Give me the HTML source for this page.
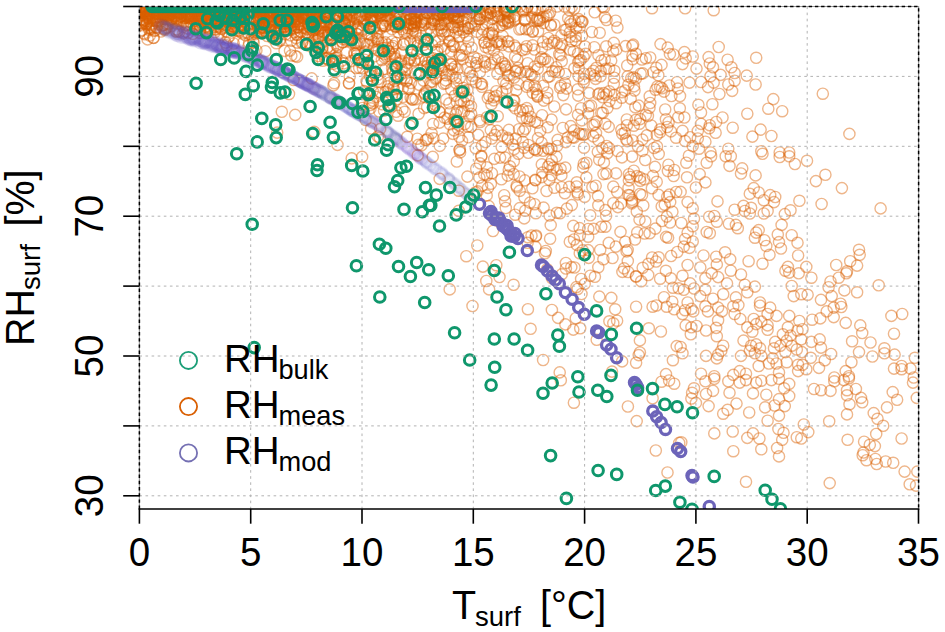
<!DOCTYPE html>
<html><head><meta charset="utf-8"><style>
html,body{margin:0;padding:0;background:#fff;}
svg{display:block;font-family:"Liberation Sans",sans-serif;}
</style></head><body>
<svg width="945" height="632" viewBox="0 0 945 632">
<rect width="945" height="632" fill="#fff"/>
<defs><clipPath id="pc"><rect x="139.4" y="6.5" width="779.2" height="502.5"/></clipPath></defs>
<g clip-path="url(#pc)">
<g fill="none" stroke="#d95f02" stroke-width="1.4" stroke-opacity="0.46">
<circle cx="713.0" cy="390.9" r="5.6"/>
<circle cx="584.0" cy="147.7" r="5.6"/>
<circle cx="507.3" cy="41.5" r="5.6"/>
<circle cx="370.9" cy="71.6" r="5.6"/>
<circle cx="270.2" cy="16.0" r="5.6"/>
<circle cx="438.2" cy="59.2" r="5.6"/>
<circle cx="439.7" cy="178.9" r="5.6"/>
<circle cx="231.9" cy="15.4" r="5.6"/>
<circle cx="358.1" cy="28.8" r="5.6"/>
<circle cx="648.4" cy="263.8" r="5.6"/>
<circle cx="421.4" cy="145.3" r="5.6"/>
<circle cx="287.6" cy="24.3" r="5.6"/>
<circle cx="302.5" cy="12.0" r="5.6"/>
<circle cx="427.1" cy="107.0" r="5.6"/>
<circle cx="426.6" cy="91.0" r="5.6"/>
<circle cx="311.9" cy="17.3" r="5.6"/>
<circle cx="542.3" cy="172.6" r="5.6"/>
<circle cx="561.4" cy="175.4" r="5.6"/>
<circle cx="277.5" cy="11.2" r="5.6"/>
<circle cx="344.8" cy="23.7" r="5.6"/>
<circle cx="165.4" cy="11.3" r="5.6"/>
<circle cx="508.4" cy="41.5" r="5.6"/>
<circle cx="385.5" cy="69.0" r="5.6"/>
<circle cx="201.0" cy="13.6" r="5.6"/>
<circle cx="147.6" cy="15.3" r="5.6"/>
<circle cx="916.0" cy="485.6" r="5.6"/>
<circle cx="628.4" cy="84.7" r="5.6"/>
<circle cx="276.1" cy="23.1" r="5.6"/>
<circle cx="799.4" cy="200.8" r="5.6"/>
<circle cx="219.7" cy="26.8" r="5.6"/>
<circle cx="289.1" cy="11.2" r="5.6"/>
<circle cx="242.2" cy="17.9" r="5.6"/>
<circle cx="183.4" cy="33.1" r="5.6"/>
<circle cx="142.0" cy="19.9" r="5.6"/>
<circle cx="470.2" cy="72.2" r="5.6"/>
<circle cx="323.5" cy="21.7" r="5.6"/>
<circle cx="258.9" cy="7.2" r="5.6"/>
<circle cx="543.2" cy="150.8" r="5.6"/>
<circle cx="259.0" cy="15.3" r="5.6"/>
<circle cx="297.1" cy="34.7" r="5.6"/>
<circle cx="214.2" cy="7.0" r="5.6"/>
<circle cx="561.8" cy="44.2" r="5.6"/>
<circle cx="144.9" cy="9.6" r="5.6"/>
<circle cx="146.6" cy="6.5" r="5.6"/>
<circle cx="447.5" cy="31.2" r="5.6"/>
<circle cx="373.3" cy="10.9" r="5.6"/>
<circle cx="363.7" cy="8.2" r="5.6"/>
<circle cx="694.0" cy="218.6" r="5.6"/>
<circle cx="606.3" cy="94.5" r="5.6"/>
<circle cx="270.4" cy="30.1" r="5.6"/>
<circle cx="260.5" cy="28.6" r="5.6"/>
<circle cx="358.0" cy="27.4" r="5.6"/>
<circle cx="575.8" cy="36.4" r="5.6"/>
<circle cx="365.7" cy="120.0" r="5.6"/>
<circle cx="377.2" cy="92.7" r="5.6"/>
<circle cx="465.0" cy="26.2" r="5.6"/>
<circle cx="375.7" cy="17.0" r="5.6"/>
<circle cx="571.1" cy="24.3" r="5.6"/>
<circle cx="238.2" cy="9.3" r="5.6"/>
<circle cx="527.6" cy="63.2" r="5.6"/>
<circle cx="139.9" cy="9.7" r="5.6"/>
<circle cx="687.6" cy="302.5" r="5.6"/>
<circle cx="735.9" cy="297.4" r="5.6"/>
<circle cx="382.7" cy="26.4" r="5.6"/>
<circle cx="457.9" cy="21.6" r="5.6"/>
<circle cx="453.3" cy="10.1" r="5.6"/>
<circle cx="559.2" cy="54.3" r="5.6"/>
<circle cx="775.2" cy="341.9" r="5.6"/>
<circle cx="431.9" cy="61.4" r="5.6"/>
<circle cx="635.9" cy="78.6" r="5.6"/>
<circle cx="601.3" cy="112.8" r="5.6"/>
<circle cx="489.3" cy="119.1" r="5.6"/>
<circle cx="613.8" cy="84.0" r="5.6"/>
<circle cx="337.8" cy="17.0" r="5.6"/>
<circle cx="737.8" cy="228.2" r="5.6"/>
<circle cx="458.2" cy="25.9" r="5.6"/>
<circle cx="325.2" cy="17.5" r="5.6"/>
<circle cx="785.4" cy="270.7" r="5.6"/>
<circle cx="749.8" cy="350.8" r="5.6"/>
<circle cx="609.2" cy="91.3" r="5.6"/>
<circle cx="373.8" cy="17.6" r="5.6"/>
<circle cx="709.2" cy="216.7" r="5.6"/>
<circle cx="302.4" cy="6.9" r="5.6"/>
<circle cx="241.3" cy="27.2" r="5.6"/>
<circle cx="300.5" cy="24.6" r="5.6"/>
<circle cx="364.5" cy="59.7" r="5.6"/>
<circle cx="171.5" cy="10.5" r="5.6"/>
<circle cx="541.3" cy="57.3" r="5.6"/>
<circle cx="578.7" cy="68.2" r="5.6"/>
<circle cx="547.9" cy="148.2" r="5.6"/>
<circle cx="602.8" cy="97.3" r="5.6"/>
<circle cx="444.3" cy="19.6" r="5.6"/>
<circle cx="749.2" cy="412.5" r="5.6"/>
<circle cx="509.9" cy="166.3" r="5.6"/>
<circle cx="336.9" cy="7.4" r="5.6"/>
<circle cx="687.6" cy="202.1" r="5.6"/>
<circle cx="268.7" cy="20.5" r="5.6"/>
<circle cx="482.9" cy="266.6" r="5.6"/>
<circle cx="293.0" cy="21.4" r="5.6"/>
<circle cx="192.0" cy="13.1" r="5.6"/>
<circle cx="380.8" cy="15.0" r="5.6"/>
<circle cx="263.8" cy="20.5" r="5.6"/>
<circle cx="244.3" cy="15.9" r="5.6"/>
<circle cx="418.3" cy="44.5" r="5.6"/>
<circle cx="699.7" cy="174.1" r="5.6"/>
<circle cx="284.6" cy="30.2" r="5.6"/>
<circle cx="651.2" cy="125.5" r="5.6"/>
<circle cx="341.2" cy="6.9" r="5.6"/>
<circle cx="549.6" cy="215.5" r="5.6"/>
<circle cx="751.1" cy="207.8" r="5.6"/>
<circle cx="417.6" cy="6.5" r="5.6"/>
<circle cx="406.5" cy="81.3" r="5.6"/>
<circle cx="537.2" cy="18.1" r="5.6"/>
<circle cx="403.6" cy="44.2" r="5.6"/>
<circle cx="275.5" cy="7.2" r="5.6"/>
<circle cx="789.2" cy="156.3" r="5.6"/>
<circle cx="667.9" cy="171.0" r="5.6"/>
<circle cx="268.6" cy="25.6" r="5.6"/>
<circle cx="190.0" cy="9.2" r="5.6"/>
<circle cx="476.2" cy="168.7" r="5.6"/>
<circle cx="336.9" cy="16.6" r="5.6"/>
<circle cx="422.1" cy="13.7" r="5.6"/>
<circle cx="622.4" cy="271.9" r="5.6"/>
<circle cx="460.8" cy="91.4" r="5.6"/>
<circle cx="268.2" cy="7.3" r="5.6"/>
<circle cx="746.0" cy="380.1" r="5.6"/>
<circle cx="605.4" cy="226.7" r="5.6"/>
<circle cx="471.1" cy="126.8" r="5.6"/>
<circle cx="244.9" cy="8.2" r="5.6"/>
<circle cx="231.6" cy="16.5" r="5.6"/>
<circle cx="700.3" cy="296.1" r="5.6"/>
<circle cx="778.4" cy="429.0" r="5.6"/>
<circle cx="674.2" cy="383.7" r="5.6"/>
<circle cx="447.5" cy="17.9" r="5.6"/>
<circle cx="450.5" cy="15.6" r="5.6"/>
<circle cx="221.9" cy="12.6" r="5.6"/>
<circle cx="519.7" cy="190.9" r="5.6"/>
<circle cx="335.0" cy="60.6" r="5.6"/>
<circle cx="282.7" cy="12.5" r="5.6"/>
<circle cx="370.5" cy="108.3" r="5.6"/>
<circle cx="149.9" cy="21.3" r="5.6"/>
<circle cx="344.1" cy="63.4" r="5.6"/>
<circle cx="308.3" cy="33.8" r="5.6"/>
<circle cx="427.6" cy="62.6" r="5.6"/>
<circle cx="635.3" cy="107.2" r="5.6"/>
<circle cx="847.6" cy="439.8" r="5.6"/>
<circle cx="472.5" cy="306.0" r="5.6"/>
<circle cx="574.3" cy="8.5" r="5.6"/>
<circle cx="424.7" cy="93.0" r="5.6"/>
<circle cx="378.2" cy="41.5" r="5.6"/>
<circle cx="914.9" cy="357.8" r="5.6"/>
<circle cx="151.3" cy="8.3" r="5.6"/>
<circle cx="168.0" cy="20.6" r="5.6"/>
<circle cx="168.9" cy="9.8" r="5.6"/>
<circle cx="609.5" cy="101.1" r="5.6"/>
<circle cx="280.4" cy="13.3" r="5.6"/>
<circle cx="357.3" cy="54.8" r="5.6"/>
<circle cx="176.5" cy="23.5" r="5.6"/>
<circle cx="682.5" cy="353.3" r="5.6"/>
<circle cx="656.4" cy="305.5" r="5.6"/>
<circle cx="530.5" cy="74.2" r="5.6"/>
<circle cx="497.4" cy="73.9" r="5.6"/>
<circle cx="349.0" cy="22.3" r="5.6"/>
<circle cx="432.2" cy="100.5" r="5.6"/>
<circle cx="463.0" cy="29.6" r="5.6"/>
<circle cx="143.8" cy="23.4" r="5.6"/>
<circle cx="249.1" cy="42.8" r="5.6"/>
<circle cx="797.5" cy="330.5" r="5.6"/>
<circle cx="162.6" cy="16.8" r="5.6"/>
<circle cx="371.2" cy="7.2" r="5.6"/>
<circle cx="377.7" cy="79.3" r="5.6"/>
<circle cx="627.9" cy="406.5" r="5.6"/>
<circle cx="426.7" cy="12.7" r="5.6"/>
<circle cx="282.4" cy="6.5" r="5.6"/>
<circle cx="414.5" cy="19.9" r="5.6"/>
<circle cx="537.2" cy="94.6" r="5.6"/>
<circle cx="351.0" cy="17.5" r="5.6"/>
<circle cx="396.1" cy="43.0" r="5.6"/>
<circle cx="355.7" cy="8.0" r="5.6"/>
<circle cx="307.9" cy="23.2" r="5.6"/>
<circle cx="577.4" cy="192.3" r="5.6"/>
<circle cx="502.0" cy="62.2" r="5.6"/>
<circle cx="445.0" cy="12.2" r="5.6"/>
<circle cx="317.3" cy="11.4" r="5.6"/>
<circle cx="819.7" cy="339.4" r="5.6"/>
<circle cx="764.4" cy="240.2" r="5.6"/>
<circle cx="717.5" cy="201.4" r="5.6"/>
<circle cx="189.3" cy="8.6" r="5.6"/>
<circle cx="767.6" cy="325.4" r="5.6"/>
<circle cx="661.5" cy="381.7" r="5.6"/>
<circle cx="473.0" cy="8.2" r="5.6"/>
<circle cx="156.9" cy="13.5" r="5.6"/>
<circle cx="264.1" cy="8.2" r="5.6"/>
<circle cx="141.7" cy="11.5" r="5.6"/>
<circle cx="569.2" cy="186.9" r="5.6"/>
<circle cx="276.4" cy="43.2" r="5.6"/>
<circle cx="377.7" cy="36.2" r="5.6"/>
<circle cx="504.8" cy="11.1" r="5.6"/>
<circle cx="194.9" cy="8.4" r="5.6"/>
<circle cx="167.4" cy="25.5" r="5.6"/>
<circle cx="282.9" cy="15.5" r="5.6"/>
<circle cx="747.3" cy="292.3" r="5.6"/>
<circle cx="579.1" cy="133.5" r="5.6"/>
<circle cx="163.0" cy="18.8" r="5.6"/>
<circle cx="257.0" cy="10.4" r="5.6"/>
<circle cx="173.0" cy="18.9" r="5.6"/>
<circle cx="596.6" cy="121.6" r="5.6"/>
<circle cx="359.2" cy="67.9" r="5.6"/>
<circle cx="645.2" cy="160.0" r="5.6"/>
<circle cx="174.7" cy="11.2" r="5.6"/>
<circle cx="545.0" cy="59.1" r="5.6"/>
<circle cx="557.7" cy="139.9" r="5.6"/>
<circle cx="146.5" cy="10.9" r="5.6"/>
<circle cx="709.2" cy="128.3" r="5.6"/>
<circle cx="385.5" cy="10.1" r="5.6"/>
<circle cx="404.6" cy="77.9" r="5.6"/>
<circle cx="156.8" cy="12.5" r="5.6"/>
<circle cx="716.2" cy="122.0" r="5.6"/>
<circle cx="452.9" cy="133.9" r="5.6"/>
<circle cx="467.6" cy="126.5" r="5.6"/>
<circle cx="349.7" cy="76.6" r="5.6"/>
<circle cx="432.5" cy="65.1" r="5.6"/>
<circle cx="348.9" cy="83.2" r="5.6"/>
<circle cx="594.9" cy="276.8" r="5.6"/>
<circle cx="476.3" cy="63.0" r="5.6"/>
<circle cx="603.5" cy="174.1" r="5.6"/>
<circle cx="248.4" cy="13.2" r="5.6"/>
<circle cx="509.7" cy="17.4" r="5.6"/>
<circle cx="437.4" cy="13.5" r="5.6"/>
<circle cx="150.5" cy="28.6" r="5.6"/>
<circle cx="441.4" cy="30.7" r="5.6"/>
<circle cx="456.8" cy="102.0" r="5.6"/>
<circle cx="499.3" cy="26.8" r="5.6"/>
<circle cx="396.1" cy="111.8" r="5.6"/>
<circle cx="445.1" cy="24.3" r="5.6"/>
<circle cx="571.8" cy="205.1" r="5.6"/>
<circle cx="598.0" cy="196.1" r="5.6"/>
<circle cx="874.9" cy="446.1" r="5.6"/>
<circle cx="338.0" cy="15.5" r="5.6"/>
<circle cx="369.0" cy="12.3" r="5.6"/>
<circle cx="390.1" cy="12.2" r="5.6"/>
<circle cx="162.7" cy="14.4" r="5.6"/>
<circle cx="433.1" cy="124.0" r="5.6"/>
<circle cx="565.3" cy="74.0" r="5.6"/>
<circle cx="550.7" cy="24.8" r="5.6"/>
<circle cx="300.1" cy="31.1" r="5.6"/>
<circle cx="444.4" cy="117.6" r="5.6"/>
<circle cx="202.8" cy="19.0" r="5.6"/>
<circle cx="543.3" cy="23.0" r="5.6"/>
<circle cx="652.1" cy="257.5" r="5.6"/>
<circle cx="733.3" cy="374.9" r="5.6"/>
<circle cx="214.7" cy="11.4" r="5.6"/>
<circle cx="617.1" cy="320.7" r="5.6"/>
<circle cx="246.0" cy="10.1" r="5.6"/>
<circle cx="417.5" cy="45.9" r="5.6"/>
<circle cx="279.9" cy="9.9" r="5.6"/>
<circle cx="341.2" cy="25.8" r="5.6"/>
<circle cx="439.3" cy="63.1" r="5.6"/>
<circle cx="471.2" cy="113.7" r="5.6"/>
<circle cx="242.8" cy="13.1" r="5.6"/>
<circle cx="615.2" cy="309.3" r="5.6"/>
<circle cx="450.0" cy="112.5" r="5.6"/>
<circle cx="189.8" cy="11.3" r="5.6"/>
<circle cx="270.3" cy="24.0" r="5.6"/>
<circle cx="603.4" cy="259.3" r="5.6"/>
<circle cx="578.6" cy="76.0" r="5.6"/>
<circle cx="506.2" cy="83.6" r="5.6"/>
<circle cx="566.2" cy="29.7" r="5.6"/>
<circle cx="214.8" cy="8.9" r="5.6"/>
<circle cx="440.9" cy="14.2" r="5.6"/>
<circle cx="180.8" cy="8.5" r="5.6"/>
<circle cx="494.9" cy="59.2" r="5.6"/>
<circle cx="487.4" cy="23.1" r="5.6"/>
<circle cx="458.2" cy="11.2" r="5.6"/>
<circle cx="246.5" cy="7.4" r="5.6"/>
<circle cx="139.5" cy="20.3" r="5.6"/>
<circle cx="636.9" cy="176.1" r="5.6"/>
<circle cx="163.7" cy="16.1" r="5.6"/>
<circle cx="656.1" cy="261.5" r="5.6"/>
<circle cx="627.7" cy="250.0" r="5.6"/>
<circle cx="184.9" cy="17.6" r="5.6"/>
<circle cx="396.7" cy="99.3" r="5.6"/>
<circle cx="293.9" cy="29.0" r="5.6"/>
<circle cx="161.0" cy="21.6" r="5.6"/>
<circle cx="205.3" cy="13.3" r="5.6"/>
<circle cx="676.7" cy="346.1" r="5.6"/>
<circle cx="631.3" cy="78.1" r="5.6"/>
<circle cx="661.5" cy="64.9" r="5.6"/>
<circle cx="561.7" cy="274.4" r="5.6"/>
<circle cx="489.8" cy="9.1" r="5.6"/>
<circle cx="368.1" cy="22.4" r="5.6"/>
<circle cx="721.9" cy="311.4" r="5.6"/>
<circle cx="507.8" cy="20.9" r="5.6"/>
<circle cx="231.0" cy="22.6" r="5.6"/>
<circle cx="168.9" cy="23.9" r="5.6"/>
<circle cx="556.4" cy="156.6" r="5.6"/>
<circle cx="269.5" cy="21.4" r="5.6"/>
<circle cx="149.2" cy="29.8" r="5.6"/>
<circle cx="487.3" cy="15.1" r="5.6"/>
<circle cx="723.2" cy="345.7" r="5.6"/>
<circle cx="439.5" cy="122.6" r="5.6"/>
<circle cx="366.9" cy="24.6" r="5.6"/>
<circle cx="457.7" cy="17.7" r="5.6"/>
<circle cx="253.4" cy="10.9" r="5.6"/>
<circle cx="181.1" cy="16.4" r="5.6"/>
<circle cx="797.5" cy="242.8" r="5.6"/>
<circle cx="378.6" cy="13.2" r="5.6"/>
<circle cx="255.7" cy="6.5" r="5.6"/>
<circle cx="633.8" cy="77.4" r="5.6"/>
<circle cx="250.9" cy="6.9" r="5.6"/>
<circle cx="332.7" cy="48.3" r="5.6"/>
<circle cx="350.6" cy="39.6" r="5.6"/>
<circle cx="695.9" cy="187.5" r="5.6"/>
<circle cx="234.4" cy="9.5" r="5.6"/>
<circle cx="660.5" cy="44.1" r="5.6"/>
<circle cx="520.0" cy="6.5" r="5.6"/>
<circle cx="403.3" cy="44.5" r="5.6"/>
<circle cx="830.5" cy="390.9" r="5.6"/>
<circle cx="625.6" cy="46.1" r="5.6"/>
<circle cx="487.8" cy="98.1" r="5.6"/>
<circle cx="236.6" cy="11.8" r="5.6"/>
<circle cx="356.9" cy="19.2" r="5.6"/>
<circle cx="192.9" cy="33.8" r="5.6"/>
<circle cx="770.2" cy="307.6" r="5.6"/>
<circle cx="535.3" cy="9.0" r="5.6"/>
<circle cx="564.9" cy="29.8" r="5.6"/>
<circle cx="439.6" cy="14.9" r="5.6"/>
<circle cx="705.4" cy="289.8" r="5.6"/>
<circle cx="467.6" cy="8.6" r="5.6"/>
<circle cx="650.2" cy="103.0" r="5.6"/>
<circle cx="292.8" cy="14.2" r="5.6"/>
<circle cx="744.8" cy="211.0" r="5.6"/>
<circle cx="524.8" cy="180.4" r="5.6"/>
<circle cx="424.4" cy="18.5" r="5.6"/>
<circle cx="497.7" cy="116.2" r="5.6"/>
<circle cx="685.1" cy="239.0" r="5.6"/>
<circle cx="560.0" cy="213.2" r="5.6"/>
<circle cx="289.9" cy="23.8" r="5.6"/>
<circle cx="489.1" cy="41.5" r="5.6"/>
<circle cx="443.6" cy="66.7" r="5.6"/>
<circle cx="570.1" cy="21.6" r="5.6"/>
<circle cx="277.5" cy="16.2" r="5.6"/>
<circle cx="393.9" cy="89.4" r="5.6"/>
<circle cx="201.2" cy="24.0" r="5.6"/>
<circle cx="277.7" cy="9.6" r="5.6"/>
<circle cx="414.2" cy="26.3" r="5.6"/>
<circle cx="268.1" cy="7.7" r="5.6"/>
<circle cx="453.4" cy="44.4" r="5.6"/>
<circle cx="465.8" cy="48.9" r="5.6"/>
<circle cx="176.5" cy="31.8" r="5.6"/>
<circle cx="232.4" cy="13.2" r="5.6"/>
<circle cx="382.1" cy="43.0" r="5.6"/>
<circle cx="549.4" cy="179.9" r="5.6"/>
<circle cx="514.4" cy="45.5" r="5.6"/>
<circle cx="180.8" cy="9.0" r="5.6"/>
<circle cx="140.7" cy="15.7" r="5.6"/>
<circle cx="178.4" cy="7.5" r="5.6"/>
<circle cx="153.5" cy="37.8" r="5.6"/>
<circle cx="467.1" cy="67.8" r="5.6"/>
<circle cx="565.3" cy="167.6" r="5.6"/>
<circle cx="356.6" cy="29.6" r="5.6"/>
<circle cx="336.3" cy="54.1" r="5.6"/>
<circle cx="314.7" cy="19.0" r="5.6"/>
<circle cx="169.8" cy="12.7" r="5.6"/>
<circle cx="243.3" cy="42.6" r="5.6"/>
<circle cx="485.6" cy="47.0" r="5.6"/>
<circle cx="171.7" cy="11.0" r="5.6"/>
<circle cx="793.7" cy="296.1" r="5.6"/>
<circle cx="139.7" cy="8.7" r="5.6"/>
<circle cx="193.3" cy="11.9" r="5.6"/>
<circle cx="204.4" cy="13.8" r="5.6"/>
<circle cx="302.4" cy="27.8" r="5.6"/>
<circle cx="516.9" cy="187.3" r="5.6"/>
<circle cx="692.7" cy="146.1" r="5.6"/>
<circle cx="283.3" cy="15.2" r="5.6"/>
<circle cx="595.6" cy="78.9" r="5.6"/>
<circle cx="614.4" cy="95.1" r="5.6"/>
<circle cx="551.5" cy="119.6" r="5.6"/>
<circle cx="728.3" cy="148.7" r="5.6"/>
<circle cx="701.0" cy="373.7" r="5.6"/>
<circle cx="701.0" cy="82.0" r="5.6"/>
<circle cx="227.2" cy="10.8" r="5.6"/>
<circle cx="512.9" cy="144.6" r="5.6"/>
<circle cx="285.7" cy="10.9" r="5.6"/>
<circle cx="502.5" cy="35.9" r="5.6"/>
<circle cx="691.4" cy="398.5" r="5.6"/>
<circle cx="188.0" cy="32.7" r="5.6"/>
<circle cx="576.4" cy="287.1" r="5.6"/>
<circle cx="410.0" cy="14.7" r="5.6"/>
<circle cx="654.1" cy="148.0" r="5.6"/>
<circle cx="394.3" cy="54.4" r="5.6"/>
<circle cx="380.9" cy="8.7" r="5.6"/>
<circle cx="670.9" cy="131.4" r="5.6"/>
<circle cx="322.6" cy="48.0" r="5.6"/>
<circle cx="744.8" cy="284.7" r="5.6"/>
<circle cx="208.5" cy="10.4" r="5.6"/>
<circle cx="462.8" cy="59.1" r="5.6"/>
<circle cx="485.1" cy="66.6" r="5.6"/>
<circle cx="370.2" cy="16.8" r="5.6"/>
<circle cx="183.1" cy="8.4" r="5.6"/>
<circle cx="425.6" cy="140.2" r="5.6"/>
<circle cx="779.0" cy="378.8" r="5.6"/>
<circle cx="493.7" cy="97.2" r="5.6"/>
<circle cx="366.5" cy="81.1" r="5.6"/>
<circle cx="289.0" cy="94.0" r="5.6"/>
<circle cx="477.6" cy="191.4" r="5.6"/>
<circle cx="505.1" cy="201.3" r="5.6"/>
<circle cx="146.3" cy="23.9" r="5.6"/>
<circle cx="365.6" cy="51.4" r="5.6"/>
<circle cx="442.2" cy="7.4" r="5.6"/>
<circle cx="264.1" cy="17.5" r="5.6"/>
<circle cx="180.2" cy="13.5" r="5.6"/>
<circle cx="607.2" cy="153.2" r="5.6"/>
<circle cx="740.3" cy="319.0" r="5.6"/>
<circle cx="779.0" cy="372.4" r="5.6"/>
<circle cx="716.8" cy="358.4" r="5.6"/>
<circle cx="242.5" cy="8.6" r="5.6"/>
<circle cx="281.1" cy="23.3" r="5.6"/>
<circle cx="230.0" cy="12.0" r="5.6"/>
<circle cx="539.9" cy="18.6" r="5.6"/>
<circle cx="672.9" cy="360.2" r="5.6"/>
<circle cx="441.7" cy="69.8" r="5.6"/>
<circle cx="410.9" cy="83.0" r="5.6"/>
<circle cx="629.7" cy="195.4" r="5.6"/>
<circle cx="190.5" cy="18.4" r="5.6"/>
<circle cx="304.2" cy="20.5" r="5.6"/>
<circle cx="407.4" cy="28.1" r="5.6"/>
<circle cx="186.9" cy="17.4" r="5.6"/>
<circle cx="801.3" cy="438.5" r="5.6"/>
<circle cx="741.0" cy="173.5" r="5.6"/>
<circle cx="811.4" cy="277.7" r="5.6"/>
<circle cx="758.7" cy="230.1" r="5.6"/>
<circle cx="782.2" cy="111.2" r="5.6"/>
<circle cx="540.2" cy="131.0" r="5.6"/>
<circle cx="443.8" cy="83.9" r="5.6"/>
<circle cx="515.3" cy="6.8" r="5.6"/>
<circle cx="175.6" cy="16.2" r="5.6"/>
<circle cx="207.3" cy="20.2" r="5.6"/>
<circle cx="481.0" cy="83.9" r="5.6"/>
<circle cx="161.7" cy="8.2" r="5.6"/>
<circle cx="420.5" cy="38.3" r="5.6"/>
<circle cx="632.7" cy="140.5" r="5.6"/>
<circle cx="404.3" cy="32.6" r="5.6"/>
<circle cx="346.0" cy="18.5" r="5.6"/>
<circle cx="537.1" cy="150.6" r="5.6"/>
<circle cx="613.3" cy="186.6" r="5.6"/>
<circle cx="305.0" cy="15.8" r="5.6"/>
<circle cx="680.0" cy="96.0" r="5.6"/>
<circle cx="162.8" cy="25.1" r="5.6"/>
<circle cx="573.9" cy="402.7" r="5.6"/>
<circle cx="312.7" cy="30.2" r="5.6"/>
<circle cx="462.0" cy="55.2" r="5.6"/>
<circle cx="399.8" cy="6.5" r="5.6"/>
<circle cx="252.7" cy="20.6" r="5.6"/>
<circle cx="408.8" cy="13.4" r="5.6"/>
<circle cx="214.6" cy="14.8" r="5.6"/>
<circle cx="320.7" cy="25.4" r="5.6"/>
<circle cx="259.7" cy="8.2" r="5.6"/>
<circle cx="359.9" cy="14.6" r="5.6"/>
<circle cx="439.9" cy="8.4" r="5.6"/>
<circle cx="644.6" cy="233.5" r="5.6"/>
<circle cx="489.1" cy="289.4" r="5.6"/>
<circle cx="219.8" cy="23.9" r="5.6"/>
<circle cx="608.7" cy="126.9" r="5.6"/>
<circle cx="318.8" cy="18.9" r="5.6"/>
<circle cx="409.3" cy="59.6" r="5.6"/>
<circle cx="506.5" cy="10.6" r="5.6"/>
<circle cx="756.2" cy="324.1" r="5.6"/>
<circle cx="525.3" cy="20.6" r="5.6"/>
<circle cx="185.0" cy="31.7" r="5.6"/>
<circle cx="598.5" cy="140.4" r="5.6"/>
<circle cx="626.6" cy="251.4" r="5.6"/>
<circle cx="668.6" cy="122.2" r="5.6"/>
<circle cx="516.6" cy="185.7" r="5.6"/>
<circle cx="338.9" cy="7.5" r="5.6"/>
<circle cx="684.4" cy="117.5" r="5.6"/>
<circle cx="276.9" cy="16.3" r="5.6"/>
<circle cx="243.9" cy="24.8" r="5.6"/>
<circle cx="875.4" cy="459.0" r="5.6"/>
<circle cx="683.8" cy="246.6" r="5.6"/>
<circle cx="425.6" cy="60.8" r="5.6"/>
<circle cx="184.6" cy="15.8" r="5.6"/>
<circle cx="234.7" cy="7.9" r="5.6"/>
<circle cx="588.3" cy="229.0" r="5.6"/>
<circle cx="433.1" cy="19.6" r="5.6"/>
<circle cx="180.2" cy="8.8" r="5.6"/>
<circle cx="308.9" cy="43.1" r="5.6"/>
<circle cx="681.3" cy="223.0" r="5.6"/>
<circle cx="526.6" cy="46.2" r="5.6"/>
<circle cx="260.2" cy="31.9" r="5.6"/>
<circle cx="437.6" cy="49.8" r="5.6"/>
<circle cx="395.3" cy="19.0" r="5.6"/>
<circle cx="391.8" cy="94.8" r="5.6"/>
<circle cx="831.1" cy="354.0" r="5.6"/>
<circle cx="349.2" cy="19.6" r="5.6"/>
<circle cx="175.6" cy="6.9" r="5.6"/>
<circle cx="609.4" cy="321.3" r="5.6"/>
<circle cx="231.6" cy="10.1" r="5.6"/>
<circle cx="195.7" cy="10.3" r="5.6"/>
<circle cx="149.1" cy="9.4" r="5.6"/>
<circle cx="593.3" cy="136.4" r="5.6"/>
<circle cx="170.5" cy="11.3" r="5.6"/>
<circle cx="303.5" cy="18.2" r="5.6"/>
<circle cx="258.6" cy="6.5" r="5.6"/>
<circle cx="636.1" cy="276.6" r="5.6"/>
<circle cx="386.3" cy="47.9" r="5.6"/>
<circle cx="749.8" cy="193.8" r="5.6"/>
<circle cx="156.6" cy="27.5" r="5.6"/>
<circle cx="302.1" cy="23.9" r="5.6"/>
<circle cx="356.7" cy="42.8" r="5.6"/>
<circle cx="515.5" cy="7.1" r="5.6"/>
<circle cx="142.0" cy="15.2" r="5.6"/>
<circle cx="520.1" cy="111.4" r="5.6"/>
<circle cx="401.0" cy="60.8" r="5.6"/>
<circle cx="730.8" cy="156.3" r="5.6"/>
<circle cx="826.7" cy="311.4" r="5.6"/>
<circle cx="535.1" cy="121.7" r="5.6"/>
<circle cx="671.1" cy="256.0" r="5.6"/>
<circle cx="798.1" cy="255.5" r="5.6"/>
<circle cx="434.4" cy="68.9" r="5.6"/>
<circle cx="157.4" cy="21.6" r="5.6"/>
<circle cx="526.8" cy="108.1" r="5.6"/>
<circle cx="760.6" cy="129.6" r="5.6"/>
<circle cx="901.6" cy="366.0" r="5.6"/>
<circle cx="480.1" cy="122.0" r="5.6"/>
<circle cx="640.7" cy="73.7" r="5.6"/>
<circle cx="400.1" cy="15.7" r="5.6"/>
<circle cx="552.3" cy="71.1" r="5.6"/>
<circle cx="295.6" cy="13.7" r="5.6"/>
<circle cx="376.5" cy="39.1" r="5.6"/>
<circle cx="486.7" cy="195.4" r="5.6"/>
<circle cx="382.7" cy="69.5" r="5.6"/>
<circle cx="502.0" cy="45.0" r="5.6"/>
<circle cx="381.3" cy="52.6" r="5.6"/>
<circle cx="382.6" cy="25.1" r="5.6"/>
<circle cx="637.2" cy="232.4" r="5.6"/>
<circle cx="371.7" cy="35.4" r="5.6"/>
<circle cx="194.6" cy="11.2" r="5.6"/>
<circle cx="887.0" cy="407.4" r="5.6"/>
<circle cx="440.1" cy="68.0" r="5.6"/>
<circle cx="630.7" cy="98.7" r="5.6"/>
<circle cx="351.2" cy="37.4" r="5.6"/>
<circle cx="260.1" cy="8.4" r="5.6"/>
<circle cx="369.2" cy="34.2" r="5.6"/>
<circle cx="545.8" cy="8.1" r="5.6"/>
<circle cx="566.8" cy="208.6" r="5.6"/>
<circle cx="210.0" cy="6.5" r="5.6"/>
<circle cx="159.2" cy="13.9" r="5.6"/>
<circle cx="227.8" cy="19.2" r="5.6"/>
<circle cx="447.5" cy="118.8" r="5.6"/>
<circle cx="417.7" cy="41.5" r="5.6"/>
<circle cx="193.8" cy="7.2" r="5.6"/>
<circle cx="361.5" cy="104.7" r="5.6"/>
<circle cx="530.6" cy="116.7" r="5.6"/>
<circle cx="262.9" cy="11.1" r="5.6"/>
<circle cx="700.3" cy="267.5" r="5.6"/>
<circle cx="385.5" cy="7.1" r="5.6"/>
<circle cx="183.9" cy="21.8" r="5.6"/>
<circle cx="564.9" cy="193.2" r="5.6"/>
<circle cx="251.6" cy="29.5" r="5.6"/>
<circle cx="584.7" cy="134.4" r="5.6"/>
<circle cx="482.9" cy="29.5" r="5.6"/>
<circle cx="250.2" cy="6.5" r="5.6"/>
<circle cx="343.0" cy="33.5" r="5.6"/>
<circle cx="200.8" cy="11.4" r="5.6"/>
<circle cx="643.3" cy="205.5" r="5.6"/>
<circle cx="258.9" cy="22.8" r="5.6"/>
<circle cx="454.0" cy="18.3" r="5.6"/>
<circle cx="333.8" cy="8.0" r="5.6"/>
<circle cx="360.3" cy="43.3" r="5.6"/>
<circle cx="527.9" cy="237.2" r="5.6"/>
<circle cx="226.0" cy="31.3" r="5.6"/>
<circle cx="445.8" cy="83.3" r="5.6"/>
<circle cx="227.8" cy="8.3" r="5.6"/>
<circle cx="406.7" cy="80.4" r="5.6"/>
<circle cx="789.2" cy="315.9" r="5.6"/>
<circle cx="169.1" cy="15.7" r="5.6"/>
<circle cx="505.3" cy="23.6" r="5.6"/>
<circle cx="467.8" cy="28.3" r="5.6"/>
<circle cx="765.1" cy="407.4" r="5.6"/>
<circle cx="772.7" cy="358.4" r="5.6"/>
<circle cx="278.1" cy="33.0" r="5.6"/>
<circle cx="616.0" cy="103.2" r="5.6"/>
<circle cx="163.7" cy="12.2" r="5.6"/>
<circle cx="565.4" cy="324.4" r="5.6"/>
<circle cx="237.2" cy="14.5" r="5.6"/>
<circle cx="628.9" cy="174.2" r="5.6"/>
<circle cx="206.4" cy="19.5" r="5.6"/>
<circle cx="537.5" cy="20.6" r="5.6"/>
<circle cx="880.6" cy="208.4" r="5.6"/>
<circle cx="509.2" cy="7.5" r="5.6"/>
<circle cx="234.2" cy="14.2" r="5.6"/>
<circle cx="290.9" cy="28.5" r="5.6"/>
<circle cx="810.8" cy="357.8" r="5.6"/>
<circle cx="518.4" cy="84.1" r="5.6"/>
<circle cx="407.2" cy="136.8" r="5.6"/>
<circle cx="144.0" cy="13.1" r="5.6"/>
<circle cx="213.3" cy="9.6" r="5.6"/>
<circle cx="212.4" cy="19.5" r="5.6"/>
<circle cx="622.1" cy="361.4" r="5.6"/>
<circle cx="431.5" cy="74.3" r="5.6"/>
<circle cx="775.2" cy="197.0" r="5.6"/>
<circle cx="791.7" cy="286.0" r="5.6"/>
<circle cx="328.9" cy="10.5" r="5.6"/>
<circle cx="263.5" cy="27.9" r="5.6"/>
<circle cx="489.9" cy="64.5" r="5.6"/>
<circle cx="767.6" cy="329.8" r="5.6"/>
<circle cx="727.6" cy="409.9" r="5.6"/>
<circle cx="316.9" cy="40.5" r="5.6"/>
<circle cx="154.2" cy="10.7" r="5.6"/>
<circle cx="228.7" cy="7.8" r="5.6"/>
<circle cx="449.9" cy="41.2" r="5.6"/>
<circle cx="843.8" cy="380.1" r="5.6"/>
<circle cx="329.3" cy="16.4" r="5.6"/>
<circle cx="508.2" cy="17.6" r="5.6"/>
<circle cx="688.9" cy="155.7" r="5.6"/>
<circle cx="199.9" cy="30.1" r="5.6"/>
<circle cx="388.6" cy="89.4" r="5.6"/>
<circle cx="706.7" cy="162.7" r="5.6"/>
<circle cx="288.9" cy="8.1" r="5.6"/>
<circle cx="298.2" cy="27.1" r="5.6"/>
<circle cx="141.8" cy="7.6" r="5.6"/>
<circle cx="758.7" cy="366.0" r="5.6"/>
<circle cx="350.5" cy="32.3" r="5.6"/>
<circle cx="424.9" cy="6.5" r="5.6"/>
<circle cx="154.9" cy="30.3" r="5.6"/>
<circle cx="441.4" cy="12.5" r="5.6"/>
<circle cx="464.8" cy="124.1" r="5.6"/>
<circle cx="269.2" cy="33.2" r="5.6"/>
<circle cx="373.0" cy="100.7" r="5.6"/>
<circle cx="634.5" cy="90.5" r="5.6"/>
<circle cx="679.2" cy="442.9" r="5.6"/>
<circle cx="369.6" cy="102.5" r="5.6"/>
<circle cx="290.5" cy="29.7" r="5.6"/>
<circle cx="715.6" cy="132.8" r="5.6"/>
<circle cx="173.3" cy="6.5" r="5.6"/>
<circle cx="231.5" cy="19.0" r="5.6"/>
<circle cx="402.3" cy="29.2" r="5.6"/>
<circle cx="706.0" cy="355.9" r="5.6"/>
<circle cx="760.0" cy="305.7" r="5.6"/>
<circle cx="354.9" cy="43.0" r="5.6"/>
<circle cx="477.4" cy="58.7" r="5.6"/>
<circle cx="459.0" cy="29.7" r="5.6"/>
<circle cx="571.8" cy="7.1" r="5.6"/>
<circle cx="786.7" cy="362.2" r="5.6"/>
<circle cx="524.4" cy="19.9" r="5.6"/>
<circle cx="551.5" cy="175.4" r="5.6"/>
<circle cx="652.9" cy="175.9" r="5.6"/>
<circle cx="153.0" cy="20.4" r="5.6"/>
<circle cx="460.3" cy="7.6" r="5.6"/>
<circle cx="333.7" cy="19.3" r="5.6"/>
<circle cx="885.6" cy="461.5" r="5.6"/>
<circle cx="195.2" cy="6.6" r="5.6"/>
<circle cx="338.0" cy="15.5" r="5.6"/>
<circle cx="419.2" cy="6.5" r="5.6"/>
<circle cx="697.8" cy="138.5" r="5.6"/>
<circle cx="384.5" cy="57.4" r="5.6"/>
<circle cx="148.3" cy="18.3" r="5.6"/>
<circle cx="263.5" cy="19.5" r="5.6"/>
<circle cx="844.4" cy="290.4" r="5.6"/>
<circle cx="424.8" cy="94.3" r="5.6"/>
<circle cx="388.8" cy="51.5" r="5.6"/>
<circle cx="292.9" cy="9.1" r="5.6"/>
<circle cx="173.6" cy="15.6" r="5.6"/>
<circle cx="468.1" cy="27.9" r="5.6"/>
<circle cx="197.7" cy="13.6" r="5.6"/>
<circle cx="141.8" cy="30.0" r="5.6"/>
<circle cx="339.3" cy="36.4" r="5.6"/>
<circle cx="169.4" cy="12.0" r="5.6"/>
<circle cx="462.0" cy="140.9" r="5.6"/>
<circle cx="226.6" cy="45.2" r="5.6"/>
<circle cx="266.2" cy="12.2" r="5.6"/>
<circle cx="444.8" cy="31.5" r="5.6"/>
<circle cx="455.3" cy="120.9" r="5.6"/>
<circle cx="485.3" cy="62.4" r="5.6"/>
<circle cx="655.6" cy="89.7" r="5.6"/>
<circle cx="819.0" cy="367.9" r="5.6"/>
<circle cx="705.4" cy="141.7" r="5.6"/>
<circle cx="402.7" cy="88.5" r="5.6"/>
<circle cx="414.8" cy="18.7" r="5.6"/>
<circle cx="652.6" cy="398.3" r="5.6"/>
<circle cx="747.3" cy="327.3" r="5.6"/>
<circle cx="547.7" cy="127.3" r="5.6"/>
<circle cx="507.9" cy="75.3" r="5.6"/>
<circle cx="779.7" cy="152.5" r="5.6"/>
<circle cx="631.9" cy="199.8" r="5.6"/>
<circle cx="551.9" cy="310.0" r="5.6"/>
<circle cx="146.4" cy="11.2" r="5.6"/>
<circle cx="641.2" cy="281.3" r="5.6"/>
<circle cx="140.6" cy="25.4" r="5.6"/>
<circle cx="271.5" cy="31.5" r="5.6"/>
<circle cx="655.0" cy="166.9" r="5.6"/>
<circle cx="199.8" cy="32.8" r="5.6"/>
<circle cx="714.3" cy="216.0" r="5.6"/>
<circle cx="332.5" cy="28.5" r="5.6"/>
<circle cx="716.8" cy="264.4" r="5.6"/>
<circle cx="269.2" cy="12.4" r="5.6"/>
<circle cx="456.5" cy="17.9" r="5.6"/>
<circle cx="666.6" cy="306.7" r="5.6"/>
<circle cx="556.8" cy="169.6" r="5.6"/>
<circle cx="254.4" cy="8.7" r="5.6"/>
<circle cx="414.2" cy="60.8" r="5.6"/>
<circle cx="450.1" cy="124.3" r="5.6"/>
<circle cx="288.6" cy="21.6" r="5.6"/>
<circle cx="534.4" cy="49.5" r="5.6"/>
<circle cx="451.1" cy="6.8" r="5.6"/>
<circle cx="140.3" cy="11.2" r="5.6"/>
<circle cx="225.1" cy="14.5" r="5.6"/>
<circle cx="336.3" cy="57.5" r="5.6"/>
<circle cx="490.4" cy="13.2" r="5.6"/>
<circle cx="359.3" cy="40.6" r="5.6"/>
<circle cx="578.0" cy="114.8" r="5.6"/>
<circle cx="677.0" cy="82.2" r="5.6"/>
<circle cx="453.8" cy="119.6" r="5.6"/>
<circle cx="278.3" cy="36.0" r="5.6"/>
<circle cx="277.6" cy="15.2" r="5.6"/>
<circle cx="149.4" cy="17.9" r="5.6"/>
<circle cx="415.3" cy="22.8" r="5.6"/>
<circle cx="735.9" cy="224.9" r="5.6"/>
<circle cx="489.4" cy="95.9" r="5.6"/>
<circle cx="281.8" cy="13.3" r="5.6"/>
<circle cx="155.5" cy="18.1" r="5.6"/>
<circle cx="154.5" cy="30.8" r="5.6"/>
<circle cx="273.7" cy="37.0" r="5.6"/>
<circle cx="496.4" cy="91.2" r="5.6"/>
<circle cx="452.6" cy="75.9" r="5.6"/>
<circle cx="720.6" cy="74.9" r="5.6"/>
<circle cx="139.7" cy="12.4" r="5.6"/>
<circle cx="523.1" cy="9.8" r="5.6"/>
<circle cx="485.4" cy="142.1" r="5.6"/>
<circle cx="706.0" cy="394.0" r="5.6"/>
<circle cx="472.2" cy="12.4" r="5.6"/>
<circle cx="251.4" cy="9.4" r="5.6"/>
<circle cx="482.0" cy="84.1" r="5.6"/>
<circle cx="144.8" cy="34.3" r="5.6"/>
<circle cx="250.4" cy="11.1" r="5.6"/>
<circle cx="391.6" cy="20.1" r="5.6"/>
<circle cx="617.4" cy="27.5" r="5.6"/>
<circle cx="299.9" cy="9.6" r="5.6"/>
<circle cx="210.5" cy="30.1" r="5.6"/>
<circle cx="386.5" cy="11.3" r="5.6"/>
<circle cx="256.1" cy="23.0" r="5.6"/>
<circle cx="333.4" cy="85.4" r="5.6"/>
<circle cx="351.5" cy="41.8" r="5.6"/>
<circle cx="262.4" cy="27.4" r="5.6"/>
<circle cx="658.6" cy="194.9" r="5.6"/>
<circle cx="716.2" cy="256.7" r="5.6"/>
<circle cx="366.9" cy="44.5" r="5.6"/>
<circle cx="279.4" cy="20.2" r="5.6"/>
<circle cx="883.2" cy="425.8" r="5.6"/>
<circle cx="626.1" cy="139.2" r="5.6"/>
<circle cx="535.2" cy="179.9" r="5.6"/>
<circle cx="561.7" cy="61.3" r="5.6"/>
<circle cx="814.0" cy="389.0" r="5.6"/>
<circle cx="613.3" cy="203.2" r="5.6"/>
<circle cx="694.0" cy="288.5" r="5.6"/>
<circle cx="156.8" cy="10.5" r="5.6"/>
<circle cx="311.9" cy="17.6" r="5.6"/>
<circle cx="594.3" cy="47.2" r="5.6"/>
<circle cx="557.1" cy="6.5" r="5.6"/>
<circle cx="371.9" cy="6.9" r="5.6"/>
<circle cx="357.8" cy="18.3" r="5.6"/>
<circle cx="756.2" cy="344.4" r="5.6"/>
<circle cx="418.6" cy="113.8" r="5.6"/>
<circle cx="265.9" cy="6.5" r="5.6"/>
<circle cx="400.4" cy="74.7" r="5.6"/>
<circle cx="237.9" cy="8.3" r="5.6"/>
<circle cx="534.5" cy="76.7" r="5.6"/>
<circle cx="581.8" cy="120.4" r="5.6"/>
<circle cx="190.8" cy="11.4" r="5.6"/>
<circle cx="306.5" cy="25.8" r="5.6"/>
<circle cx="190.7" cy="13.8" r="5.6"/>
<circle cx="193.3" cy="7.1" r="5.6"/>
<circle cx="266.6" cy="7.7" r="5.6"/>
<circle cx="762.5" cy="153.8" r="5.6"/>
<circle cx="486.3" cy="281.0" r="5.6"/>
<circle cx="272.4" cy="10.7" r="5.6"/>
<circle cx="703.5" cy="255.5" r="5.6"/>
<circle cx="142.9" cy="20.5" r="5.6"/>
<circle cx="670.2" cy="202.1" r="5.6"/>
<circle cx="335.6" cy="60.5" r="5.6"/>
<circle cx="384.7" cy="10.4" r="5.6"/>
<circle cx="244.3" cy="14.2" r="5.6"/>
<circle cx="596.4" cy="67.8" r="5.6"/>
<circle cx="723.2" cy="294.2" r="5.6"/>
<circle cx="581.0" cy="21.3" r="5.6"/>
<circle cx="502.2" cy="25.0" r="5.6"/>
<circle cx="182.7" cy="6.5" r="5.6"/>
<circle cx="518.3" cy="153.8" r="5.6"/>
<circle cx="910.5" cy="368.6" r="5.6"/>
<circle cx="753.7" cy="319.0" r="5.6"/>
<circle cx="299.2" cy="7.8" r="5.6"/>
<circle cx="433.0" cy="13.3" r="5.6"/>
<circle cx="493.7" cy="18.1" r="5.6"/>
<circle cx="143.6" cy="12.8" r="5.6"/>
<circle cx="676.2" cy="192.0" r="5.6"/>
<circle cx="612.5" cy="258.0" r="5.6"/>
<circle cx="390.7" cy="7.4" r="5.6"/>
<circle cx="404.7" cy="111.8" r="5.6"/>
<circle cx="577.8" cy="89.3" r="5.6"/>
<circle cx="257.9" cy="8.7" r="5.6"/>
<circle cx="297.8" cy="18.8" r="5.6"/>
<circle cx="308.1" cy="12.9" r="5.6"/>
<circle cx="368.4" cy="44.5" r="5.6"/>
<circle cx="143.1" cy="21.4" r="5.6"/>
<circle cx="340.1" cy="16.4" r="5.6"/>
<circle cx="687.6" cy="232.6" r="5.6"/>
<circle cx="787.9" cy="327.3" r="5.6"/>
<circle cx="433.5" cy="138.4" r="5.6"/>
<circle cx="766.3" cy="246.0" r="5.6"/>
<circle cx="522.8" cy="110.0" r="5.6"/>
<circle cx="335.4" cy="71.9" r="5.6"/>
<circle cx="573.3" cy="225.9" r="5.6"/>
<circle cx="430.9" cy="66.9" r="5.6"/>
<circle cx="296.5" cy="7.1" r="5.6"/>
<circle cx="705.4" cy="182.4" r="5.6"/>
<circle cx="651.9" cy="188.3" r="5.6"/>
<circle cx="170.5" cy="7.9" r="5.6"/>
<circle cx="190.2" cy="21.9" r="5.6"/>
<circle cx="333.9" cy="31.8" r="5.6"/>
<circle cx="391.9" cy="29.0" r="5.6"/>
<circle cx="479.4" cy="18.9" r="5.6"/>
<circle cx="504.5" cy="8.9" r="5.6"/>
<circle cx="182.7" cy="12.0" r="5.6"/>
<circle cx="790.5" cy="335.6" r="5.6"/>
<circle cx="149.2" cy="7.9" r="5.6"/>
<circle cx="344.1" cy="15.1" r="5.6"/>
<circle cx="761.3" cy="380.7" r="5.6"/>
<circle cx="172.2" cy="8.7" r="5.6"/>
<circle cx="275.5" cy="8.3" r="5.6"/>
<circle cx="576.8" cy="244.9" r="5.6"/>
<circle cx="380.6" cy="9.7" r="5.6"/>
<circle cx="626.9" cy="125.2" r="5.6"/>
<circle cx="468.8" cy="28.7" r="5.6"/>
<circle cx="682.5" cy="64.1" r="5.6"/>
<circle cx="306.9" cy="10.1" r="5.6"/>
<circle cx="421.3" cy="22.2" r="5.6"/>
<circle cx="410.3" cy="41.4" r="5.6"/>
<circle cx="443.4" cy="9.8" r="5.6"/>
<circle cx="239.9" cy="7.5" r="5.6"/>
<circle cx="333.3" cy="26.3" r="5.6"/>
<circle cx="373.8" cy="47.8" r="5.6"/>
<circle cx="443.2" cy="138.6" r="5.6"/>
<circle cx="358.3" cy="27.9" r="5.6"/>
<circle cx="515.1" cy="56.5" r="5.6"/>
<circle cx="514.3" cy="100.6" r="5.6"/>
<circle cx="277.8" cy="16.7" r="5.6"/>
<circle cx="199.3" cy="18.6" r="5.6"/>
<circle cx="427.8" cy="138.5" r="5.6"/>
<circle cx="231.0" cy="18.9" r="5.6"/>
<circle cx="728.3" cy="381.3" r="5.6"/>
<circle cx="582.0" cy="35.7" r="5.6"/>
<circle cx="690.2" cy="137.2" r="5.6"/>
<circle cx="771.4" cy="380.1" r="5.6"/>
<circle cx="146.8" cy="16.4" r="5.6"/>
<circle cx="426.5" cy="139.9" r="5.6"/>
<circle cx="604.7" cy="59.7" r="5.6"/>
<circle cx="264.0" cy="11.7" r="5.6"/>
<circle cx="238.5" cy="15.4" r="5.6"/>
<circle cx="445.6" cy="6.5" r="5.6"/>
<circle cx="554.1" cy="40.8" r="5.6"/>
<circle cx="714.3" cy="378.8" r="5.6"/>
<circle cx="460.7" cy="47.1" r="5.6"/>
<circle cx="522.8" cy="141.9" r="5.6"/>
<circle cx="417.3" cy="138.7" r="5.6"/>
<circle cx="481.3" cy="156.6" r="5.6"/>
<circle cx="199.9" cy="16.4" r="5.6"/>
<circle cx="480.1" cy="19.2" r="5.6"/>
<circle cx="294.4" cy="21.9" r="5.6"/>
<circle cx="140.6" cy="6.5" r="5.6"/>
<circle cx="658.3" cy="75.3" r="5.6"/>
<circle cx="468.9" cy="8.7" r="5.6"/>
<circle cx="149.7" cy="13.7" r="5.6"/>
<circle cx="612.0" cy="371.6" r="5.6"/>
<circle cx="869.8" cy="444.8" r="5.6"/>
<circle cx="302.4" cy="42.1" r="5.6"/>
<circle cx="480.2" cy="15.5" r="5.6"/>
<circle cx="325.8" cy="6.5" r="5.6"/>
<circle cx="657.4" cy="86.5" r="5.6"/>
<circle cx="319.0" cy="36.0" r="5.6"/>
<circle cx="457.3" cy="12.1" r="5.6"/>
<circle cx="628.4" cy="195.0" r="5.6"/>
<circle cx="392.1" cy="68.3" r="5.6"/>
<circle cx="689.5" cy="247.9" r="5.6"/>
<circle cx="320.5" cy="28.5" r="5.6"/>
<circle cx="679.8" cy="108.3" r="5.6"/>
<circle cx="215.1" cy="18.4" r="5.6"/>
<circle cx="598.3" cy="94.3" r="5.6"/>
<circle cx="220.4" cy="16.6" r="5.6"/>
<circle cx="295.4" cy="18.5" r="5.6"/>
<circle cx="696.5" cy="68.6" r="5.6"/>
<circle cx="459.0" cy="91.1" r="5.6"/>
<circle cx="848.9" cy="378.2" r="5.6"/>
<circle cx="447.7" cy="6.5" r="5.6"/>
<circle cx="860.3" cy="325.4" r="5.6"/>
<circle cx="347.1" cy="7.1" r="5.6"/>
<circle cx="668.4" cy="164.7" r="5.6"/>
<circle cx="494.3" cy="158.9" r="5.6"/>
<circle cx="418.5" cy="75.3" r="5.6"/>
<circle cx="419.4" cy="84.9" r="5.6"/>
<circle cx="378.0" cy="39.2" r="5.6"/>
<circle cx="411.7" cy="54.7" r="5.6"/>
<circle cx="535.4" cy="246.9" r="5.6"/>
<circle cx="475.6" cy="192.3" r="5.6"/>
<circle cx="466.3" cy="256.2" r="5.6"/>
<circle cx="474.1" cy="57.1" r="5.6"/>
<circle cx="146.6" cy="10.4" r="5.6"/>
<circle cx="146.5" cy="23.6" r="5.6"/>
<circle cx="633.8" cy="125.7" r="5.6"/>
<circle cx="270.4" cy="6.5" r="5.6"/>
<circle cx="414.7" cy="12.8" r="5.6"/>
<circle cx="641.8" cy="59.5" r="5.6"/>
<circle cx="673.5" cy="54.5" r="5.6"/>
<circle cx="498.4" cy="17.3" r="5.6"/>
<circle cx="852.1" cy="341.3" r="5.6"/>
<circle cx="796.8" cy="349.5" r="5.6"/>
<circle cx="730.2" cy="259.3" r="5.6"/>
<circle cx="433.1" cy="58.2" r="5.6"/>
<circle cx="496.3" cy="265.2" r="5.6"/>
<circle cx="670.8" cy="278.3" r="5.6"/>
<circle cx="743.5" cy="340.6" r="5.6"/>
<circle cx="645.7" cy="114.9" r="5.6"/>
<circle cx="632.2" cy="201.9" r="5.6"/>
<circle cx="231.4" cy="16.8" r="5.6"/>
<circle cx="685.1" cy="310.2" r="5.6"/>
<circle cx="647.9" cy="116.0" r="5.6"/>
<circle cx="847.0" cy="414.4" r="5.6"/>
<circle cx="306.8" cy="15.8" r="5.6"/>
<circle cx="859.7" cy="254.8" r="5.6"/>
<circle cx="372.7" cy="8.5" r="5.6"/>
<circle cx="468.4" cy="106.0" r="5.6"/>
<circle cx="217.5" cy="26.6" r="5.6"/>
<circle cx="594.7" cy="12.3" r="5.6"/>
<circle cx="524.2" cy="218.4" r="5.6"/>
<circle cx="346.6" cy="10.4" r="5.6"/>
<circle cx="364.0" cy="21.1" r="5.6"/>
<circle cx="388.2" cy="15.5" r="5.6"/>
<circle cx="293.8" cy="27.8" r="5.6"/>
<circle cx="616.4" cy="49.5" r="5.6"/>
<circle cx="605.3" cy="123.8" r="5.6"/>
<circle cx="164.0" cy="12.3" r="5.6"/>
<circle cx="308.9" cy="17.5" r="5.6"/>
<circle cx="233.9" cy="20.5" r="5.6"/>
<circle cx="287.9" cy="10.7" r="5.6"/>
<circle cx="224.0" cy="15.8" r="5.6"/>
<circle cx="293.5" cy="6.5" r="5.6"/>
<circle cx="154.3" cy="13.5" r="5.6"/>
<circle cx="781.6" cy="224.9" r="5.6"/>
<circle cx="280.3" cy="21.4" r="5.6"/>
<circle cx="297.7" cy="7.2" r="5.6"/>
<circle cx="451.2" cy="89.2" r="5.6"/>
<circle cx="364.4" cy="22.0" r="5.6"/>
<circle cx="295.6" cy="12.0" r="5.6"/>
<circle cx="172.4" cy="13.8" r="5.6"/>
<circle cx="519.4" cy="29.5" r="5.6"/>
<circle cx="431.0" cy="7.8" r="5.6"/>
<circle cx="167.3" cy="10.9" r="5.6"/>
<circle cx="357.5" cy="31.3" r="5.6"/>
<circle cx="187.0" cy="25.2" r="5.6"/>
<circle cx="553.4" cy="167.7" r="5.6"/>
<circle cx="801.3" cy="294.2" r="5.6"/>
<circle cx="414.5" cy="16.8" r="5.6"/>
<circle cx="427.5" cy="65.9" r="5.6"/>
<circle cx="660.1" cy="278.7" r="5.6"/>
<circle cx="534.6" cy="149.5" r="5.6"/>
<circle cx="538.0" cy="138.1" r="5.6"/>
<circle cx="378.7" cy="50.8" r="5.6"/>
<circle cx="291.2" cy="40.8" r="5.6"/>
<circle cx="432.1" cy="44.9" r="5.6"/>
<circle cx="486.9" cy="175.4" r="5.6"/>
<circle cx="554.4" cy="187.8" r="5.6"/>
<circle cx="579.6" cy="228.1" r="5.6"/>
<circle cx="609.1" cy="148.1" r="5.6"/>
<circle cx="279.2" cy="27.6" r="5.6"/>
<circle cx="454.7" cy="95.8" r="5.6"/>
<circle cx="351.1" cy="61.1" r="5.6"/>
<circle cx="523.0" cy="11.4" r="5.6"/>
<circle cx="644.1" cy="179.3" r="5.6"/>
<circle cx="429.5" cy="72.1" r="5.6"/>
<circle cx="227.6" cy="32.3" r="5.6"/>
<circle cx="359.1" cy="6.5" r="5.6"/>
<circle cx="335.6" cy="21.1" r="5.6"/>
<circle cx="411.3" cy="19.2" r="5.6"/>
<circle cx="528.7" cy="29.4" r="5.6"/>
<circle cx="506.1" cy="69.5" r="5.6"/>
<circle cx="667.2" cy="196.7" r="5.6"/>
<circle cx="243.0" cy="6.8" r="5.6"/>
<circle cx="311.7" cy="78.4" r="5.6"/>
<circle cx="302.0" cy="8.3" r="5.6"/>
<circle cx="380.1" cy="129.1" r="5.6"/>
<circle cx="403.6" cy="7.9" r="5.6"/>
<circle cx="372.0" cy="8.3" r="5.6"/>
<circle cx="658.7" cy="154.0" r="5.6"/>
<circle cx="324.4" cy="16.1" r="5.6"/>
<circle cx="315.3" cy="20.8" r="5.6"/>
<circle cx="464.0" cy="111.6" r="5.6"/>
<circle cx="522.4" cy="50.1" r="5.6"/>
<circle cx="389.9" cy="56.3" r="5.6"/>
<circle cx="574.5" cy="267.5" r="5.6"/>
<circle cx="564.9" cy="83.3" r="5.6"/>
<circle cx="197.1" cy="15.6" r="5.6"/>
<circle cx="754.9" cy="286.6" r="5.6"/>
<circle cx="917.3" cy="471.6" r="5.6"/>
<circle cx="301.5" cy="17.9" r="5.6"/>
<circle cx="250.2" cy="27.1" r="5.6"/>
<circle cx="371.4" cy="39.8" r="5.6"/>
<circle cx="381.3" cy="11.0" r="5.6"/>
<circle cx="371.4" cy="16.2" r="5.6"/>
<circle cx="386.3" cy="56.2" r="5.6"/>
<circle cx="438.7" cy="14.9" r="5.6"/>
<circle cx="327.9" cy="18.9" r="5.6"/>
<circle cx="555.0" cy="71.6" r="5.6"/>
<circle cx="457.1" cy="22.2" r="5.6"/>
<circle cx="578.2" cy="95.6" r="5.6"/>
<circle cx="290.7" cy="23.4" r="5.6"/>
<circle cx="160.8" cy="8.4" r="5.6"/>
<circle cx="163.1" cy="13.7" r="5.6"/>
<circle cx="460.1" cy="152.4" r="5.6"/>
<circle cx="699.0" cy="148.7" r="5.6"/>
<circle cx="847.0" cy="395.3" r="5.6"/>
<circle cx="582.8" cy="250.4" r="5.6"/>
<circle cx="398.3" cy="32.0" r="5.6"/>
<circle cx="669.1" cy="380.5" r="5.6"/>
<circle cx="390.7" cy="105.8" r="5.6"/>
<circle cx="507.8" cy="22.1" r="5.6"/>
<circle cx="455.6" cy="77.6" r="5.6"/>
<circle cx="199.9" cy="8.1" r="5.6"/>
<circle cx="807.0" cy="160.8" r="5.6"/>
<circle cx="358.4" cy="6.8" r="5.6"/>
<circle cx="190.1" cy="6.5" r="5.6"/>
<circle cx="188.4" cy="23.9" r="5.6"/>
<circle cx="655.8" cy="450.5" r="5.6"/>
<circle cx="355.9" cy="58.9" r="5.6"/>
<circle cx="364.0" cy="91.0" r="5.6"/>
<circle cx="602.8" cy="112.8" r="5.6"/>
<circle cx="215.9" cy="29.5" r="5.6"/>
<circle cx="550.1" cy="12.4" r="5.6"/>
<circle cx="226.1" cy="25.5" r="5.6"/>
<circle cx="167.4" cy="27.3" r="5.6"/>
<circle cx="329.0" cy="60.2" r="5.6"/>
<circle cx="256.6" cy="32.3" r="5.6"/>
<circle cx="169.4" cy="8.5" r="5.6"/>
<circle cx="476.9" cy="15.7" r="5.6"/>
<circle cx="140.9" cy="9.6" r="5.6"/>
<circle cx="254.6" cy="32.7" r="5.6"/>
<circle cx="245.0" cy="21.6" r="5.6"/>
<circle cx="146.4" cy="9.9" r="5.6"/>
<circle cx="445.8" cy="80.4" r="5.6"/>
<circle cx="230.0" cy="19.1" r="5.6"/>
<circle cx="633.2" cy="44.6" r="5.6"/>
<circle cx="237.6" cy="10.6" r="5.6"/>
<circle cx="635.0" cy="239.5" r="5.6"/>
<circle cx="617.2" cy="192.0" r="5.6"/>
<circle cx="208.8" cy="7.1" r="5.6"/>
<circle cx="480.0" cy="12.4" r="5.6"/>
<circle cx="315.3" cy="39.1" r="5.6"/>
<circle cx="434.3" cy="24.2" r="5.6"/>
<circle cx="557.1" cy="146.0" r="5.6"/>
<circle cx="395.2" cy="26.6" r="5.6"/>
<circle cx="267.3" cy="36.0" r="5.6"/>
<circle cx="395.5" cy="59.0" r="5.6"/>
<circle cx="458.2" cy="124.9" r="5.6"/>
<circle cx="784.8" cy="406.1" r="5.6"/>
<circle cx="269.9" cy="17.8" r="5.6"/>
<circle cx="682.5" cy="130.9" r="5.6"/>
<circle cx="349.1" cy="83.2" r="5.6"/>
<circle cx="734.6" cy="73.0" r="5.6"/>
<circle cx="337.7" cy="46.8" r="5.6"/>
<circle cx="787.9" cy="266.9" r="5.6"/>
<circle cx="186.4" cy="11.9" r="5.6"/>
<circle cx="232.9" cy="9.9" r="5.6"/>
<circle cx="179.4" cy="10.1" r="5.6"/>
<circle cx="308.3" cy="24.0" r="5.6"/>
<circle cx="521.2" cy="28.7" r="5.6"/>
<circle cx="337.5" cy="144.9" r="5.6"/>
<circle cx="496.6" cy="11.4" r="5.6"/>
<circle cx="152.9" cy="11.4" r="5.6"/>
<circle cx="279.0" cy="10.4" r="5.6"/>
<circle cx="364.8" cy="52.3" r="5.6"/>
<circle cx="488.2" cy="7.3" r="5.6"/>
<circle cx="259.5" cy="15.3" r="5.6"/>
<circle cx="189.9" cy="17.3" r="5.6"/>
<circle cx="515.3" cy="108.3" r="5.6"/>
<circle cx="390.1" cy="53.9" r="5.6"/>
<circle cx="484.3" cy="174.4" r="5.6"/>
<circle cx="471.0" cy="26.3" r="5.6"/>
<circle cx="857.1" cy="292.3" r="5.6"/>
<circle cx="219.9" cy="13.5" r="5.6"/>
<circle cx="606.1" cy="215.7" r="5.6"/>
<circle cx="532.6" cy="45.3" r="5.6"/>
<circle cx="151.8" cy="28.7" r="5.6"/>
<circle cx="310.1" cy="11.5" r="5.6"/>
<circle cx="143.9" cy="33.2" r="5.6"/>
<circle cx="324.0" cy="8.8" r="5.6"/>
<circle cx="554.4" cy="24.7" r="5.6"/>
<circle cx="208.3" cy="14.4" r="5.6"/>
<circle cx="840.6" cy="303.7" r="5.6"/>
<circle cx="354.9" cy="53.9" r="5.6"/>
<circle cx="584.7" cy="283.9" r="5.6"/>
<circle cx="576.8" cy="182.3" r="5.6"/>
<circle cx="361.7" cy="31.1" r="5.6"/>
<circle cx="226.2" cy="16.5" r="5.6"/>
<circle cx="746.7" cy="75.6" r="5.6"/>
<circle cx="747.3" cy="437.9" r="5.6"/>
<circle cx="252.5" cy="47.5" r="5.6"/>
<circle cx="238.1" cy="27.4" r="5.6"/>
<circle cx="721.3" cy="350.8" r="5.6"/>
<circle cx="597.8" cy="151.7" r="5.6"/>
<circle cx="601.3" cy="226.8" r="5.6"/>
<circle cx="532.8" cy="31.1" r="5.6"/>
<circle cx="716.8" cy="336.2" r="5.6"/>
<circle cx="216.3" cy="15.4" r="5.6"/>
<circle cx="426.1" cy="6.5" r="5.6"/>
<circle cx="275.0" cy="9.6" r="5.6"/>
<circle cx="782.9" cy="334.3" r="5.6"/>
<circle cx="248.5" cy="12.1" r="5.6"/>
<circle cx="356.6" cy="33.7" r="5.6"/>
<circle cx="169.2" cy="19.3" r="5.6"/>
<circle cx="199.6" cy="30.0" r="5.6"/>
<circle cx="201.7" cy="14.8" r="5.6"/>
<circle cx="672.4" cy="211.7" r="5.6"/>
<circle cx="176.9" cy="18.6" r="5.6"/>
<circle cx="582.9" cy="134.8" r="5.6"/>
<circle cx="346.4" cy="12.1" r="5.6"/>
<circle cx="195.4" cy="6.9" r="5.6"/>
<circle cx="278.2" cy="21.0" r="5.6"/>
<circle cx="352.8" cy="10.1" r="5.6"/>
<circle cx="406.7" cy="32.9" r="5.6"/>
<circle cx="229.8" cy="24.3" r="5.6"/>
<circle cx="209.7" cy="11.7" r="5.6"/>
<circle cx="845.7" cy="322.9" r="5.6"/>
<circle cx="324.7" cy="32.6" r="5.6"/>
<circle cx="798.1" cy="364.8" r="5.6"/>
<circle cx="282.9" cy="20.8" r="5.6"/>
<circle cx="166.2" cy="27.9" r="5.6"/>
<circle cx="398.1" cy="63.1" r="5.6"/>
<circle cx="348.1" cy="12.7" r="5.6"/>
<circle cx="273.3" cy="36.3" r="5.6"/>
<circle cx="499.5" cy="277.0" r="5.6"/>
<circle cx="226.9" cy="6.5" r="5.6"/>
<circle cx="222.6" cy="17.1" r="5.6"/>
<circle cx="180.2" cy="16.6" r="5.6"/>
<circle cx="404.6" cy="66.2" r="5.6"/>
<circle cx="847.0" cy="271.3" r="5.6"/>
<circle cx="574.1" cy="137.6" r="5.6"/>
<circle cx="383.1" cy="12.3" r="5.6"/>
<circle cx="739.7" cy="382.6" r="5.6"/>
<circle cx="519.0" cy="129.2" r="5.6"/>
<circle cx="386.3" cy="10.1" r="5.6"/>
<circle cx="305.9" cy="15.6" r="5.6"/>
<circle cx="465.1" cy="7.7" r="5.6"/>
<circle cx="364.3" cy="43.9" r="5.6"/>
<circle cx="346.2" cy="29.8" r="5.6"/>
<circle cx="578.1" cy="53.5" r="5.6"/>
<circle cx="730.8" cy="270.7" r="5.6"/>
<circle cx="395.4" cy="74.3" r="5.6"/>
<circle cx="284.6" cy="50.9" r="5.6"/>
<circle cx="257.2" cy="21.0" r="5.6"/>
<circle cx="196.7" cy="11.2" r="5.6"/>
<circle cx="156.4" cy="16.7" r="5.6"/>
<circle cx="692.7" cy="241.5" r="5.6"/>
<circle cx="606.6" cy="146.0" r="5.6"/>
<circle cx="613.3" cy="323.3" r="5.6"/>
<circle cx="438.9" cy="66.0" r="5.6"/>
<circle cx="204.6" cy="7.0" r="5.6"/>
<circle cx="598.3" cy="205.3" r="5.6"/>
<circle cx="301.7" cy="12.4" r="5.6"/>
<circle cx="276.0" cy="21.4" r="5.6"/>
<circle cx="221.7" cy="28.8" r="5.6"/>
<circle cx="318.8" cy="37.4" r="5.6"/>
<circle cx="297.3" cy="42.6" r="5.6"/>
<circle cx="455.8" cy="114.3" r="5.6"/>
<circle cx="247.3" cy="6.5" r="5.6"/>
<circle cx="326.8" cy="58.3" r="5.6"/>
<circle cx="377.9" cy="74.7" r="5.6"/>
<circle cx="718.1" cy="277.1" r="5.6"/>
<circle cx="310.1" cy="27.6" r="5.6"/>
<circle cx="191.6" cy="17.6" r="5.6"/>
<circle cx="482.0" cy="86.8" r="5.6"/>
<circle cx="415.6" cy="99.2" r="5.6"/>
<circle cx="497.1" cy="130.9" r="5.6"/>
<circle cx="220.4" cy="7.4" r="5.6"/>
<circle cx="435.6" cy="105.1" r="5.6"/>
<circle cx="427.3" cy="13.0" r="5.6"/>
<circle cx="385.6" cy="26.3" r="5.6"/>
<circle cx="282.4" cy="14.7" r="5.6"/>
<circle cx="201.4" cy="17.6" r="5.6"/>
<circle cx="452.8" cy="26.9" r="5.6"/>
<circle cx="431.6" cy="133.1" r="5.6"/>
<circle cx="569.9" cy="49.7" r="5.6"/>
<circle cx="151.9" cy="6.8" r="5.6"/>
<circle cx="380.6" cy="82.0" r="5.6"/>
<circle cx="239.1" cy="30.4" r="5.6"/>
<circle cx="233.2" cy="26.3" r="5.6"/>
<circle cx="220.7" cy="15.8" r="5.6"/>
<circle cx="456.2" cy="17.4" r="5.6"/>
<circle cx="241.1" cy="19.3" r="5.6"/>
<circle cx="281.8" cy="111.8" r="5.6"/>
<circle cx="204.4" cy="7.5" r="5.6"/>
<circle cx="304.5" cy="6.9" r="5.6"/>
<circle cx="274.6" cy="19.7" r="5.6"/>
<circle cx="418.4" cy="144.9" r="5.6"/>
<circle cx="624.8" cy="132.7" r="5.6"/>
<circle cx="632.3" cy="45.9" r="5.6"/>
<circle cx="812.1" cy="319.7" r="5.6"/>
<circle cx="713.7" cy="82.6" r="5.6"/>
<circle cx="380.8" cy="92.2" r="5.6"/>
<circle cx="238.2" cy="20.6" r="5.6"/>
<circle cx="385.6" cy="91.8" r="5.6"/>
<circle cx="372.6" cy="16.7" r="5.6"/>
<circle cx="377.1" cy="49.8" r="5.6"/>
<circle cx="566.6" cy="88.6" r="5.6"/>
<circle cx="331.9" cy="33.9" r="5.6"/>
<circle cx="471.4" cy="23.4" r="5.6"/>
<circle cx="683.8" cy="289.8" r="5.6"/>
<circle cx="170.4" cy="8.7" r="5.6"/>
<circle cx="588.2" cy="236.7" r="5.6"/>
<circle cx="225.5" cy="17.9" r="5.6"/>
<circle cx="504.7" cy="100.8" r="5.6"/>
<circle cx="288.1" cy="16.6" r="5.6"/>
<circle cx="531.5" cy="235.5" r="5.6"/>
<circle cx="260.3" cy="11.2" r="5.6"/>
<circle cx="480.0" cy="163.4" r="5.6"/>
<circle cx="293.6" cy="7.6" r="5.6"/>
<circle cx="410.8" cy="28.5" r="5.6"/>
<circle cx="790.5" cy="210.3" r="5.6"/>
<circle cx="722.5" cy="117.5" r="5.6"/>
<circle cx="143.0" cy="6.5" r="5.6"/>
<circle cx="376.1" cy="97.0" r="5.6"/>
<circle cx="620.5" cy="231.9" r="5.6"/>
<circle cx="216.0" cy="10.5" r="5.6"/>
<circle cx="265.3" cy="51.2" r="5.6"/>
<circle cx="710.5" cy="152.5" r="5.6"/>
<circle cx="459.8" cy="78.0" r="5.6"/>
<circle cx="243.9" cy="13.8" r="5.6"/>
<circle cx="181.4" cy="12.1" r="5.6"/>
<circle cx="169.3" cy="6.7" r="5.6"/>
<circle cx="186.6" cy="16.4" r="5.6"/>
<circle cx="194.8" cy="21.0" r="5.6"/>
<circle cx="475.4" cy="24.3" r="5.6"/>
<circle cx="387.8" cy="86.3" r="5.6"/>
<circle cx="547.9" cy="77.1" r="5.6"/>
<circle cx="280.1" cy="11.9" r="5.6"/>
<circle cx="170.4" cy="14.6" r="5.6"/>
<circle cx="221.5" cy="15.6" r="5.6"/>
<circle cx="642.4" cy="150.9" r="5.6"/>
<circle cx="727.6" cy="59.7" r="5.6"/>
<circle cx="672.9" cy="287.7" r="5.6"/>
<circle cx="767.6" cy="314.0" r="5.6"/>
<circle cx="482.6" cy="11.8" r="5.6"/>
<circle cx="711.1" cy="156.3" r="5.6"/>
<circle cx="472.3" cy="10.5" r="5.6"/>
<circle cx="233.6" cy="26.8" r="5.6"/>
<circle cx="324.8" cy="6.5" r="5.6"/>
<circle cx="186.8" cy="24.9" r="5.6"/>
<circle cx="163.7" cy="28.8" r="5.6"/>
<circle cx="180.4" cy="13.4" r="5.6"/>
<circle cx="155.8" cy="21.1" r="5.6"/>
<circle cx="238.1" cy="12.2" r="5.6"/>
<circle cx="306.5" cy="15.0" r="5.6"/>
<circle cx="543.6" cy="207.6" r="5.6"/>
<circle cx="493.7" cy="100.4" r="5.6"/>
<circle cx="217.1" cy="9.6" r="5.6"/>
<circle cx="329.6" cy="8.4" r="5.6"/>
<circle cx="677.3" cy="252.0" r="5.6"/>
<circle cx="238.3" cy="16.6" r="5.6"/>
<circle cx="460.7" cy="7.3" r="5.6"/>
<circle cx="318.2" cy="29.1" r="5.6"/>
<circle cx="372.3" cy="6.5" r="5.6"/>
<circle cx="640.0" cy="177.4" r="5.6"/>
<circle cx="272.7" cy="38.3" r="5.6"/>
<circle cx="443.8" cy="13.5" r="5.6"/>
<circle cx="153.6" cy="37.9" r="5.6"/>
<circle cx="368.7" cy="8.9" r="5.6"/>
<circle cx="901.6" cy="438.5" r="5.6"/>
<circle cx="458.9" cy="17.0" r="5.6"/>
<circle cx="267.6" cy="17.1" r="5.6"/>
<circle cx="314.7" cy="29.7" r="5.6"/>
<circle cx="197.3" cy="24.2" r="5.6"/>
<circle cx="208.1" cy="28.3" r="5.6"/>
<circle cx="180.0" cy="7.1" r="5.6"/>
<circle cx="607.4" cy="108.0" r="5.6"/>
<circle cx="189.9" cy="15.9" r="5.6"/>
<circle cx="504.8" cy="13.4" r="5.6"/>
<circle cx="771.4" cy="136.0" r="5.6"/>
<circle cx="155.8" cy="20.5" r="5.6"/>
<circle cx="146.6" cy="25.0" r="5.6"/>
<circle cx="413.1" cy="29.9" r="5.6"/>
<circle cx="284.5" cy="26.4" r="5.6"/>
<circle cx="766.3" cy="394.7" r="5.6"/>
<circle cx="421.4" cy="25.2" r="5.6"/>
<circle cx="317.1" cy="11.1" r="5.6"/>
<circle cx="408.1" cy="88.8" r="5.6"/>
<circle cx="791.7" cy="345.7" r="5.6"/>
<circle cx="752.4" cy="136.6" r="5.6"/>
<circle cx="514.5" cy="20.4" r="5.6"/>
<circle cx="575.7" cy="40.5" r="5.6"/>
<circle cx="525.3" cy="10.2" r="5.6"/>
<circle cx="312.8" cy="10.6" r="5.6"/>
<circle cx="806.3" cy="369.2" r="5.6"/>
<circle cx="649.7" cy="96.3" r="5.6"/>
<circle cx="317.2" cy="18.8" r="5.6"/>
<circle cx="551.4" cy="149.0" r="5.6"/>
<circle cx="165.2" cy="28.8" r="5.6"/>
<circle cx="709.8" cy="63.5" r="5.6"/>
<circle cx="486.1" cy="13.8" r="5.6"/>
<circle cx="728.9" cy="223.7" r="5.6"/>
<circle cx="334.1" cy="83.2" r="5.6"/>
<circle cx="312.0" cy="21.5" r="5.6"/>
<circle cx="525.1" cy="128.8" r="5.6"/>
<circle cx="454.7" cy="10.8" r="5.6"/>
<circle cx="296.9" cy="34.7" r="5.6"/>
<circle cx="558.1" cy="317.9" r="5.6"/>
<circle cx="642.7" cy="267.8" r="5.6"/>
<circle cx="379.8" cy="137.7" r="5.6"/>
<circle cx="452.2" cy="69.0" r="5.6"/>
<circle cx="579.4" cy="60.6" r="5.6"/>
<circle cx="534.6" cy="66.6" r="5.6"/>
<circle cx="240.5" cy="19.1" r="5.6"/>
<circle cx="457.5" cy="69.3" r="5.6"/>
<circle cx="235.7" cy="11.6" r="5.6"/>
<circle cx="252.3" cy="20.2" r="5.6"/>
<circle cx="753.0" cy="433.4" r="5.6"/>
<circle cx="749.8" cy="213.5" r="5.6"/>
<circle cx="666.8" cy="216.6" r="5.6"/>
<circle cx="873.7" cy="413.1" r="5.6"/>
<circle cx="665.9" cy="119.2" r="5.6"/>
<circle cx="365.8" cy="15.0" r="5.6"/>
<circle cx="414.4" cy="41.5" r="5.6"/>
<circle cx="384.0" cy="110.6" r="5.6"/>
<circle cx="515.2" cy="214.7" r="5.6"/>
<circle cx="779.0" cy="399.1" r="5.6"/>
<circle cx="596.7" cy="339.8" r="5.6"/>
<circle cx="605.4" cy="210.1" r="5.6"/>
<circle cx="506.6" cy="88.5" r="5.6"/>
<circle cx="269.0" cy="22.1" r="5.6"/>
<circle cx="240.2" cy="17.3" r="5.6"/>
<circle cx="384.7" cy="54.2" r="5.6"/>
<circle cx="362.6" cy="63.1" r="5.6"/>
<circle cx="151.1" cy="24.1" r="5.6"/>
<circle cx="281.2" cy="27.0" r="5.6"/>
<circle cx="481.4" cy="7.2" r="5.6"/>
<circle cx="320.1" cy="31.0" r="5.6"/>
<circle cx="231.5" cy="10.5" r="5.6"/>
<circle cx="617.9" cy="207.1" r="5.6"/>
<circle cx="803.8" cy="424.5" r="5.6"/>
<circle cx="583.2" cy="167.4" r="5.6"/>
<circle cx="372.9" cy="103.4" r="5.6"/>
<circle cx="560.1" cy="87.7" r="5.6"/>
<circle cx="189.0" cy="15.1" r="5.6"/>
<circle cx="312.6" cy="36.8" r="5.6"/>
<circle cx="289.6" cy="10.6" r="5.6"/>
<circle cx="492.9" cy="35.3" r="5.6"/>
<circle cx="585.7" cy="53.8" r="5.6"/>
<circle cx="334.5" cy="31.6" r="5.6"/>
<circle cx="146.8" cy="7.2" r="5.6"/>
<circle cx="175.2" cy="22.3" r="5.6"/>
<circle cx="287.1" cy="9.6" r="5.6"/>
<circle cx="407.0" cy="9.6" r="5.6"/>
<circle cx="374.3" cy="27.8" r="5.6"/>
<circle cx="410.2" cy="25.9" r="5.6"/>
<circle cx="240.3" cy="11.7" r="5.6"/>
<circle cx="443.3" cy="15.2" r="5.6"/>
<circle cx="476.8" cy="31.8" r="5.6"/>
<circle cx="394.4" cy="65.8" r="5.6"/>
<circle cx="314.4" cy="39.1" r="5.6"/>
<circle cx="373.8" cy="27.4" r="5.6"/>
<circle cx="635.9" cy="276.3" r="5.6"/>
<circle cx="218.7" cy="15.9" r="5.6"/>
<circle cx="748.6" cy="261.2" r="5.6"/>
<circle cx="209.9" cy="27.0" r="5.6"/>
<circle cx="488.7" cy="206.1" r="5.6"/>
<circle cx="168.5" cy="17.5" r="5.6"/>
<circle cx="289.4" cy="22.7" r="5.6"/>
<circle cx="640.2" cy="180.8" r="5.6"/>
<circle cx="294.9" cy="6.9" r="5.6"/>
<circle cx="434.0" cy="20.4" r="5.6"/>
<circle cx="284.5" cy="27.1" r="5.6"/>
<circle cx="333.3" cy="24.4" r="5.6"/>
<circle cx="399.6" cy="24.5" r="5.6"/>
<circle cx="438.3" cy="18.5" r="5.6"/>
<circle cx="208.0" cy="18.9" r="5.6"/>
<circle cx="415.8" cy="22.0" r="5.6"/>
<circle cx="611.3" cy="297.9" r="5.6"/>
<circle cx="417.3" cy="10.1" r="5.6"/>
<circle cx="244.1" cy="8.5" r="5.6"/>
<circle cx="541.9" cy="48.2" r="5.6"/>
<circle cx="785.4" cy="352.1" r="5.6"/>
<circle cx="549.6" cy="164.2" r="5.6"/>
<circle cx="327.7" cy="35.5" r="5.6"/>
<circle cx="565.8" cy="142.1" r="5.6"/>
<circle cx="660.1" cy="129.4" r="5.6"/>
<circle cx="491.4" cy="104.2" r="5.6"/>
<circle cx="307.3" cy="19.2" r="5.6"/>
<circle cx="427.0" cy="13.3" r="5.6"/>
<circle cx="640.2" cy="119.1" r="5.6"/>
<circle cx="617.6" cy="151.0" r="5.6"/>
<circle cx="220.6" cy="28.5" r="5.6"/>
<circle cx="517.9" cy="67.9" r="5.6"/>
<circle cx="574.4" cy="68.3" r="5.6"/>
<circle cx="410.7" cy="97.9" r="5.6"/>
<circle cx="379.6" cy="13.0" r="5.6"/>
<circle cx="184.5" cy="18.1" r="5.6"/>
<circle cx="656.7" cy="181.8" r="5.6"/>
<circle cx="467.4" cy="176.6" r="5.6"/>
<circle cx="488.0" cy="187.9" r="5.6"/>
<circle cx="877.5" cy="418.8" r="5.6"/>
<circle cx="514.1" cy="16.6" r="5.6"/>
<circle cx="224.3" cy="6.9" r="5.6"/>
<circle cx="593.6" cy="228.8" r="5.6"/>
<circle cx="290.0" cy="10.1" r="5.6"/>
<circle cx="551.8" cy="160.4" r="5.6"/>
<circle cx="442.5" cy="9.7" r="5.6"/>
<circle cx="581.0" cy="108.2" r="5.6"/>
<circle cx="169.7" cy="14.6" r="5.6"/>
<circle cx="739.7" cy="371.1" r="5.6"/>
<circle cx="560.8" cy="380.3" r="5.6"/>
<circle cx="298.9" cy="9.2" r="5.6"/>
<circle cx="168.3" cy="14.9" r="5.6"/>
<circle cx="193.7" cy="6.5" r="5.6"/>
<circle cx="913.7" cy="377.5" r="5.6"/>
<circle cx="236.2" cy="6.5" r="5.6"/>
<circle cx="397.0" cy="13.5" r="5.6"/>
<circle cx="694.0" cy="388.3" r="5.6"/>
<circle cx="205.3" cy="27.2" r="5.6"/>
<circle cx="606.3" cy="46.3" r="5.6"/>
<circle cx="687.0" cy="177.3" r="5.6"/>
<circle cx="280.4" cy="12.0" r="5.6"/>
<circle cx="545.0" cy="253.3" r="5.6"/>
<circle cx="197.1" cy="7.4" r="5.6"/>
<circle cx="382.8" cy="48.1" r="5.6"/>
<circle cx="884.4" cy="353.3" r="5.6"/>
<circle cx="801.3" cy="339.4" r="5.6"/>
<circle cx="575.8" cy="318.2" r="5.6"/>
<circle cx="582.4" cy="21.5" r="5.6"/>
<circle cx="891.4" cy="315.9" r="5.6"/>
<circle cx="492.5" cy="25.5" r="5.6"/>
<circle cx="347.5" cy="40.7" r="5.6"/>
<circle cx="636.0" cy="53.8" r="5.6"/>
<circle cx="191.3" cy="8.9" r="5.6"/>
<circle cx="878.7" cy="285.3" r="5.6"/>
<circle cx="829.7" cy="483.1" r="5.6"/>
<circle cx="613.8" cy="42.9" r="5.6"/>
<circle cx="294.5" cy="14.7" r="5.6"/>
<circle cx="723.2" cy="413.7" r="5.6"/>
<circle cx="507.6" cy="14.2" r="5.6"/>
<circle cx="187.5" cy="9.7" r="5.6"/>
<circle cx="201.1" cy="16.2" r="5.6"/>
<circle cx="333.6" cy="13.3" r="5.6"/>
<circle cx="543.1" cy="41.9" r="5.6"/>
<circle cx="380.2" cy="15.8" r="5.6"/>
<circle cx="325.4" cy="31.9" r="5.6"/>
<circle cx="664.0" cy="297.2" r="5.6"/>
<circle cx="244.3" cy="20.6" r="5.6"/>
<circle cx="253.7" cy="42.6" r="5.6"/>
<circle cx="301.9" cy="43.0" r="5.6"/>
<circle cx="503.7" cy="20.9" r="5.6"/>
<circle cx="212.4" cy="6.5" r="5.6"/>
<circle cx="753.7" cy="188.1" r="5.6"/>
<circle cx="410.2" cy="19.0" r="5.6"/>
<circle cx="342.7" cy="42.4" r="5.6"/>
<circle cx="662.0" cy="221.0" r="5.6"/>
<circle cx="313.0" cy="15.0" r="5.6"/>
<circle cx="448.0" cy="13.7" r="5.6"/>
<circle cx="625.1" cy="90.5" r="5.6"/>
<circle cx="409.9" cy="125.8" r="5.6"/>
<circle cx="388.8" cy="8.1" r="5.6"/>
<circle cx="205.0" cy="15.6" r="5.6"/>
<circle cx="508.9" cy="129.9" r="5.6"/>
<circle cx="216.3" cy="9.5" r="5.6"/>
<circle cx="353.2" cy="23.6" r="5.6"/>
<circle cx="300.9" cy="31.9" r="5.6"/>
<circle cx="246.8" cy="7.9" r="5.6"/>
<circle cx="652.6" cy="306.7" r="5.6"/>
<circle cx="342.5" cy="42.0" r="5.6"/>
<circle cx="298.2" cy="12.2" r="5.6"/>
<circle cx="627.3" cy="141.1" r="5.6"/>
<circle cx="532.0" cy="17.4" r="5.6"/>
<circle cx="468.4" cy="41.5" r="5.6"/>
<circle cx="443.1" cy="34.6" r="5.6"/>
<circle cx="782.2" cy="439.8" r="5.6"/>
<circle cx="691.4" cy="308.9" r="5.6"/>
<circle cx="236.6" cy="6.7" r="5.6"/>
<circle cx="298.1" cy="11.5" r="5.6"/>
<circle cx="434.8" cy="41.5" r="5.6"/>
<circle cx="215.0" cy="32.1" r="5.6"/>
<circle cx="182.2" cy="9.1" r="5.6"/>
<circle cx="152.8" cy="8.2" r="5.6"/>
<circle cx="773.3" cy="99.1" r="5.6"/>
<circle cx="430.5" cy="82.3" r="5.6"/>
<circle cx="367.0" cy="82.5" r="5.6"/>
<circle cx="777.8" cy="234.5" r="5.6"/>
<circle cx="381.8" cy="7.5" r="5.6"/>
<circle cx="632.4" cy="55.8" r="5.6"/>
<circle cx="229.0" cy="19.8" r="5.6"/>
<circle cx="296.6" cy="10.8" r="5.6"/>
<circle cx="224.8" cy="15.0" r="5.6"/>
<circle cx="733.3" cy="451.2" r="5.6"/>
<circle cx="180.2" cy="8.3" r="5.6"/>
<circle cx="416.4" cy="23.3" r="5.6"/>
<circle cx="221.2" cy="6.5" r="5.6"/>
<circle cx="789.2" cy="272.6" r="5.6"/>
<circle cx="179.5" cy="31.7" r="5.6"/>
<circle cx="292.0" cy="19.3" r="5.6"/>
<circle cx="904.6" cy="471.6" r="5.6"/>
<circle cx="538.1" cy="31.3" r="5.6"/>
<circle cx="535.0" cy="149.2" r="5.6"/>
<circle cx="325.7" cy="7.8" r="5.6"/>
<circle cx="565.9" cy="268.5" r="5.6"/>
<circle cx="476.6" cy="18.7" r="5.6"/>
<circle cx="369.8" cy="75.7" r="5.6"/>
<circle cx="415.6" cy="73.1" r="5.6"/>
<circle cx="171.3" cy="18.8" r="5.6"/>
<circle cx="516.2" cy="71.3" r="5.6"/>
<circle cx="309.2" cy="14.4" r="5.6"/>
<circle cx="568.2" cy="18.3" r="5.6"/>
<circle cx="232.0" cy="20.4" r="5.6"/>
<circle cx="525.7" cy="49.1" r="5.6"/>
<circle cx="157.2" cy="14.1" r="5.6"/>
<circle cx="202.9" cy="19.1" r="5.6"/>
<circle cx="760.0" cy="348.3" r="5.6"/>
<circle cx="382.8" cy="23.1" r="5.6"/>
<circle cx="273.7" cy="21.9" r="5.6"/>
<circle cx="626.8" cy="119.5" r="5.6"/>
<circle cx="569.8" cy="32.4" r="5.6"/>
<circle cx="184.6" cy="8.9" r="5.6"/>
<circle cx="216.0" cy="9.2" r="5.6"/>
<circle cx="523.2" cy="131.4" r="5.6"/>
<circle cx="640.0" cy="194.0" r="5.6"/>
<circle cx="284.7" cy="17.2" r="5.6"/>
<circle cx="509.4" cy="75.5" r="5.6"/>
<circle cx="245.9" cy="8.2" r="5.6"/>
<circle cx="155.0" cy="13.5" r="5.6"/>
<circle cx="861.0" cy="397.9" r="5.6"/>
<circle cx="387.9" cy="9.0" r="5.6"/>
<circle cx="731.4" cy="67.3" r="5.6"/>
<circle cx="536.1" cy="235.5" r="5.6"/>
<circle cx="426.0" cy="41.4" r="5.6"/>
<circle cx="751.1" cy="345.7" r="5.6"/>
<circle cx="636.1" cy="362.7" r="5.6"/>
<circle cx="550.1" cy="238.8" r="5.6"/>
<circle cx="824.8" cy="360.3" r="5.6"/>
<circle cx="148.6" cy="27.7" r="5.6"/>
<circle cx="599.3" cy="93.4" r="5.6"/>
<circle cx="423.5" cy="80.6" r="5.6"/>
<circle cx="464.0" cy="90.9" r="5.6"/>
<circle cx="801.9" cy="352.1" r="5.6"/>
<circle cx="762.5" cy="263.7" r="5.6"/>
<circle cx="166.8" cy="7.7" r="5.6"/>
<circle cx="598.4" cy="55.3" r="5.6"/>
<circle cx="311.5" cy="10.1" r="5.6"/>
<circle cx="235.2" cy="30.3" r="5.6"/>
<circle cx="209.4" cy="12.2" r="5.6"/>
<circle cx="257.1" cy="15.8" r="5.6"/>
<circle cx="413.9" cy="22.0" r="5.6"/>
<circle cx="916.8" cy="397.9" r="5.6"/>
<circle cx="198.4" cy="7.8" r="5.6"/>
<circle cx="537.3" cy="96.0" r="5.6"/>
<circle cx="614.2" cy="77.7" r="5.6"/>
<circle cx="361.7" cy="15.3" r="5.6"/>
<circle cx="415.9" cy="20.1" r="5.6"/>
<circle cx="834.3" cy="377.5" r="5.6"/>
<circle cx="820.3" cy="318.4" r="5.6"/>
<circle cx="802.5" cy="364.8" r="5.6"/>
<circle cx="176.3" cy="9.2" r="5.6"/>
<circle cx="468.6" cy="99.8" r="5.6"/>
<circle cx="411.2" cy="23.9" r="5.6"/>
<circle cx="734.6" cy="314.0" r="5.6"/>
<circle cx="227.4" cy="21.8" r="5.6"/>
<circle cx="288.1" cy="18.7" r="5.6"/>
<circle cx="313.9" cy="13.7" r="5.6"/>
<circle cx="774.0" cy="348.3" r="5.6"/>
<circle cx="441.7" cy="6.8" r="5.6"/>
<circle cx="413.9" cy="24.5" r="5.6"/>
<circle cx="755.6" cy="84.5" r="5.6"/>
<circle cx="232.2" cy="26.5" r="5.6"/>
<circle cx="822.8" cy="93.7" r="5.6"/>
<circle cx="256.4" cy="50.4" r="5.6"/>
<circle cx="558.8" cy="72.1" r="5.6"/>
<circle cx="337.2" cy="26.2" r="5.6"/>
<circle cx="306.2" cy="13.4" r="5.6"/>
<circle cx="486.9" cy="167.3" r="5.6"/>
<circle cx="376.5" cy="32.9" r="5.6"/>
<circle cx="229.3" cy="36.4" r="5.6"/>
<circle cx="302.3" cy="10.3" r="5.6"/>
<circle cx="346.2" cy="52.7" r="5.6"/>
<circle cx="526.7" cy="86.8" r="5.6"/>
<circle cx="565.9" cy="263.0" r="5.6"/>
<circle cx="255.8" cy="16.7" r="5.6"/>
<circle cx="222.4" cy="7.3" r="5.6"/>
<circle cx="454.0" cy="130.4" r="5.6"/>
<circle cx="488.2" cy="34.2" r="5.6"/>
<circle cx="556.8" cy="212.8" r="5.6"/>
<circle cx="528.0" cy="111.3" r="5.6"/>
<circle cx="560.6" cy="168.8" r="5.6"/>
<circle cx="311.2" cy="7.8" r="5.6"/>
<circle cx="863.5" cy="452.5" r="5.6"/>
<circle cx="165.1" cy="14.0" r="5.6"/>
<circle cx="159.8" cy="12.9" r="5.6"/>
<circle cx="210.6" cy="24.7" r="5.6"/>
<circle cx="528.6" cy="85.0" r="5.6"/>
<circle cx="320.6" cy="21.4" r="5.6"/>
<circle cx="348.4" cy="39.6" r="5.6"/>
<circle cx="259.0" cy="32.1" r="5.6"/>
<circle cx="402.5" cy="109.2" r="5.6"/>
<circle cx="576.2" cy="28.1" r="5.6"/>
<circle cx="342.0" cy="60.6" r="5.6"/>
<circle cx="171.7" cy="19.6" r="5.6"/>
<circle cx="692.7" cy="226.2" r="5.6"/>
<circle cx="657.0" cy="146.5" r="5.6"/>
<circle cx="789.2" cy="383.9" r="5.6"/>
<circle cx="239.0" cy="21.6" r="5.6"/>
<circle cx="627.8" cy="76.2" r="5.6"/>
<circle cx="139.6" cy="6.5" r="5.6"/>
<circle cx="849.5" cy="404.2" r="5.6"/>
<circle cx="431.0" cy="85.4" r="5.6"/>
<circle cx="894.6" cy="354.6" r="5.6"/>
<circle cx="507.8" cy="139.4" r="5.6"/>
<circle cx="534.6" cy="204.2" r="5.6"/>
<circle cx="519.7" cy="208.1" r="5.6"/>
<circle cx="252.7" cy="17.8" r="5.6"/>
<circle cx="708.6" cy="57.1" r="5.6"/>
<circle cx="543.3" cy="59.3" r="5.6"/>
<circle cx="296.7" cy="16.0" r="5.6"/>
<circle cx="481.4" cy="155.8" r="5.6"/>
<circle cx="218.7" cy="15.2" r="5.6"/>
<circle cx="756.2" cy="57.8" r="5.6"/>
<circle cx="280.7" cy="23.4" r="5.6"/>
<circle cx="433.9" cy="20.7" r="5.6"/>
<circle cx="360.3" cy="62.2" r="5.6"/>
<circle cx="547.3" cy="92.5" r="5.6"/>
<circle cx="197.2" cy="7.6" r="5.6"/>
<circle cx="148.2" cy="15.6" r="5.6"/>
<circle cx="438.1" cy="29.8" r="5.6"/>
<circle cx="407.7" cy="63.1" r="5.6"/>
<circle cx="543.4" cy="16.9" r="5.6"/>
<circle cx="770.2" cy="195.1" r="5.6"/>
<circle cx="237.3" cy="22.8" r="5.6"/>
<circle cx="382.4" cy="8.5" r="5.6"/>
<circle cx="602.4" cy="148.1" r="5.6"/>
<circle cx="600.5" cy="76.3" r="5.6"/>
<circle cx="501.2" cy="41.5" r="5.6"/>
<circle cx="175.2" cy="8.7" r="5.6"/>
<circle cx="692.7" cy="208.4" r="5.6"/>
<circle cx="327.6" cy="11.8" r="5.6"/>
<circle cx="525.7" cy="29.2" r="5.6"/>
<circle cx="893.2" cy="462.8" r="5.6"/>
<circle cx="223.8" cy="19.9" r="5.6"/>
<circle cx="581.5" cy="294.0" r="5.6"/>
<circle cx="383.0" cy="25.1" r="5.6"/>
<circle cx="493.2" cy="29.7" r="5.6"/>
<circle cx="290.7" cy="20.0" r="5.6"/>
<circle cx="862.2" cy="402.3" r="5.6"/>
<circle cx="864.1" cy="441.7" r="5.6"/>
<circle cx="269.3" cy="26.7" r="5.6"/>
<circle cx="149.8" cy="35.5" r="5.6"/>
<circle cx="345.2" cy="11.9" r="5.6"/>
<circle cx="706.0" cy="330.5" r="5.6"/>
<circle cx="329.9" cy="13.6" r="5.6"/>
<circle cx="156.5" cy="27.4" r="5.6"/>
<circle cx="167.4" cy="11.5" r="5.6"/>
<circle cx="220.1" cy="17.2" r="5.6"/>
<circle cx="149.9" cy="16.1" r="5.6"/>
<circle cx="169.5" cy="6.5" r="5.6"/>
<circle cx="456.8" cy="161.5" r="5.6"/>
<circle cx="725.7" cy="156.3" r="5.6"/>
<circle cx="275.0" cy="9.9" r="5.6"/>
<circle cx="543.5" cy="6.8" r="5.6"/>
<circle cx="526.8" cy="118.3" r="5.6"/>
<circle cx="458.0" cy="128.9" r="5.6"/>
<circle cx="414.5" cy="26.3" r="5.6"/>
<circle cx="341.4" cy="31.6" r="5.6"/>
<circle cx="807.6" cy="294.8" r="5.6"/>
<circle cx="310.7" cy="46.3" r="5.6"/>
<circle cx="431.7" cy="24.3" r="5.6"/>
<circle cx="298.6" cy="21.6" r="5.6"/>
<circle cx="188.4" cy="13.7" r="5.6"/>
<circle cx="525.0" cy="19.3" r="5.6"/>
<circle cx="265.2" cy="25.8" r="5.6"/>
<circle cx="639.4" cy="123.8" r="5.6"/>
<circle cx="401.2" cy="21.7" r="5.6"/>
<circle cx="512.8" cy="105.5" r="5.6"/>
<circle cx="855.9" cy="389.0" r="5.6"/>
<circle cx="359.8" cy="16.5" r="5.6"/>
<circle cx="297.7" cy="27.1" r="5.6"/>
<circle cx="465.6" cy="6.8" r="5.6"/>
<circle cx="894.0" cy="333.7" r="5.6"/>
<circle cx="294.1" cy="32.0" r="5.6"/>
<circle cx="192.9" cy="11.0" r="5.6"/>
<circle cx="246.0" cy="16.1" r="5.6"/>
<circle cx="258.1" cy="25.1" r="5.6"/>
<circle cx="245.3" cy="26.0" r="5.6"/>
<circle cx="381.9" cy="60.0" r="5.6"/>
<circle cx="307.3" cy="29.6" r="5.6"/>
<circle cx="495.0" cy="134.9" r="5.6"/>
<circle cx="410.7" cy="23.6" r="5.6"/>
<circle cx="516.1" cy="47.8" r="5.6"/>
<circle cx="471.0" cy="106.2" r="5.6"/>
<circle cx="439.1" cy="7.6" r="5.6"/>
<circle cx="451.0" cy="64.7" r="5.6"/>
<circle cx="713.7" cy="10.2" r="5.6"/>
<circle cx="401.0" cy="62.4" r="5.6"/>
<circle cx="806.3" cy="266.9" r="5.6"/>
<circle cx="263.8" cy="10.4" r="5.6"/>
<circle cx="593.4" cy="70.9" r="5.6"/>
<circle cx="238.8" cy="7.4" r="5.6"/>
<circle cx="152.4" cy="17.7" r="5.6"/>
<circle cx="690.8" cy="334.3" r="5.6"/>
<circle cx="147.0" cy="12.2" r="5.6"/>
<circle cx="866.5" cy="460.2" r="5.6"/>
<circle cx="330.3" cy="22.9" r="5.6"/>
<circle cx="472.3" cy="75.8" r="5.6"/>
<circle cx="142.0" cy="7.3" r="5.6"/>
<circle cx="487.9" cy="7.1" r="5.6"/>
<circle cx="152.0" cy="10.4" r="5.6"/>
<circle cx="156.9" cy="14.0" r="5.6"/>
<circle cx="579.9" cy="235.4" r="5.6"/>
<circle cx="160.8" cy="31.5" r="5.6"/>
<circle cx="183.1" cy="26.8" r="5.6"/>
<circle cx="569.1" cy="10.0" r="5.6"/>
<circle cx="390.0" cy="7.8" r="5.6"/>
<circle cx="226.3" cy="7.9" r="5.6"/>
<circle cx="474.8" cy="25.8" r="5.6"/>
<circle cx="611.2" cy="60.6" r="5.6"/>
<circle cx="841.3" cy="307.0" r="5.6"/>
<circle cx="436.2" cy="77.9" r="5.6"/>
<circle cx="547.1" cy="269.3" r="5.6"/>
<circle cx="705.4" cy="381.3" r="5.6"/>
<circle cx="207.3" cy="10.6" r="5.6"/>
<circle cx="349.3" cy="36.5" r="5.6"/>
<circle cx="226.5" cy="23.7" r="5.6"/>
<circle cx="578.7" cy="19.1" r="5.6"/>
<circle cx="614.4" cy="70.8" r="5.6"/>
<circle cx="170.8" cy="19.3" r="5.6"/>
<circle cx="235.7" cy="21.8" r="5.6"/>
<circle cx="193.6" cy="16.3" r="5.6"/>
<circle cx="411.9" cy="99.4" r="5.6"/>
<circle cx="662.0" cy="88.2" r="5.6"/>
<circle cx="571.5" cy="41.4" r="5.6"/>
<circle cx="475.7" cy="148.2" r="5.6"/>
<circle cx="200.5" cy="10.3" r="5.6"/>
<circle cx="821.0" cy="390.2" r="5.6"/>
<circle cx="577.7" cy="289.0" r="5.6"/>
<circle cx="705.4" cy="306.3" r="5.6"/>
<circle cx="423.9" cy="66.5" r="5.6"/>
<circle cx="316.3" cy="14.2" r="5.6"/>
<circle cx="454.4" cy="18.5" r="5.6"/>
<circle cx="678.7" cy="288.3" r="5.6"/>
<circle cx="423.3" cy="25.3" r="5.6"/>
<circle cx="487.0" cy="117.2" r="5.6"/>
<circle cx="639.9" cy="340.4" r="5.6"/>
<circle cx="318.2" cy="25.6" r="5.6"/>
<circle cx="478.8" cy="19.3" r="5.6"/>
<circle cx="423.8" cy="96.4" r="5.6"/>
<circle cx="322.6" cy="13.1" r="5.6"/>
<circle cx="416.1" cy="11.5" r="5.6"/>
<circle cx="841.9" cy="188.1" r="5.6"/>
<circle cx="833.7" cy="307.6" r="5.6"/>
<circle cx="547.3" cy="98.0" r="5.6"/>
<circle cx="506.5" cy="6.5" r="5.6"/>
<circle cx="429.4" cy="12.8" r="5.6"/>
<circle cx="859.0" cy="249.8" r="5.6"/>
<circle cx="714.3" cy="433.4" r="5.6"/>
<circle cx="167.2" cy="13.8" r="5.6"/>
<circle cx="527.1" cy="7.4" r="5.6"/>
<circle cx="356.2" cy="68.0" r="5.6"/>
<circle cx="334.4" cy="26.2" r="5.6"/>
<circle cx="287.6" cy="19.8" r="5.6"/>
<circle cx="713.0" cy="298.7" r="5.6"/>
<circle cx="269.5" cy="12.5" r="5.6"/>
<circle cx="314.3" cy="131.9" r="5.6"/>
<circle cx="667.3" cy="127.0" r="5.6"/>
<circle cx="325.6" cy="22.5" r="5.6"/>
<circle cx="194.5" cy="8.0" r="5.6"/>
<circle cx="382.8" cy="6.5" r="5.6"/>
<circle cx="417.2" cy="53.2" r="5.6"/>
<circle cx="545.8" cy="251.0" r="5.6"/>
<circle cx="493.9" cy="50.4" r="5.6"/>
<circle cx="547.7" cy="44.3" r="5.6"/>
<circle cx="277.2" cy="132.6" r="5.6"/>
<circle cx="592.4" cy="187.2" r="5.6"/>
<circle cx="627.8" cy="261.0" r="5.6"/>
<circle cx="870.5" cy="342.5" r="5.6"/>
<circle cx="713.0" cy="67.3" r="5.6"/>
<circle cx="162.0" cy="25.8" r="5.6"/>
<circle cx="298.6" cy="24.3" r="5.6"/>
<circle cx="310.8" cy="12.6" r="5.6"/>
<circle cx="343.9" cy="29.4" r="5.6"/>
<circle cx="406.6" cy="69.5" r="5.6"/>
<circle cx="385.1" cy="42.3" r="5.6"/>
<circle cx="799.4" cy="321.0" r="5.6"/>
<circle cx="551.8" cy="278.0" r="5.6"/>
<circle cx="479.8" cy="120.3" r="5.6"/>
<circle cx="872.4" cy="356.5" r="5.6"/>
<circle cx="362.3" cy="108.0" r="5.6"/>
<circle cx="479.4" cy="177.6" r="5.6"/>
<circle cx="207.2" cy="11.7" r="5.6"/>
<circle cx="392.0" cy="47.9" r="5.6"/>
<circle cx="318.6" cy="37.5" r="5.6"/>
<circle cx="424.1" cy="108.1" r="5.6"/>
<circle cx="258.0" cy="9.1" r="5.6"/>
<circle cx="290.6" cy="35.4" r="5.6"/>
<circle cx="437.1" cy="52.1" r="5.6"/>
<circle cx="364.5" cy="18.3" r="5.6"/>
<circle cx="214.6" cy="10.8" r="5.6"/>
<circle cx="696.5" cy="326.0" r="5.6"/>
<circle cx="423.8" cy="6.5" r="5.6"/>
<circle cx="195.8" cy="13.7" r="5.6"/>
<circle cx="220.1" cy="8.8" r="5.6"/>
<circle cx="233.1" cy="10.6" r="5.6"/>
<circle cx="491.7" cy="18.9" r="5.6"/>
<circle cx="425.3" cy="23.4" r="5.6"/>
<circle cx="838.7" cy="277.7" r="5.6"/>
<circle cx="214.4" cy="27.0" r="5.6"/>
<circle cx="582.2" cy="22.1" r="5.6"/>
<circle cx="256.1" cy="17.4" r="5.6"/>
<circle cx="188.4" cy="18.2" r="5.6"/>
<circle cx="257.9" cy="26.3" r="5.6"/>
<circle cx="226.1" cy="24.9" r="5.6"/>
<circle cx="290.0" cy="50.6" r="5.6"/>
<circle cx="271.9" cy="14.4" r="5.6"/>
<circle cx="532.7" cy="92.7" r="5.6"/>
<circle cx="830.5" cy="281.5" r="5.6"/>
<circle cx="388.8" cy="13.3" r="5.6"/>
<circle cx="505.2" cy="157.6" r="5.6"/>
<circle cx="481.8" cy="34.8" r="5.6"/>
<circle cx="505.3" cy="6.8" r="5.6"/>
<circle cx="463.9" cy="102.4" r="5.6"/>
<circle cx="170.8" cy="12.0" r="5.6"/>
<circle cx="761.3" cy="321.6" r="5.6"/>
<circle cx="183.8" cy="6.5" r="5.6"/>
<circle cx="381.0" cy="12.6" r="5.6"/>
<circle cx="789.2" cy="396.0" r="5.6"/>
<circle cx="490.9" cy="183.8" r="5.6"/>
<circle cx="579.6" cy="27.5" r="5.6"/>
<circle cx="535.5" cy="180.3" r="5.6"/>
<circle cx="653.4" cy="72.2" r="5.6"/>
<circle cx="366.9" cy="56.6" r="5.6"/>
<circle cx="371.9" cy="6.6" r="5.6"/>
<circle cx="439.8" cy="15.8" r="5.6"/>
<circle cx="685.1" cy="141.0" r="5.6"/>
<circle cx="471.7" cy="47.6" r="5.6"/>
<circle cx="847.0" cy="390.2" r="5.6"/>
<circle cx="259.0" cy="6.6" r="5.6"/>
<circle cx="399.0" cy="26.9" r="5.6"/>
<circle cx="442.1" cy="9.3" r="5.6"/>
<circle cx="377.9" cy="136.5" r="5.6"/>
<circle cx="321.8" cy="49.0" r="5.6"/>
<circle cx="371.8" cy="16.4" r="5.6"/>
<circle cx="263.2" cy="10.0" r="5.6"/>
<circle cx="210.5" cy="28.5" r="5.6"/>
<circle cx="146.9" cy="21.2" r="5.6"/>
<circle cx="648.2" cy="275.0" r="5.6"/>
<circle cx="362.9" cy="68.3" r="5.6"/>
<circle cx="714.3" cy="376.2" r="5.6"/>
<circle cx="505.5" cy="65.9" r="5.6"/>
<circle cx="155.3" cy="11.8" r="5.6"/>
<circle cx="836.2" cy="265.0" r="5.6"/>
<circle cx="483.7" cy="60.8" r="5.6"/>
<circle cx="504.2" cy="195.2" r="5.6"/>
<circle cx="224.7" cy="26.9" r="5.6"/>
<circle cx="615.8" cy="246.6" r="5.6"/>
<circle cx="670.0" cy="222.5" r="5.6"/>
<circle cx="416.5" cy="17.2" r="5.6"/>
<circle cx="259.7" cy="13.8" r="5.6"/>
<circle cx="372.4" cy="12.3" r="5.6"/>
<circle cx="532.6" cy="31.9" r="5.6"/>
<circle cx="789.2" cy="152.5" r="5.6"/>
<circle cx="710.5" cy="76.2" r="5.6"/>
<circle cx="621.1" cy="203.5" r="5.6"/>
<circle cx="729.5" cy="392.8" r="5.6"/>
<circle cx="458.1" cy="19.8" r="5.6"/>
<circle cx="306.6" cy="32.4" r="5.6"/>
<circle cx="317.2" cy="14.8" r="5.6"/>
<circle cx="763.8" cy="213.5" r="5.6"/>
<circle cx="362.1" cy="29.3" r="5.6"/>
<circle cx="530.0" cy="202.6" r="5.6"/>
<circle cx="437.4" cy="59.4" r="5.6"/>
<circle cx="436.2" cy="72.6" r="5.6"/>
<circle cx="366.8" cy="19.6" r="5.6"/>
<circle cx="660.0" cy="132.3" r="5.6"/>
<circle cx="308.9" cy="14.2" r="5.6"/>
<circle cx="705.4" cy="278.3" r="5.6"/>
<circle cx="541.6" cy="142.8" r="5.6"/>
<circle cx="546.5" cy="191.0" r="5.6"/>
<circle cx="232.0" cy="16.0" r="5.6"/>
<circle cx="370.4" cy="21.0" r="5.6"/>
<circle cx="232.9" cy="7.5" r="5.6"/>
<circle cx="511.6" cy="6.5" r="5.6"/>
<circle cx="669.9" cy="54.1" r="5.6"/>
<circle cx="606.5" cy="173.6" r="5.6"/>
<circle cx="247.4" cy="9.3" r="5.6"/>
<circle cx="393.0" cy="46.0" r="5.6"/>
<circle cx="784.1" cy="388.3" r="5.6"/>
<circle cx="315.5" cy="13.0" r="5.6"/>
<circle cx="449.7" cy="289.4" r="5.6"/>
<circle cx="546.5" cy="16.3" r="5.6"/>
<circle cx="397.7" cy="13.1" r="5.6"/>
<circle cx="743.5" cy="205.9" r="5.6"/>
<circle cx="324.2" cy="11.6" r="5.6"/>
<circle cx="685.7" cy="58.4" r="5.6"/>
<circle cx="203.0" cy="16.7" r="5.6"/>
<circle cx="157.1" cy="11.1" r="5.6"/>
<circle cx="488.6" cy="48.5" r="5.6"/>
<circle cx="547.9" cy="166.8" r="5.6"/>
<circle cx="398.0" cy="77.7" r="5.6"/>
<circle cx="212.8" cy="8.5" r="5.6"/>
<circle cx="283.1" cy="6.5" r="5.6"/>
<circle cx="269.6" cy="29.6" r="5.6"/>
<circle cx="463.9" cy="10.8" r="5.6"/>
<circle cx="631.8" cy="203.4" r="5.6"/>
<circle cx="324.2" cy="24.8" r="5.6"/>
<circle cx="207.0" cy="9.0" r="5.6"/>
<circle cx="333.0" cy="6.5" r="5.6"/>
<circle cx="570.0" cy="36.8" r="5.6"/>
<circle cx="356.1" cy="45.2" r="5.6"/>
<circle cx="598.3" cy="267.2" r="5.6"/>
<circle cx="525.6" cy="71.8" r="5.6"/>
<circle cx="466.6" cy="35.7" r="5.6"/>
<circle cx="200.3" cy="7.8" r="5.6"/>
<circle cx="753.0" cy="393.4" r="5.6"/>
<circle cx="828.6" cy="287.2" r="5.6"/>
<circle cx="181.7" cy="13.2" r="5.6"/>
<circle cx="779.7" cy="157.0" r="5.6"/>
<circle cx="438.2" cy="41.5" r="5.6"/>
<circle cx="200.1" cy="25.7" r="5.6"/>
<circle cx="228.3" cy="14.1" r="5.6"/>
<circle cx="283.4" cy="7.8" r="5.6"/>
<circle cx="165.0" cy="11.4" r="5.6"/>
<circle cx="513.6" cy="284.8" r="5.6"/>
<circle cx="650.2" cy="57.5" r="5.6"/>
<circle cx="712.4" cy="104.2" r="5.6"/>
<circle cx="176.7" cy="15.3" r="5.6"/>
<circle cx="302.9" cy="15.2" r="5.6"/>
<circle cx="388.4" cy="51.0" r="5.6"/>
<circle cx="667.7" cy="47.6" r="5.6"/>
<circle cx="255.7" cy="18.8" r="5.6"/>
<circle cx="387.9" cy="44.7" r="5.6"/>
<circle cx="599.7" cy="32.8" r="5.6"/>
<circle cx="390.4" cy="24.5" r="5.6"/>
<circle cx="669.4" cy="194.6" r="5.6"/>
<circle cx="560.9" cy="85.8" r="5.6"/>
<circle cx="634.0" cy="86.4" r="5.6"/>
<circle cx="515.5" cy="18.7" r="5.6"/>
<circle cx="451.1" cy="51.4" r="5.6"/>
<circle cx="325.3" cy="17.3" r="5.6"/>
<circle cx="506.6" cy="11.7" r="5.6"/>
<circle cx="584.1" cy="73.7" r="5.6"/>
<circle cx="311.6" cy="24.1" r="5.6"/>
<circle cx="503.5" cy="81.0" r="5.6"/>
<circle cx="352.5" cy="16.3" r="5.6"/>
<circle cx="373.7" cy="20.8" r="5.6"/>
<circle cx="236.6" cy="18.5" r="5.6"/>
<circle cx="562.8" cy="128.0" r="5.6"/>
<circle cx="862.2" cy="333.0" r="5.6"/>
<circle cx="288.1" cy="29.9" r="5.6"/>
<circle cx="344.8" cy="23.3" r="5.6"/>
<circle cx="514.1" cy="77.6" r="5.6"/>
<circle cx="398.1" cy="115.7" r="5.6"/>
<circle cx="156.3" cy="20.6" r="5.6"/>
<circle cx="561.4" cy="35.5" r="5.6"/>
<circle cx="176.5" cy="13.3" r="5.6"/>
<circle cx="701.0" cy="123.9" r="5.6"/>
<circle cx="187.3" cy="28.4" r="5.6"/>
<circle cx="477.3" cy="245.5" r="5.6"/>
<circle cx="217.9" cy="7.5" r="5.6"/>
<circle cx="638.7" cy="355.1" r="5.6"/>
<circle cx="410.0" cy="19.3" r="5.6"/>
<circle cx="293.1" cy="8.4" r="5.6"/>
<circle cx="588.7" cy="257.9" r="5.6"/>
<circle cx="501.7" cy="147.1" r="5.6"/>
<circle cx="303.2" cy="17.3" r="5.6"/>
<circle cx="377.2" cy="10.6" r="5.6"/>
<circle cx="439.2" cy="111.6" r="5.6"/>
<circle cx="628.2" cy="272.0" r="5.6"/>
<circle cx="708.0" cy="87.1" r="5.6"/>
<circle cx="515.7" cy="138.6" r="5.6"/>
<circle cx="225.3" cy="9.3" r="5.6"/>
<circle cx="541.7" cy="177.1" r="5.6"/>
<circle cx="371.3" cy="19.6" r="5.6"/>
<circle cx="163.0" cy="14.5" r="5.6"/>
<circle cx="294.6" cy="25.1" r="5.6"/>
<circle cx="534.6" cy="86.0" r="5.6"/>
<circle cx="531.9" cy="7.8" r="5.6"/>
<circle cx="622.0" cy="92.2" r="5.6"/>
<circle cx="649.5" cy="107.8" r="5.6"/>
<circle cx="560.5" cy="55.3" r="5.6"/>
<circle cx="454.7" cy="66.9" r="5.6"/>
<circle cx="444.9" cy="12.6" r="5.6"/>
<circle cx="279.5" cy="20.1" r="5.6"/>
<circle cx="348.5" cy="20.6" r="5.6"/>
<circle cx="264.5" cy="10.0" r="5.6"/>
<circle cx="642.0" cy="195.1" r="5.6"/>
<circle cx="200.6" cy="21.4" r="5.6"/>
<circle cx="228.6" cy="10.8" r="5.6"/>
<circle cx="254.1" cy="8.1" r="5.6"/>
<circle cx="440.0" cy="112.1" r="5.6"/>
<circle cx="825.4" cy="174.8" r="5.6"/>
<circle cx="776.5" cy="363.5" r="5.6"/>
<circle cx="407.8" cy="24.5" r="5.6"/>
<circle cx="215.7" cy="23.1" r="5.6"/>
<circle cx="845.7" cy="371.1" r="5.6"/>
<circle cx="909.7" cy="484.3" r="5.6"/>
<circle cx="583.8" cy="163.6" r="5.6"/>
<circle cx="286.7" cy="7.8" r="5.6"/>
<circle cx="572.5" cy="137.2" r="5.6"/>
<circle cx="459.4" cy="54.8" r="5.6"/>
<circle cx="148.9" cy="12.7" r="5.6"/>
<circle cx="146.5" cy="21.1" r="5.6"/>
<circle cx="403.0" cy="97.0" r="5.6"/>
<circle cx="636.8" cy="211.5" r="5.6"/>
<circle cx="496.3" cy="95.8" r="5.6"/>
<circle cx="279.6" cy="39.9" r="5.6"/>
<circle cx="455.6" cy="32.6" r="5.6"/>
<circle cx="214.4" cy="21.9" r="5.6"/>
<circle cx="701.0" cy="112.5" r="5.6"/>
<circle cx="357.3" cy="52.5" r="5.6"/>
<circle cx="532.4" cy="188.3" r="5.6"/>
<circle cx="421.3" cy="60.0" r="5.6"/>
<circle cx="468.5" cy="137.3" r="5.6"/>
<circle cx="187.2" cy="14.6" r="5.6"/>
<circle cx="158.1" cy="6.7" r="5.6"/>
<circle cx="271.6" cy="10.9" r="5.6"/>
<circle cx="697.8" cy="130.9" r="5.6"/>
<circle cx="390.8" cy="107.4" r="5.6"/>
<circle cx="144.8" cy="8.8" r="5.6"/>
<circle cx="146.5" cy="8.1" r="5.6"/>
<circle cx="188.2" cy="16.4" r="5.6"/>
<circle cx="761.3" cy="355.9" r="5.6"/>
<circle cx="309.1" cy="26.9" r="5.6"/>
<circle cx="729.5" cy="165.9" r="5.6"/>
<circle cx="335.2" cy="58.2" r="5.6"/>
<circle cx="676.0" cy="137.7" r="5.6"/>
<circle cx="219.3" cy="6.7" r="5.6"/>
<circle cx="207.0" cy="14.5" r="5.6"/>
<circle cx="646.8" cy="135.4" r="5.6"/>
<circle cx="342.5" cy="20.7" r="5.6"/>
<circle cx="354.3" cy="53.3" r="5.6"/>
<circle cx="278.0" cy="14.2" r="5.6"/>
<circle cx="432.7" cy="18.2" r="5.6"/>
<circle cx="218.2" cy="18.1" r="5.6"/>
<circle cx="318.0" cy="32.7" r="5.6"/>
<circle cx="391.9" cy="10.1" r="5.6"/>
<circle cx="370.0" cy="105.0" r="5.6"/>
<circle cx="484.8" cy="16.5" r="5.6"/>
<circle cx="253.5" cy="29.9" r="5.6"/>
<circle cx="330.6" cy="25.3" r="5.6"/>
<circle cx="158.1" cy="17.4" r="5.6"/>
<circle cx="206.9" cy="9.0" r="5.6"/>
<circle cx="177.9" cy="11.6" r="5.6"/>
<circle cx="780.3" cy="345.7" r="5.6"/>
<circle cx="549.7" cy="76.3" r="5.6"/>
<circle cx="221.1" cy="7.5" r="5.6"/>
<circle cx="339.8" cy="10.8" r="5.6"/>
<circle cx="577.9" cy="194.4" r="5.6"/>
<circle cx="371.1" cy="128.5" r="5.6"/>
<circle cx="307.4" cy="28.8" r="5.6"/>
<circle cx="507.7" cy="137.9" r="5.6"/>
<circle cx="664.8" cy="204.7" r="5.6"/>
<circle cx="215.1" cy="29.3" r="5.6"/>
<circle cx="357.3" cy="34.4" r="5.6"/>
<circle cx="465.7" cy="96.5" r="5.6"/>
<circle cx="254.1" cy="8.9" r="5.6"/>
<circle cx="578.3" cy="62.0" r="5.6"/>
<circle cx="459.4" cy="150.1" r="5.6"/>
<circle cx="421.7" cy="21.5" r="5.6"/>
<circle cx="412.8" cy="99.6" r="5.6"/>
<circle cx="256.0" cy="22.4" r="5.6"/>
<circle cx="218.4" cy="11.5" r="5.6"/>
<circle cx="199.9" cy="18.3" r="5.6"/>
<circle cx="343.0" cy="7.8" r="5.6"/>
<circle cx="195.8" cy="12.1" r="5.6"/>
<circle cx="370.9" cy="21.0" r="5.6"/>
<circle cx="371.7" cy="75.6" r="5.6"/>
<circle cx="411.4" cy="11.2" r="5.6"/>
<circle cx="231.3" cy="19.3" r="5.6"/>
<circle cx="457.2" cy="7.7" r="5.6"/>
<circle cx="351.7" cy="158.4" r="5.6"/>
<circle cx="233.7" cy="9.8" r="5.6"/>
<circle cx="217.7" cy="15.1" r="5.6"/>
<circle cx="385.8" cy="15.6" r="5.6"/>
<circle cx="233.7" cy="43.5" r="5.6"/>
<circle cx="463.6" cy="32.2" r="5.6"/>
<circle cx="283.7" cy="12.2" r="5.6"/>
<circle cx="254.5" cy="34.2" r="5.6"/>
<circle cx="403.7" cy="6.5" r="5.6"/>
<circle cx="382.2" cy="104.3" r="5.6"/>
<circle cx="346.4" cy="17.1" r="5.6"/>
<circle cx="794.9" cy="164.0" r="5.6"/>
<circle cx="239.2" cy="25.4" r="5.6"/>
<circle cx="350.0" cy="27.6" r="5.6"/>
<circle cx="732.7" cy="127.7" r="5.6"/>
<circle cx="147.6" cy="39.4" r="5.6"/>
<circle cx="342.6" cy="35.2" r="5.6"/>
<circle cx="409.2" cy="88.9" r="5.6"/>
<circle cx="548.1" cy="61.7" r="5.6"/>
<circle cx="259.3" cy="20.1" r="5.6"/>
<circle cx="294.2" cy="11.3" r="5.6"/>
<circle cx="204.1" cy="10.1" r="5.6"/>
<circle cx="550.9" cy="25.8" r="5.6"/>
<circle cx="774.6" cy="405.5" r="5.6"/>
<circle cx="258.0" cy="27.8" r="5.6"/>
<circle cx="218.8" cy="11.2" r="5.6"/>
<circle cx="491.6" cy="45.3" r="5.6"/>
<circle cx="583.8" cy="79.1" r="5.6"/>
<circle cx="293.6" cy="80.0" r="5.6"/>
<circle cx="171.4" cy="26.3" r="5.6"/>
<circle cx="262.0" cy="10.2" r="5.6"/>
<circle cx="516.2" cy="90.3" r="5.6"/>
<circle cx="834.3" cy="381.3" r="5.6"/>
<circle cx="435.6" cy="78.9" r="5.6"/>
<circle cx="632.7" cy="59.2" r="5.6"/>
<circle cx="190.0" cy="15.1" r="5.6"/>
<circle cx="808.3" cy="432.1" r="5.6"/>
<circle cx="682.5" cy="314.0" r="5.6"/>
<circle cx="689.5" cy="82.6" r="5.6"/>
<circle cx="542.1" cy="115.2" r="5.6"/>
<circle cx="446.2" cy="99.5" r="5.6"/>
<circle cx="524.4" cy="197.3" r="5.6"/>
<circle cx="237.7" cy="30.8" r="5.6"/>
<circle cx="594.5" cy="124.5" r="5.6"/>
<circle cx="239.5" cy="31.5" r="5.6"/>
<circle cx="265.1" cy="11.0" r="5.6"/>
<circle cx="698.4" cy="104.8" r="5.6"/>
<circle cx="181.4" cy="20.9" r="5.6"/>
<circle cx="142.4" cy="22.1" r="5.6"/>
<circle cx="505.0" cy="66.8" r="5.6"/>
<circle cx="373.3" cy="41.5" r="5.6"/>
<circle cx="151.6" cy="25.5" r="5.6"/>
<circle cx="330.5" cy="48.7" r="5.6"/>
<circle cx="417.7" cy="155.4" r="5.6"/>
<circle cx="206.8" cy="6.7" r="5.6"/>
<circle cx="317.9" cy="18.1" r="5.6"/>
<circle cx="779.0" cy="456.4" r="5.6"/>
<circle cx="672.3" cy="301.7" r="5.6"/>
<circle cx="147.7" cy="13.4" r="5.6"/>
<circle cx="576.6" cy="186.5" r="5.6"/>
<circle cx="286.4" cy="10.4" r="5.6"/>
<circle cx="754.9" cy="353.3" r="5.6"/>
<circle cx="674.2" cy="309.3" r="5.6"/>
<circle cx="210.9" cy="15.0" r="5.6"/>
<circle cx="143.2" cy="9.8" r="5.6"/>
<circle cx="579.8" cy="253.2" r="5.6"/>
<circle cx="498.2" cy="57.2" r="5.6"/>
<circle cx="552.4" cy="42.9" r="5.6"/>
<circle cx="295.9" cy="38.1" r="5.6"/>
<circle cx="604.9" cy="17.3" r="5.6"/>
<circle cx="591.9" cy="32.0" r="5.6"/>
<circle cx="719.4" cy="94.0" r="5.6"/>
<circle cx="590.2" cy="215.3" r="5.6"/>
<circle cx="140.2" cy="8.5" r="5.6"/>
<circle cx="608.8" cy="242.9" r="5.6"/>
<circle cx="601.4" cy="60.6" r="5.6"/>
<circle cx="302.6" cy="15.5" r="5.6"/>
<circle cx="245.5" cy="12.3" r="5.6"/>
<circle cx="336.1" cy="26.0" r="5.6"/>
<circle cx="504.2" cy="63.6" r="5.6"/>
<circle cx="429.4" cy="28.1" r="5.6"/>
<circle cx="152.0" cy="6.5" r="5.6"/>
<circle cx="393.2" cy="87.1" r="5.6"/>
<circle cx="415.7" cy="32.5" r="5.6"/>
<circle cx="344.5" cy="22.7" r="5.6"/>
<circle cx="322.5" cy="7.7" r="5.6"/>
<circle cx="441.5" cy="46.9" r="5.6"/>
<circle cx="628.9" cy="180.4" r="5.6"/>
<circle cx="252.0" cy="12.4" r="5.6"/>
<circle cx="397.4" cy="87.9" r="5.6"/>
<circle cx="176.8" cy="12.2" r="5.6"/>
<circle cx="514.2" cy="149.1" r="5.6"/>
<circle cx="884.4" cy="348.3" r="5.6"/>
<circle cx="564.7" cy="6.5" r="5.6"/>
<circle cx="334.2" cy="26.0" r="5.6"/>
<circle cx="500.1" cy="157.6" r="5.6"/>
<circle cx="145.3" cy="13.4" r="5.6"/>
<circle cx="301.5" cy="16.0" r="5.6"/>
<circle cx="421.0" cy="9.2" r="5.6"/>
<circle cx="424.4" cy="41.5" r="5.6"/>
<circle cx="606.5" cy="20.0" r="5.6"/>
<circle cx="176.8" cy="19.4" r="5.6"/>
<circle cx="394.8" cy="80.9" r="5.6"/>
<circle cx="174.4" cy="11.9" r="5.6"/>
<circle cx="718.1" cy="307.6" r="5.6"/>
<circle cx="455.9" cy="10.0" r="5.6"/>
<circle cx="313.7" cy="15.5" r="5.6"/>
<circle cx="243.8" cy="7.3" r="5.6"/>
<circle cx="539.1" cy="20.7" r="5.6"/>
<circle cx="600.7" cy="71.1" r="5.6"/>
<circle cx="263.3" cy="23.2" r="5.6"/>
<circle cx="235.5" cy="24.8" r="5.6"/>
<circle cx="652.0" cy="8.2" r="5.6"/>
<circle cx="667.5" cy="472.5" r="5.6"/>
<circle cx="791.7" cy="235.2" r="5.6"/>
<circle cx="613.1" cy="51.3" r="5.6"/>
<circle cx="449.4" cy="103.3" r="5.6"/>
<circle cx="733.3" cy="306.3" r="5.6"/>
<circle cx="624.1" cy="268.4" r="5.6"/>
<circle cx="476.2" cy="65.9" r="5.6"/>
<circle cx="159.4" cy="10.9" r="5.6"/>
<circle cx="341.0" cy="11.5" r="5.6"/>
<circle cx="289.2" cy="11.6" r="5.6"/>
<circle cx="496.7" cy="42.2" r="5.6"/>
<circle cx="902.2" cy="314.0" r="5.6"/>
<circle cx="425.0" cy="6.5" r="5.6"/>
<circle cx="502.3" cy="20.1" r="5.6"/>
<circle cx="233.7" cy="17.3" r="5.6"/>
<circle cx="656.3" cy="67.8" r="5.6"/>
<circle cx="642.8" cy="73.4" r="5.6"/>
<circle cx="284.3" cy="13.9" r="5.6"/>
<circle cx="583.8" cy="82.2" r="5.6"/>
<circle cx="531.7" cy="75.0" r="5.6"/>
<circle cx="441.3" cy="23.9" r="5.6"/>
<circle cx="400.2" cy="19.8" r="5.6"/>
<circle cx="398.3" cy="25.4" r="5.6"/>
<circle cx="423.8" cy="44.8" r="5.6"/>
<circle cx="594.3" cy="75.5" r="5.6"/>
<circle cx="146.1" cy="17.7" r="5.6"/>
<circle cx="281.4" cy="15.7" r="5.6"/>
<circle cx="537.3" cy="122.7" r="5.6"/>
<circle cx="580.9" cy="134.1" r="5.6"/>
<circle cx="527.6" cy="242.8" r="5.6"/>
<circle cx="454.1" cy="27.5" r="5.6"/>
<circle cx="580.2" cy="328.3" r="5.6"/>
<circle cx="680.6" cy="191.9" r="5.6"/>
<circle cx="333.0" cy="35.0" r="5.6"/>
<circle cx="603.9" cy="162.4" r="5.6"/>
<circle cx="784.8" cy="214.1" r="5.6"/>
<circle cx="221.1" cy="10.2" r="5.6"/>
<circle cx="690.2" cy="283.4" r="5.6"/>
<circle cx="846.3" cy="273.3" r="5.6"/>
<circle cx="768.3" cy="108.7" r="5.6"/>
<circle cx="324.3" cy="8.4" r="5.6"/>
<circle cx="783.5" cy="432.8" r="5.6"/>
<circle cx="439.8" cy="145.9" r="5.6"/>
<circle cx="471.0" cy="61.8" r="5.6"/>
<circle cx="621.7" cy="97.7" r="5.6"/>
<circle cx="588.2" cy="113.4" r="5.6"/>
<circle cx="200.9" cy="17.1" r="5.6"/>
<circle cx="639.5" cy="219.6" r="5.6"/>
<circle cx="536.0" cy="89.3" r="5.6"/>
<circle cx="467.4" cy="90.1" r="5.6"/>
<circle cx="642.4" cy="139.6" r="5.6"/>
<circle cx="355.7" cy="7.8" r="5.6"/>
<circle cx="798.1" cy="371.1" r="5.6"/>
<circle cx="493.6" cy="11.1" r="5.6"/>
<circle cx="331.5" cy="38.9" r="5.6"/>
<circle cx="741.0" cy="355.9" r="5.6"/>
<circle cx="548.6" cy="15.1" r="5.6"/>
<circle cx="322.5" cy="35.7" r="5.6"/>
<circle cx="400.9" cy="78.7" r="5.6"/>
<circle cx="645.8" cy="58.2" r="5.6"/>
<circle cx="221.1" cy="34.8" r="5.6"/>
<circle cx="242.3" cy="13.1" r="5.6"/>
<circle cx="396.4" cy="18.5" r="5.6"/>
<circle cx="736.5" cy="403.6" r="5.6"/>
<circle cx="769.5" cy="254.8" r="5.6"/>
<circle cx="306.7" cy="9.6" r="5.6"/>
<circle cx="592.8" cy="125.2" r="5.6"/>
<circle cx="234.0" cy="12.8" r="5.6"/>
<circle cx="351.8" cy="15.8" r="5.6"/>
<circle cx="329.8" cy="27.6" r="5.6"/>
<circle cx="588.1" cy="250.1" r="5.6"/>
<circle cx="287.2" cy="20.1" r="5.6"/>
<circle cx="497.4" cy="15.8" r="5.6"/>
<circle cx="332.0" cy="24.1" r="5.6"/>
<circle cx="361.6" cy="11.2" r="5.6"/>
<circle cx="522.3" cy="117.7" r="5.6"/>
<circle cx="365.1" cy="9.3" r="5.6"/>
<circle cx="682.5" cy="275.8" r="5.6"/>
<circle cx="465.7" cy="6.8" r="5.6"/>
<circle cx="279.8" cy="40.9" r="5.6"/>
<circle cx="756.2" cy="232.6" r="5.6"/>
<circle cx="172.0" cy="8.3" r="5.6"/>
<circle cx="706.7" cy="232.0" r="5.6"/>
<circle cx="350.0" cy="14.7" r="5.6"/>
<circle cx="859.0" cy="352.1" r="5.6"/>
<circle cx="337.6" cy="66.1" r="5.6"/>
<circle cx="754.9" cy="237.7" r="5.6"/>
<circle cx="342.9" cy="39.1" r="5.6"/>
<circle cx="316.3" cy="22.8" r="5.6"/>
<circle cx="170.5" cy="13.9" r="5.6"/>
<circle cx="637.9" cy="146.3" r="5.6"/>
<circle cx="184.7" cy="8.0" r="5.6"/>
<circle cx="779.0" cy="242.1" r="5.6"/>
<circle cx="271.1" cy="20.0" r="5.6"/>
<circle cx="436.9" cy="15.2" r="5.6"/>
<circle cx="523.9" cy="147.7" r="5.6"/>
<circle cx="707.9" cy="311.4" r="5.6"/>
<circle cx="313.0" cy="22.4" r="5.6"/>
<circle cx="786.7" cy="340.6" r="5.6"/>
<circle cx="248.4" cy="33.8" r="5.6"/>
<circle cx="449.2" cy="41.5" r="5.6"/>
<circle cx="529.6" cy="120.7" r="5.6"/>
<circle cx="454.7" cy="14.3" r="5.6"/>
<circle cx="300.5" cy="7.3" r="5.6"/>
<circle cx="556.8" cy="43.1" r="5.6"/>
<circle cx="600.2" cy="250.0" r="5.6"/>
<circle cx="548.4" cy="38.0" r="5.6"/>
<circle cx="639.9" cy="352.5" r="5.6"/>
<circle cx="554.2" cy="106.5" r="5.6"/>
<circle cx="368.4" cy="63.1" r="5.6"/>
<circle cx="539.8" cy="20.3" r="5.6"/>
<circle cx="242.8" cy="16.5" r="5.6"/>
<circle cx="202.9" cy="25.0" r="5.6"/>
<circle cx="266.1" cy="31.7" r="5.6"/>
<circle cx="459.2" cy="36.6" r="5.6"/>
<circle cx="566.1" cy="109.4" r="5.6"/>
<circle cx="482.1" cy="185.7" r="5.6"/>
<circle cx="540.2" cy="61.7" r="5.6"/>
<circle cx="567.6" cy="137.6" r="5.6"/>
<circle cx="508.9" cy="46.4" r="5.6"/>
<circle cx="686.3" cy="162.7" r="5.6"/>
<circle cx="426.7" cy="10.2" r="5.6"/>
<circle cx="314.3" cy="24.3" r="5.6"/>
<circle cx="504.8" cy="11.1" r="5.6"/>
<circle cx="318.9" cy="7.9" r="5.6"/>
<circle cx="163.7" cy="24.9" r="5.6"/>
<circle cx="166.4" cy="23.2" r="5.6"/>
<circle cx="411.0" cy="17.5" r="5.6"/>
<circle cx="252.2" cy="31.5" r="5.6"/>
<circle cx="570.7" cy="126.1" r="5.6"/>
<circle cx="649.6" cy="233.2" r="5.6"/>
<circle cx="388.5" cy="7.6" r="5.6"/>
<circle cx="636.7" cy="421.1" r="5.6"/>
<circle cx="630.2" cy="177.0" r="5.6"/>
<circle cx="862.7" cy="455.2" r="5.6"/>
<circle cx="535.7" cy="236.3" r="5.6"/>
<circle cx="458.8" cy="190.7" r="5.6"/>
<circle cx="711.7" cy="273.3" r="5.6"/>
<circle cx="535.8" cy="213.2" r="5.6"/>
<circle cx="758.7" cy="192.5" r="5.6"/>
<circle cx="429.1" cy="6.5" r="5.6"/>
<circle cx="497.6" cy="41.5" r="5.6"/>
<circle cx="380.5" cy="28.5" r="5.6"/>
<circle cx="260.7" cy="17.6" r="5.6"/>
<circle cx="333.3" cy="63.9" r="5.6"/>
<circle cx="403.9" cy="12.2" r="5.6"/>
<circle cx="195.4" cy="8.7" r="5.6"/>
<circle cx="377.2" cy="11.5" r="5.6"/>
<circle cx="455.3" cy="121.4" r="5.6"/>
<circle cx="201.0" cy="16.1" r="5.6"/>
<circle cx="185.2" cy="9.7" r="5.6"/>
<circle cx="292.7" cy="13.2" r="5.6"/>
<circle cx="280.6" cy="13.9" r="5.6"/>
<circle cx="328.2" cy="34.6" r="5.6"/>
<circle cx="441.5" cy="28.2" r="5.6"/>
<circle cx="501.4" cy="179.3" r="5.6"/>
<circle cx="143.3" cy="8.6" r="5.6"/>
<circle cx="211.4" cy="20.7" r="5.6"/>
<circle cx="661.7" cy="206.4" r="5.6"/>
<circle cx="537.7" cy="68.9" r="5.6"/>
<circle cx="561.6" cy="187.2" r="5.6"/>
<circle cx="372.0" cy="21.1" r="5.6"/>
<circle cx="668.1" cy="237.8" r="5.6"/>
<circle cx="171.3" cy="19.9" r="5.6"/>
<circle cx="295.2" cy="114.9" r="5.6"/>
<circle cx="217.2" cy="21.8" r="5.6"/>
<circle cx="595.7" cy="185.7" r="5.6"/>
<circle cx="174.4" cy="8.2" r="5.6"/>
<circle cx="495.1" cy="6.5" r="5.6"/>
<circle cx="444.7" cy="48.8" r="5.6"/>
<circle cx="527.7" cy="71.5" r="5.6"/>
<circle cx="227.8" cy="19.3" r="5.6"/>
<circle cx="602.6" cy="6.5" r="5.6"/>
<circle cx="716.2" cy="327.9" r="5.6"/>
<circle cx="412.4" cy="33.4" r="5.6"/>
<circle cx="449.2" cy="12.7" r="5.6"/>
<circle cx="295.2" cy="56.0" r="5.6"/>
<circle cx="520.3" cy="72.6" r="5.6"/>
<circle cx="396.3" cy="26.4" r="5.6"/>
<circle cx="321.5" cy="53.6" r="5.6"/>
<circle cx="708.6" cy="406.1" r="5.6"/>
<circle cx="456.4" cy="83.4" r="5.6"/>
<circle cx="829.2" cy="421.3" r="5.6"/>
<circle cx="271.8" cy="24.7" r="5.6"/>
<circle cx="774.0" cy="202.1" r="5.6"/>
<circle cx="197.6" cy="26.8" r="5.6"/>
<circle cx="449.5" cy="35.1" r="5.6"/>
<circle cx="457.2" cy="110.6" r="5.6"/>
<circle cx="295.0" cy="20.9" r="5.6"/>
<circle cx="452.7" cy="46.0" r="5.6"/>
<circle cx="563.3" cy="95.1" r="5.6"/>
<circle cx="469.3" cy="13.9" r="5.6"/>
<circle cx="289.1" cy="16.0" r="5.6"/>
<circle cx="664.0" cy="91.6" r="5.6"/>
<circle cx="573.7" cy="51.2" r="5.6"/>
<circle cx="627.2" cy="65.5" r="5.6"/>
<circle cx="543.8" cy="100.6" r="5.6"/>
<circle cx="310.2" cy="42.7" r="5.6"/>
<circle cx="279.0" cy="15.2" r="5.6"/>
<circle cx="491.9" cy="173.2" r="5.6"/>
<circle cx="431.2" cy="32.7" r="5.6"/>
<circle cx="716.8" cy="221.7" r="5.6"/>
<circle cx="633.8" cy="170.7" r="5.6"/>
<circle cx="502.2" cy="135.5" r="5.6"/>
<circle cx="329.1" cy="50.9" r="5.6"/>
<circle cx="527.3" cy="7.0" r="5.6"/>
<circle cx="191.6" cy="13.3" r="5.6"/>
<circle cx="272.0" cy="10.9" r="5.6"/>
<circle cx="674.3" cy="170.0" r="5.6"/>
<circle cx="876.7" cy="464.0" r="5.6"/>
<circle cx="671.4" cy="96.0" r="5.6"/>
<circle cx="798.7" cy="273.3" r="5.6"/>
<circle cx="152.5" cy="8.4" r="5.6"/>
<circle cx="796.8" cy="437.2" r="5.6"/>
<circle cx="344.2" cy="21.6" r="5.6"/>
<circle cx="202.9" cy="8.9" r="5.6"/>
<circle cx="718.1" cy="320.3" r="5.6"/>
<circle cx="238.9" cy="16.6" r="5.6"/>
<circle cx="472.6" cy="6.5" r="5.6"/>
<circle cx="527.9" cy="309.2" r="5.6"/>
<circle cx="849.4" cy="133.9" r="5.6"/>
<circle cx="741.0" cy="274.5" r="5.6"/>
<circle cx="274.5" cy="26.7" r="5.6"/>
<circle cx="645.3" cy="221.5" r="5.6"/>
<circle cx="432.4" cy="81.6" r="5.6"/>
<circle cx="442.9" cy="13.1" r="5.6"/>
<circle cx="189.9" cy="6.5" r="5.6"/>
<circle cx="256.6" cy="21.0" r="5.6"/>
<circle cx="528.3" cy="152.8" r="5.6"/>
<circle cx="237.9" cy="12.1" r="5.6"/>
<circle cx="508.8" cy="169.7" r="5.6"/>
<circle cx="171.3" cy="13.8" r="5.6"/>
<circle cx="372.7" cy="91.0" r="5.6"/>
<circle cx="752.4" cy="331.7" r="5.6"/>
<circle cx="214.2" cy="17.1" r="5.6"/>
<circle cx="164.7" cy="30.0" r="5.6"/>
<circle cx="660.9" cy="331.5" r="5.6"/>
<circle cx="315.4" cy="44.9" r="5.6"/>
<circle cx="669.3" cy="85.5" r="5.6"/>
<circle cx="472.1" cy="79.3" r="5.6"/>
<circle cx="323.0" cy="34.7" r="5.6"/>
<circle cx="453.0" cy="15.3" r="5.6"/>
<circle cx="205.9" cy="26.5" r="5.6"/>
<circle cx="848.9" cy="376.2" r="5.6"/>
<circle cx="767.6" cy="211.0" r="5.6"/>
<circle cx="478.2" cy="134.9" r="5.6"/>
<circle cx="574.6" cy="20.9" r="5.6"/>
<circle cx="188.9" cy="12.7" r="5.6"/>
<circle cx="294.8" cy="6.6" r="5.6"/>
<circle cx="439.5" cy="24.7" r="5.6"/>
<circle cx="693.3" cy="311.4" r="5.6"/>
<circle cx="756.2" cy="382.6" r="5.6"/>
<circle cx="692.7" cy="56.5" r="5.6"/>
<circle cx="498.2" cy="13.5" r="5.6"/>
<circle cx="550.7" cy="225.1" r="5.6"/>
<circle cx="285.7" cy="34.4" r="5.6"/>
<circle cx="154.9" cy="7.9" r="5.6"/>
<circle cx="379.4" cy="111.5" r="5.6"/>
<circle cx="227.4" cy="21.4" r="5.6"/>
<circle cx="190.5" cy="8.4" r="5.6"/>
<circle cx="665.9" cy="270.8" r="5.6"/>
<circle cx="195.7" cy="14.7" r="5.6"/>
<circle cx="531.9" cy="9.9" r="5.6"/>
<circle cx="408.0" cy="20.3" r="5.6"/>
<circle cx="493.0" cy="231.0" r="5.6"/>
<circle cx="160.9" cy="17.2" r="5.6"/>
<circle cx="176.3" cy="29.3" r="5.6"/>
<circle cx="438.3" cy="21.1" r="5.6"/>
<circle cx="732.1" cy="90.9" r="5.6"/>
<circle cx="445.1" cy="6.5" r="5.6"/>
<circle cx="691.4" cy="327.3" r="5.6"/>
<circle cx="267.0" cy="23.5" r="5.6"/>
<circle cx="263.4" cy="14.2" r="5.6"/>
<circle cx="615.7" cy="20.7" r="5.6"/>
<circle cx="638.7" cy="105.6" r="5.6"/>
<circle cx="260.9" cy="20.2" r="5.6"/>
<circle cx="585.0" cy="46.5" r="5.6"/>
<circle cx="392.1" cy="41.5" r="5.6"/>
<circle cx="318.4" cy="56.0" r="5.6"/>
<circle cx="294.6" cy="10.6" r="5.6"/>
<circle cx="389.3" cy="82.9" r="5.6"/>
<circle cx="369.9" cy="70.6" r="5.6"/>
<circle cx="253.3" cy="6.8" r="5.6"/>
<circle cx="143.4" cy="6.7" r="5.6"/>
<circle cx="176.5" cy="17.6" r="5.6"/>
<circle cx="513.7" cy="174.1" r="5.6"/>
<circle cx="321.3" cy="28.0" r="5.6"/>
<circle cx="815.9" cy="181.1" r="5.6"/>
<circle cx="684.4" cy="52.1" r="5.6"/>
<circle cx="590.3" cy="275.7" r="5.6"/>
<circle cx="759.4" cy="438.5" r="5.6"/>
<circle cx="685.1" cy="8.3" r="5.6"/>
<circle cx="426.1" cy="32.4" r="5.6"/>
<circle cx="245.5" cy="35.2" r="5.6"/>
<circle cx="515.4" cy="71.4" r="5.6"/>
<circle cx="591.1" cy="105.6" r="5.6"/>
<circle cx="258.9" cy="18.3" r="5.6"/>
<circle cx="543.3" cy="85.7" r="5.6"/>
<circle cx="360.0" cy="16.0" r="5.6"/>
<circle cx="157.6" cy="11.9" r="5.6"/>
<circle cx="158.6" cy="24.1" r="5.6"/>
<circle cx="143.2" cy="23.5" r="5.6"/>
<circle cx="746.0" cy="481.8" r="5.6"/>
<circle cx="584.6" cy="196.9" r="5.6"/>
<circle cx="656.8" cy="135.0" r="5.6"/>
<circle cx="143.9" cy="13.1" r="5.6"/>
<circle cx="490.8" cy="13.1" r="5.6"/>
<circle cx="857.1" cy="265.6" r="5.6"/>
<circle cx="289.3" cy="14.1" r="5.6"/>
<circle cx="404.6" cy="72.5" r="5.6"/>
<circle cx="513.4" cy="100.0" r="5.6"/>
<circle cx="230.7" cy="17.0" r="5.6"/>
<circle cx="233.9" cy="8.8" r="5.6"/>
<circle cx="569.8" cy="241.8" r="5.6"/>
<circle cx="742.2" cy="168.4" r="5.6"/>
<circle cx="251.5" cy="6.6" r="5.6"/>
<circle cx="232.2" cy="6.5" r="5.6"/>
<circle cx="292.1" cy="6.9" r="5.6"/>
<circle cx="625.3" cy="241.7" r="5.6"/>
<circle cx="336.5" cy="45.1" r="5.6"/>
<circle cx="586.4" cy="162.7" r="5.6"/>
<circle cx="709.8" cy="233.3" r="5.6"/>
<circle cx="768.9" cy="363.5" r="5.6"/>
<circle cx="728.3" cy="84.5" r="5.6"/>
<circle cx="599.2" cy="159.8" r="5.6"/>
<circle cx="199.9" cy="25.7" r="5.6"/>
<circle cx="139.6" cy="10.7" r="5.6"/>
<circle cx="462.0" cy="111.3" r="5.6"/>
<circle cx="297.0" cy="19.1" r="5.6"/>
<circle cx="402.8" cy="7.6" r="5.6"/>
<circle cx="851.4" cy="362.2" r="5.6"/>
<circle cx="253.0" cy="40.8" r="5.6"/>
<circle cx="460.9" cy="10.3" r="5.6"/>
<circle cx="484.5" cy="42.7" r="5.6"/>
<circle cx="507.7" cy="175.6" r="5.6"/>
<circle cx="321.1" cy="17.6" r="5.6"/>
<circle cx="251.7" cy="34.5" r="5.6"/>
<circle cx="692.1" cy="392.8" r="5.6"/>
<circle cx="264.9" cy="16.6" r="5.6"/>
<circle cx="332.6" cy="39.2" r="5.6"/>
<circle cx="913.0" cy="382.6" r="5.6"/>
<circle cx="548.6" cy="149.3" r="5.6"/>
<circle cx="270.5" cy="11.7" r="5.6"/>
<circle cx="250.9" cy="13.8" r="5.6"/>
<circle cx="718.7" cy="47.0" r="5.6"/>
<circle cx="616.0" cy="173.4" r="5.6"/>
<circle cx="305.7" cy="13.7" r="5.6"/>
<circle cx="357.0" cy="16.7" r="5.6"/>
<circle cx="432.7" cy="156.9" r="5.6"/>
<circle cx="632.1" cy="156.6" r="5.6"/>
<circle cx="779.0" cy="415.6" r="5.6"/>
<circle cx="821.6" cy="204.0" r="5.6"/>
<circle cx="508.3" cy="23.3" r="5.6"/>
<circle cx="269.0" cy="10.9" r="5.6"/>
<circle cx="681.3" cy="442.3" r="5.6"/>
<circle cx="188.0" cy="15.2" r="5.6"/>
<circle cx="525.2" cy="210.7" r="5.6"/>
<circle cx="559.7" cy="372.4" r="5.6"/>
<circle cx="490.8" cy="130.1" r="5.6"/>
<circle cx="322.7" cy="60.7" r="5.6"/>
<circle cx="660.1" cy="87.0" r="5.6"/>
<circle cx="374.1" cy="10.8" r="5.6"/>
<circle cx="248.6" cy="45.6" r="5.6"/>
<circle cx="274.5" cy="6.5" r="5.6"/>
<circle cx="760.0" cy="302.5" r="5.6"/>
<circle cx="469.3" cy="116.2" r="5.6"/>
<circle cx="425.0" cy="19.7" r="5.6"/>
<circle cx="319.8" cy="15.6" r="5.6"/>
<circle cx="747.3" cy="113.7" r="5.6"/>
<circle cx="450.4" cy="63.6" r="5.6"/>
<circle cx="290.2" cy="17.2" r="5.6"/>
<circle cx="202.7" cy="11.6" r="5.6"/>
<circle cx="490.0" cy="6.5" r="5.6"/>
<circle cx="666.1" cy="236.9" r="5.6"/>
<circle cx="658.6" cy="257.3" r="5.6"/>
<circle cx="267.9" cy="17.2" r="5.6"/>
<circle cx="761.3" cy="449.3" r="5.6"/>
<circle cx="225.5" cy="42.5" r="5.6"/>
<circle cx="763.8" cy="200.2" r="5.6"/>
<circle cx="227.4" cy="19.9" r="5.6"/>
<circle cx="777.1" cy="448.0" r="5.6"/>
<circle cx="767.6" cy="420.7" r="5.6"/>
<circle cx="175.7" cy="30.9" r="5.6"/>
<circle cx="335.6" cy="14.4" r="5.6"/>
<circle cx="603.9" cy="93.1" r="5.6"/>
<circle cx="289.8" cy="26.9" r="5.6"/>
<circle cx="458.7" cy="11.2" r="5.6"/>
<circle cx="831.7" cy="296.1" r="5.6"/>
<circle cx="761.3" cy="151.2" r="5.6"/>
<circle cx="709.8" cy="125.2" r="5.6"/>
<circle cx="396.0" cy="23.6" r="5.6"/>
<circle cx="195.4" cy="10.2" r="5.6"/>
<circle cx="573.3" cy="329.6" r="5.6"/>
<circle cx="665.2" cy="109.5" r="5.6"/>
<circle cx="189.9" cy="16.0" r="5.6"/>
<circle cx="317.4" cy="9.4" r="5.6"/>
<circle cx="718.1" cy="354.6" r="5.6"/>
<circle cx="347.1" cy="24.3" r="5.6"/>
<circle cx="418.6" cy="59.4" r="5.6"/>
<circle cx="204.9" cy="8.3" r="5.6"/>
<circle cx="589.1" cy="93.1" r="5.6"/>
<circle cx="345.9" cy="15.2" r="5.6"/>
<circle cx="621.4" cy="129.9" r="5.6"/>
<circle cx="152.8" cy="23.5" r="5.6"/>
<circle cx="281.7" cy="20.7" r="5.6"/>
<circle cx="590.5" cy="73.9" r="5.6"/>
<circle cx="283.2" cy="6.5" r="5.6"/>
<circle cx="272.7" cy="12.6" r="5.6"/>
<circle cx="586.3" cy="177.4" r="5.6"/>
<circle cx="901.6" cy="369.2" r="5.6"/>
<circle cx="588.8" cy="106.2" r="5.6"/>
<circle cx="755.6" cy="175.4" r="5.6"/>
<circle cx="409.9" cy="58.2" r="5.6"/>
<circle cx="313.7" cy="24.8" r="5.6"/>
<circle cx="280.9" cy="27.9" r="5.6"/>
<circle cx="304.3" cy="6.9" r="5.6"/>
<circle cx="200.0" cy="26.2" r="5.6"/>
<circle cx="604.1" cy="7.5" r="5.6"/>
<circle cx="463.4" cy="88.0" r="5.6"/>
<circle cx="491.8" cy="138.5" r="5.6"/>
<circle cx="734.6" cy="209.7" r="5.6"/>
<circle cx="180.9" cy="6.9" r="5.6"/>
<circle cx="850.2" cy="261.2" r="5.6"/>
<circle cx="695.9" cy="402.9" r="5.6"/>
<circle cx="746.0" cy="373.7" r="5.6"/>
<circle cx="491.7" cy="62.8" r="5.6"/>
<circle cx="372.7" cy="80.3" r="5.6"/>
<circle cx="313.1" cy="31.1" r="5.6"/>
<circle cx="395.0" cy="57.5" r="5.6"/>
<circle cx="166.5" cy="24.0" r="5.6"/>
<circle cx="678.2" cy="117.3" r="5.6"/>
<circle cx="401.6" cy="69.2" r="5.6"/>
<circle cx="605.8" cy="68.7" r="5.6"/>
<circle cx="583.7" cy="56.9" r="5.6"/>
<circle cx="680.6" cy="347.0" r="5.6"/>
<circle cx="580.7" cy="60.0" r="5.6"/>
<circle cx="517.4" cy="59.7" r="5.6"/>
<circle cx="537.5" cy="96.7" r="5.6"/>
<circle cx="776.5" cy="315.9" r="5.6"/>
<circle cx="210.6" cy="23.2" r="5.6"/>
<circle cx="387.6" cy="9.5" r="5.6"/>
<circle cx="395.4" cy="26.5" r="5.6"/>
<circle cx="203.6" cy="14.6" r="5.6"/>
<circle cx="732.7" cy="431.5" r="5.6"/>
<circle cx="505.8" cy="208.0" r="5.6"/>
<circle cx="502.1" cy="92.0" r="5.6"/>
<circle cx="462.9" cy="21.2" r="5.6"/>
<circle cx="725.1" cy="252.3" r="5.6"/>
<circle cx="519.5" cy="176.5" r="5.6"/>
<circle cx="261.6" cy="27.4" r="5.6"/>
<circle cx="192.7" cy="16.4" r="5.6"/>
<circle cx="781.0" cy="248.5" r="5.6"/>
<circle cx="405.0" cy="41.5" r="5.6"/>
<circle cx="451.9" cy="11.7" r="5.6"/>
<circle cx="343.3" cy="13.2" r="5.6"/>
<circle cx="178.2" cy="30.8" r="5.6"/>
<circle cx="145.2" cy="12.3" r="5.6"/>
<circle cx="479.8" cy="72.3" r="5.6"/>
<circle cx="356.0" cy="12.0" r="5.6"/>
<circle cx="242.3" cy="33.4" r="5.6"/>
<circle cx="256.0" cy="23.5" r="5.6"/>
<circle cx="314.6" cy="18.7" r="5.6"/>
<circle cx="200.6" cy="21.8" r="5.6"/>
<circle cx="297.1" cy="56.9" r="5.6"/>
<circle cx="195.5" cy="26.5" r="5.6"/>
<circle cx="385.0" cy="26.0" r="5.6"/>
<circle cx="396.8" cy="11.8" r="5.6"/>
<circle cx="395.5" cy="21.9" r="5.6"/>
<circle cx="596.0" cy="132.9" r="5.6"/>
<circle cx="677.9" cy="88.6" r="5.6"/>
<circle cx="821.0" cy="347.6" r="5.6"/>
<circle cx="241.3" cy="25.1" r="5.6"/>
<circle cx="454.1" cy="46.7" r="5.6"/>
<circle cx="622.3" cy="133.9" r="5.6"/>
<circle cx="165.2" cy="11.6" r="5.6"/>
<circle cx="383.2" cy="8.6" r="5.6"/>
<circle cx="821.0" cy="299.9" r="5.6"/>
<circle cx="316.6" cy="10.7" r="5.6"/>
<circle cx="574.0" cy="130.4" r="5.6"/>
<circle cx="255.0" cy="10.8" r="5.6"/>
<circle cx="876.2" cy="434.0" r="5.6"/>
<circle cx="492.0" cy="33.3" r="5.6"/>
<circle cx="401.8" cy="53.4" r="5.6"/>
<circle cx="802.5" cy="329.2" r="5.6"/>
<circle cx="155.2" cy="17.9" r="5.6"/>
<circle cx="513.8" cy="161.2" r="5.6"/>
<circle cx="673.6" cy="176.0" r="5.6"/>
<circle cx="811.4" cy="341.9" r="5.6"/>
<circle cx="227.8" cy="38.1" r="5.6"/>
<circle cx="537.2" cy="19.5" r="5.6"/>
<circle cx="325.1" cy="58.4" r="5.6"/>
<circle cx="685.7" cy="325.4" r="5.6"/>
<circle cx="266.9" cy="32.3" r="5.6"/>
<circle cx="385.7" cy="20.5" r="5.6"/>
<circle cx="655.4" cy="228.6" r="5.6"/>
<circle cx="231.0" cy="19.3" r="5.6"/>
<circle cx="141.1" cy="31.0" r="5.6"/>
<circle cx="367.3" cy="14.0" r="5.6"/>
<circle cx="304.5" cy="27.9" r="5.6"/>
<circle cx="318.9" cy="48.0" r="5.6"/>
<circle cx="897.1" cy="399.8" r="5.6"/>
<circle cx="414.9" cy="60.2" r="5.6"/>
<circle cx="460.2" cy="56.0" r="5.6"/>
<circle cx="217.2" cy="14.1" r="5.6"/>
<circle cx="451.4" cy="64.2" r="5.6"/>
<circle cx="448.6" cy="71.1" r="5.6"/>
<circle cx="453.3" cy="15.7" r="5.6"/>
<circle cx="636.1" cy="306.7" r="5.6"/>
<circle cx="530.6" cy="328.8" r="5.6"/>
<circle cx="528.4" cy="145.0" r="5.6"/>
<circle cx="734.6" cy="80.7" r="5.6"/>
<circle cx="481.9" cy="145.7" r="5.6"/>
<circle cx="275.7" cy="29.7" r="5.6"/>
<circle cx="374.5" cy="56.3" r="5.6"/>
<circle cx="458.7" cy="210.9" r="5.6"/>
<circle cx="206.1" cy="22.2" r="5.6"/>
<circle cx="413.7" cy="18.6" r="5.6"/>
<circle cx="437.1" cy="61.1" r="5.6"/>
<circle cx="335.5" cy="7.6" r="5.6"/>
<circle cx="305.4" cy="8.5" r="5.6"/>
<circle cx="581.1" cy="279.0" r="5.6"/>
<circle cx="326.3" cy="24.5" r="5.6"/>
<circle cx="648.8" cy="328.3" r="5.6"/>
<circle cx="727.0" cy="283.4" r="5.6"/>
<circle cx="294.2" cy="16.6" r="5.6"/>
<circle cx="509.7" cy="21.8" r="5.6"/>
<circle cx="543.1" cy="360.0" r="5.6"/>
<circle cx="537.5" cy="10.3" r="5.6"/>
<circle cx="294.3" cy="14.4" r="5.6"/>
<circle cx="266.5" cy="24.7" r="5.6"/>
<circle cx="427.5" cy="18.6" r="5.6"/>
<circle cx="375.4" cy="9.0" r="5.6"/>
<circle cx="340.7" cy="26.5" r="5.6"/>
<circle cx="320.9" cy="23.2" r="5.6"/>
<circle cx="687.6" cy="265.0" r="5.6"/>
<circle cx="258.4" cy="10.5" r="5.6"/>
<circle cx="216.9" cy="13.2" r="5.6"/>
<circle cx="342.2" cy="25.3" r="5.6"/>
<circle cx="571.3" cy="267.1" r="5.6"/>
<circle cx="160.5" cy="9.8" r="5.6"/>
<circle cx="247.1" cy="10.3" r="5.6"/>
<circle cx="371.5" cy="17.3" r="5.6"/>
<circle cx="459.3" cy="136.8" r="5.6"/>
<circle cx="833.7" cy="317.1" r="5.6"/>
<circle cx="443.1" cy="12.4" r="5.6"/>
<circle cx="205.1" cy="13.6" r="5.6"/>
<circle cx="609.2" cy="68.5" r="5.6"/>
<circle cx="412.3" cy="7.6" r="5.6"/>
<circle cx="446.1" cy="75.2" r="5.6"/>
<circle cx="324.7" cy="16.3" r="5.6"/>
<circle cx="382.4" cy="6.8" r="5.6"/>
<circle cx="387.4" cy="18.6" r="5.6"/>
<circle cx="475.9" cy="82.3" r="5.6"/>
<circle cx="287.4" cy="22.5" r="5.6"/>
<circle cx="327.3" cy="47.2" r="5.6"/>
<circle cx="462.0" cy="10.1" r="5.6"/>
<circle cx="291.3" cy="55.5" r="5.6"/>
<circle cx="440.7" cy="24.7" r="5.6"/>
<circle cx="505.8" cy="9.7" r="5.6"/>
<circle cx="166.9" cy="18.5" r="5.6"/>
<circle cx="237.6" cy="28.0" r="5.6"/>
<circle cx="465.4" cy="12.0" r="5.6"/>
<circle cx="621.9" cy="157.4" r="5.6"/>
<circle cx="541.8" cy="164.4" r="5.6"/>
<circle cx="362.1" cy="156.9" r="5.6"/>
<circle cx="445.8" cy="18.9" r="5.6"/>
<circle cx="452.1" cy="24.6" r="5.6"/>
<circle cx="392.7" cy="71.9" r="5.6"/>
<circle cx="556.2" cy="67.2" r="5.6"/>
<circle cx="484.6" cy="42.1" r="5.6"/>
<circle cx="324.8" cy="22.9" r="5.6"/>
<circle cx="499.0" cy="44.0" r="5.6"/>
<circle cx="892.7" cy="392.1" r="5.6"/>
<circle cx="560.3" cy="47.5" r="5.6"/>
<circle cx="180.9" cy="24.5" r="5.6"/>
<circle cx="738.4" cy="305.1" r="5.6"/>
<circle cx="599.3" cy="296.6" r="5.6"/>
<circle cx="574.0" cy="239.5" r="5.6"/>
<circle cx="489.3" cy="32.9" r="5.6"/>
<circle cx="421.1" cy="12.7" r="5.6"/>
<circle cx="331.8" cy="35.6" r="5.6"/>
<circle cx="628.5" cy="188.0" r="5.6"/>
<circle cx="666.0" cy="374.1" r="5.6"/>
<circle cx="307.9" cy="9.3" r="5.6"/>
<circle cx="424.8" cy="6.6" r="5.6"/>
<circle cx="344.9" cy="25.1" r="5.6"/>
<circle cx="461.1" cy="101.2" r="5.6"/>
<circle cx="281.4" cy="24.2" r="5.6"/>
<circle cx="246.0" cy="15.1" r="5.6"/>
<circle cx="427.3" cy="69.8" r="5.6"/>
<circle cx="461.0" cy="10.2" r="5.6"/>
<circle cx="635.8" cy="119.9" r="5.6"/>
<circle cx="894.0" cy="368.6" r="5.6"/>
<circle cx="500.4" cy="68.8" r="5.6"/>
<circle cx="459.9" cy="149.5" r="5.6"/>
</g>
<g fill="none" stroke="#7064c4" stroke-width="2.6">
<circle cx="450.8" cy="180.7" r="5.04" stroke-width="2.65" stroke-opacity="0.017"/>
<circle cx="465.1" cy="192.8" r="5.01" stroke-width="2.61" stroke-opacity="0.015"/>
<circle cx="275.2" cy="67.7" r="5.46" stroke-width="3.23" stroke-opacity="0.056"/>
<circle cx="236.3" cy="52.5" r="5.50" stroke-width="3.32" stroke-opacity="0.056"/>
<circle cx="308.1" cy="84.4" r="5.36" stroke-width="3.09" stroke-opacity="0.053"/>
<circle cx="388.1" cy="133.1" r="5.18" stroke-width="2.83" stroke-opacity="0.029"/>
<circle cx="445.3" cy="176.8" r="5.05" stroke-width="2.67" stroke-opacity="0.018"/>
<circle cx="274.9" cy="67.7" r="5.46" stroke-width="3.24" stroke-opacity="0.056"/>
<circle cx="248.4" cy="55.3" r="5.50" stroke-width="3.31" stroke-opacity="0.056"/>
<circle cx="441.3" cy="173.8" r="5.06" stroke-width="2.68" stroke-opacity="0.018"/>
<circle cx="285.2" cy="72.5" r="5.43" stroke-width="3.19" stroke-opacity="0.056"/>
<circle cx="291.7" cy="77.1" r="5.41" stroke-width="3.16" stroke-opacity="0.056"/>
<circle cx="210.8" cy="42.1" r="5.50" stroke-width="3.35" stroke-opacity="0.056"/>
<circle cx="415.0" cy="153.8" r="5.12" stroke-width="2.76" stroke-opacity="0.023"/>
<circle cx="326.1" cy="95.1" r="5.31" stroke-width="3.02" stroke-opacity="0.047"/>
<circle cx="353.2" cy="110.8" r="5.25" stroke-width="2.93" stroke-opacity="0.038"/>
<circle cx="306.3" cy="84.3" r="5.37" stroke-width="3.10" stroke-opacity="0.054"/>
<circle cx="454.2" cy="184.0" r="5.03" stroke-width="2.65" stroke-opacity="0.016"/>
<circle cx="365.5" cy="118.4" r="5.22" stroke-width="2.90" stroke-opacity="0.035"/>
<circle cx="422.7" cy="159.7" r="5.10" stroke-width="2.74" stroke-opacity="0.021"/>
<circle cx="371.2" cy="121.9" r="5.21" stroke-width="2.88" stroke-opacity="0.033"/>
<circle cx="276.8" cy="68.6" r="5.45" stroke-width="3.23" stroke-opacity="0.056"/>
<circle cx="187.7" cy="37.4" r="5.50" stroke-width="3.37" stroke-opacity="0.056"/>
<circle cx="252.7" cy="58.1" r="5.50" stroke-width="3.31" stroke-opacity="0.056"/>
<circle cx="320.5" cy="91.2" r="5.33" stroke-width="3.04" stroke-opacity="0.049"/>
<circle cx="418.9" cy="155.8" r="5.11" stroke-width="2.75" stroke-opacity="0.022"/>
<circle cx="204.8" cy="41.4" r="5.50" stroke-width="3.36" stroke-opacity="0.056"/>
<circle cx="272.5" cy="66.2" r="5.46" stroke-width="3.25" stroke-opacity="0.056"/>
<circle cx="169.0" cy="28.9" r="5.50" stroke-width="3.39" stroke-opacity="0.038"/>
<circle cx="329.5" cy="97.4" r="5.30" stroke-width="3.00" stroke-opacity="0.046"/>
<circle cx="225.8" cy="48.3" r="5.50" stroke-width="3.33" stroke-opacity="0.056"/>
<circle cx="326.4" cy="95.7" r="5.31" stroke-width="3.02" stroke-opacity="0.047"/>
<circle cx="416.9" cy="154.3" r="5.11" stroke-width="2.75" stroke-opacity="0.022"/>
<circle cx="448.6" cy="178.3" r="5.05" stroke-width="2.66" stroke-opacity="0.017"/>
<circle cx="463.2" cy="191.5" r="5.01" stroke-width="2.62" stroke-opacity="0.015"/>
<circle cx="418.5" cy="156.4" r="5.11" stroke-width="2.75" stroke-opacity="0.022"/>
<circle cx="297.6" cy="79.9" r="5.39" stroke-width="3.14" stroke-opacity="0.056"/>
<circle cx="411.3" cy="149.8" r="5.13" stroke-width="2.77" stroke-opacity="0.023"/>
<circle cx="222.0" cy="46.0" r="5.50" stroke-width="3.34" stroke-opacity="0.056"/>
<circle cx="188.4" cy="38.5" r="5.50" stroke-width="3.37" stroke-opacity="0.056"/>
<circle cx="234.7" cy="51.3" r="5.50" stroke-width="3.33" stroke-opacity="0.056"/>
<circle cx="346.8" cy="107.4" r="5.26" stroke-width="2.95" stroke-opacity="0.040"/>
<circle cx="205.9" cy="42.6" r="5.50" stroke-width="3.35" stroke-opacity="0.056"/>
<circle cx="235.9" cy="50.9" r="5.50" stroke-width="3.32" stroke-opacity="0.056"/>
<circle cx="396.3" cy="139.2" r="5.16" stroke-width="2.81" stroke-opacity="0.026"/>
<circle cx="340.8" cy="103.2" r="5.28" stroke-width="2.97" stroke-opacity="0.042"/>
<circle cx="188.2" cy="38.5" r="5.50" stroke-width="3.37" stroke-opacity="0.056"/>
<circle cx="222.7" cy="46.9" r="5.50" stroke-width="3.34" stroke-opacity="0.056"/>
<circle cx="334.3" cy="100.3" r="5.29" stroke-width="2.99" stroke-opacity="0.044"/>
<circle cx="249.0" cy="57.2" r="5.50" stroke-width="3.31" stroke-opacity="0.056"/>
<circle cx="371.8" cy="121.3" r="5.21" stroke-width="2.88" stroke-opacity="0.033"/>
<circle cx="232.9" cy="51.1" r="5.50" stroke-width="3.33" stroke-opacity="0.056"/>
<circle cx="266.5" cy="64.7" r="5.48" stroke-width="3.27" stroke-opacity="0.056"/>
<circle cx="349.3" cy="108.2" r="5.26" stroke-width="2.94" stroke-opacity="0.039"/>
<circle cx="299.8" cy="80.5" r="5.39" stroke-width="3.13" stroke-opacity="0.056"/>
<circle cx="227.5" cy="48.2" r="5.50" stroke-width="3.33" stroke-opacity="0.056"/>
<circle cx="235.2" cy="50.2" r="5.50" stroke-width="3.32" stroke-opacity="0.056"/>
<circle cx="394.2" cy="137.5" r="5.16" stroke-width="2.82" stroke-opacity="0.027"/>
<circle cx="186.7" cy="33.4" r="5.50" stroke-width="3.37" stroke-opacity="0.056"/>
<circle cx="406.0" cy="146.6" r="5.14" stroke-width="2.78" stroke-opacity="0.024"/>
<circle cx="412.2" cy="150.8" r="5.12" stroke-width="2.77" stroke-opacity="0.023"/>
<circle cx="368.4" cy="119.9" r="5.22" stroke-width="2.89" stroke-opacity="0.034"/>
<circle cx="186.9" cy="36.6" r="5.50" stroke-width="3.37" stroke-opacity="0.056"/>
<circle cx="424.9" cy="160.9" r="5.10" stroke-width="2.73" stroke-opacity="0.021"/>
<circle cx="349.3" cy="108.3" r="5.26" stroke-width="2.94" stroke-opacity="0.039"/>
<circle cx="360.1" cy="115.3" r="5.24" stroke-width="2.91" stroke-opacity="0.036"/>
<circle cx="329.2" cy="97.1" r="5.30" stroke-width="3.00" stroke-opacity="0.046"/>
<circle cx="328.9" cy="97.0" r="5.30" stroke-width="3.00" stroke-opacity="0.046"/>
<circle cx="216.3" cy="45.4" r="5.50" stroke-width="3.34" stroke-opacity="0.056"/>
<circle cx="460.1" cy="188.0" r="5.02" stroke-width="2.63" stroke-opacity="0.015"/>
<circle cx="207.0" cy="39.9" r="5.50" stroke-width="3.35" stroke-opacity="0.056"/>
<circle cx="220.7" cy="47.0" r="5.50" stroke-width="3.34" stroke-opacity="0.056"/>
<circle cx="407.7" cy="148.5" r="5.13" stroke-width="2.78" stroke-opacity="0.024"/>
<circle cx="207.2" cy="43.2" r="5.50" stroke-width="3.35" stroke-opacity="0.056"/>
<circle cx="444.8" cy="176.7" r="5.05" stroke-width="2.67" stroke-opacity="0.018"/>
<circle cx="442.5" cy="174.5" r="5.06" stroke-width="2.68" stroke-opacity="0.018"/>
<circle cx="207.8" cy="41.0" r="5.50" stroke-width="3.35" stroke-opacity="0.056"/>
<circle cx="401.7" cy="143.2" r="5.15" stroke-width="2.80" stroke-opacity="0.025"/>
<circle cx="467.0" cy="193.6" r="5.01" stroke-width="2.61" stroke-opacity="0.014"/>
<circle cx="267.8" cy="65.8" r="5.48" stroke-width="3.27" stroke-opacity="0.056"/>
<circle cx="209.3" cy="44.3" r="5.50" stroke-width="3.35" stroke-opacity="0.056"/>
<circle cx="419.0" cy="157.0" r="5.11" stroke-width="2.75" stroke-opacity="0.022"/>
<circle cx="209.3" cy="40.9" r="5.50" stroke-width="3.35" stroke-opacity="0.056"/>
<circle cx="308.6" cy="85.0" r="5.36" stroke-width="3.09" stroke-opacity="0.053"/>
<circle cx="240.9" cy="52.0" r="5.50" stroke-width="3.32" stroke-opacity="0.056"/>
<circle cx="211.2" cy="45.3" r="5.50" stroke-width="3.35" stroke-opacity="0.056"/>
<circle cx="331.0" cy="97.5" r="5.30" stroke-width="3.00" stroke-opacity="0.046"/>
<circle cx="448.8" cy="178.6" r="5.05" stroke-width="2.66" stroke-opacity="0.017"/>
<circle cx="228.8" cy="47.3" r="5.50" stroke-width="3.33" stroke-opacity="0.056"/>
<circle cx="433.2" cy="167.0" r="5.08" stroke-width="2.71" stroke-opacity="0.020"/>
<circle cx="426.1" cy="162.0" r="5.09" stroke-width="2.73" stroke-opacity="0.021"/>
<circle cx="264.3" cy="62.6" r="5.49" stroke-width="3.28" stroke-opacity="0.056"/>
<circle cx="184.2" cy="37.4" r="5.50" stroke-width="3.38" stroke-opacity="0.056"/>
<circle cx="299.0" cy="80.0" r="5.39" stroke-width="3.13" stroke-opacity="0.056"/>
<circle cx="381.5" cy="126.9" r="5.19" stroke-width="2.85" stroke-opacity="0.030"/>
<circle cx="360.5" cy="114.3" r="5.23" stroke-width="2.91" stroke-opacity="0.036"/>
<circle cx="193.9" cy="36.8" r="5.50" stroke-width="3.37" stroke-opacity="0.056"/>
<circle cx="396.7" cy="139.5" r="5.16" stroke-width="2.81" stroke-opacity="0.026"/>
<circle cx="416.3" cy="155.2" r="5.12" stroke-width="2.75" stroke-opacity="0.022"/>
<circle cx="359.8" cy="114.6" r="5.24" stroke-width="2.91" stroke-opacity="0.036"/>
<circle cx="356.4" cy="111.9" r="5.24" stroke-width="2.92" stroke-opacity="0.037"/>
<circle cx="204.5" cy="42.6" r="5.50" stroke-width="3.36" stroke-opacity="0.056"/>
<circle cx="292.8" cy="77.2" r="5.41" stroke-width="3.16" stroke-opacity="0.056"/>
<circle cx="416.6" cy="154.1" r="5.11" stroke-width="2.75" stroke-opacity="0.022"/>
<circle cx="231.5" cy="49.3" r="5.50" stroke-width="3.33" stroke-opacity="0.056"/>
<circle cx="397.0" cy="140.3" r="5.16" stroke-width="2.81" stroke-opacity="0.026"/>
<circle cx="220.6" cy="48.3" r="5.50" stroke-width="3.34" stroke-opacity="0.056"/>
<circle cx="311.4" cy="86.2" r="5.35" stroke-width="3.08" stroke-opacity="0.052"/>
<circle cx="267.5" cy="64.1" r="5.48" stroke-width="3.27" stroke-opacity="0.056"/>
<circle cx="297.7" cy="79.1" r="5.39" stroke-width="3.14" stroke-opacity="0.056"/>
<circle cx="290.0" cy="75.5" r="5.41" stroke-width="3.17" stroke-opacity="0.056"/>
<circle cx="223.0" cy="46.1" r="5.50" stroke-width="3.34" stroke-opacity="0.056"/>
<circle cx="338.4" cy="102.6" r="5.28" stroke-width="2.98" stroke-opacity="0.043"/>
<circle cx="395.0" cy="138.8" r="5.16" stroke-width="2.81" stroke-opacity="0.027"/>
<circle cx="262.9" cy="63.0" r="5.49" stroke-width="3.29" stroke-opacity="0.056"/>
<circle cx="396.7" cy="139.0" r="5.16" stroke-width="2.81" stroke-opacity="0.026"/>
<circle cx="307.7" cy="84.7" r="5.36" stroke-width="3.10" stroke-opacity="0.053"/>
<circle cx="164.5" cy="27.6" r="5.50" stroke-width="3.40" stroke-opacity="0.030"/>
<circle cx="358.5" cy="113.7" r="5.24" stroke-width="2.92" stroke-opacity="0.037"/>
<circle cx="262.5" cy="61.5" r="5.49" stroke-width="3.29" stroke-opacity="0.056"/>
<circle cx="268.4" cy="64.2" r="5.48" stroke-width="3.26" stroke-opacity="0.056"/>
<circle cx="254.0" cy="59.0" r="5.50" stroke-width="3.31" stroke-opacity="0.056"/>
<circle cx="359.3" cy="114.9" r="5.24" stroke-width="2.92" stroke-opacity="0.037"/>
<circle cx="296.7" cy="78.9" r="5.40" stroke-width="3.14" stroke-opacity="0.056"/>
<circle cx="330.5" cy="96.9" r="5.30" stroke-width="3.00" stroke-opacity="0.046"/>
<circle cx="173.5" cy="31.3" r="5.50" stroke-width="3.39" stroke-opacity="0.047"/>
<circle cx="301.1" cy="81.6" r="5.38" stroke-width="3.12" stroke-opacity="0.056"/>
<circle cx="218.7" cy="45.4" r="5.50" stroke-width="3.34" stroke-opacity="0.056"/>
<circle cx="238.8" cy="53.2" r="5.50" stroke-width="3.32" stroke-opacity="0.056"/>
<circle cx="261.9" cy="62.5" r="5.49" stroke-width="3.29" stroke-opacity="0.056"/>
<circle cx="396.5" cy="138.9" r="5.16" stroke-width="2.81" stroke-opacity="0.026"/>
<circle cx="202.9" cy="39.1" r="5.50" stroke-width="3.36" stroke-opacity="0.056"/>
<circle cx="455.9" cy="184.5" r="5.03" stroke-width="2.64" stroke-opacity="0.016"/>
<circle cx="437.0" cy="169.9" r="5.07" stroke-width="2.69" stroke-opacity="0.019"/>
<circle cx="392.1" cy="136.5" r="5.17" stroke-width="2.82" stroke-opacity="0.027"/>
<circle cx="410.4" cy="149.5" r="5.13" stroke-width="2.77" stroke-opacity="0.023"/>
<circle cx="323.1" cy="93.6" r="5.32" stroke-width="3.03" stroke-opacity="0.048"/>
<circle cx="212.6" cy="44.4" r="5.50" stroke-width="3.35" stroke-opacity="0.056"/>
<circle cx="221.4" cy="44.8" r="5.50" stroke-width="3.34" stroke-opacity="0.056"/>
<circle cx="424.1" cy="159.6" r="5.10" stroke-width="2.73" stroke-opacity="0.021"/>
<circle cx="449.3" cy="179.1" r="5.04" stroke-width="2.66" stroke-opacity="0.017"/>
<circle cx="233.3" cy="51.7" r="5.50" stroke-width="3.33" stroke-opacity="0.056"/>
<circle cx="237.5" cy="51.6" r="5.50" stroke-width="3.32" stroke-opacity="0.056"/>
<circle cx="303.3" cy="82.1" r="5.38" stroke-width="3.11" stroke-opacity="0.055"/>
<circle cx="293.0" cy="76.9" r="5.41" stroke-width="3.16" stroke-opacity="0.056"/>
<circle cx="386.9" cy="131.6" r="5.18" stroke-width="2.84" stroke-opacity="0.029"/>
<circle cx="399.7" cy="141.8" r="5.15" stroke-width="2.80" stroke-opacity="0.025"/>
<circle cx="188.4" cy="34.5" r="5.50" stroke-width="3.37" stroke-opacity="0.056"/>
<circle cx="269.6" cy="65.0" r="5.47" stroke-width="3.26" stroke-opacity="0.056"/>
<circle cx="376.5" cy="124.6" r="5.20" stroke-width="2.87" stroke-opacity="0.032"/>
<circle cx="307.5" cy="84.7" r="5.36" stroke-width="3.10" stroke-opacity="0.053"/>
<circle cx="448.4" cy="179.3" r="5.05" stroke-width="2.66" stroke-opacity="0.017"/>
<circle cx="278.8" cy="70.4" r="5.45" stroke-width="3.22" stroke-opacity="0.056"/>
<circle cx="402.2" cy="144.2" r="5.15" stroke-width="2.79" stroke-opacity="0.025"/>
<circle cx="369.2" cy="120.9" r="5.22" stroke-width="2.89" stroke-opacity="0.034"/>
<circle cx="449.2" cy="178.7" r="5.04" stroke-width="2.66" stroke-opacity="0.017"/>
<circle cx="470.4" cy="196.6" r="5.00" stroke-width="2.60" stroke-opacity="0.014"/>
<circle cx="356.0" cy="112.9" r="5.24" stroke-width="2.93" stroke-opacity="0.038"/>
<circle cx="441.7" cy="173.0" r="5.06" stroke-width="2.68" stroke-opacity="0.018"/>
<circle cx="181.4" cy="32.0" r="5.50" stroke-width="3.38" stroke-opacity="0.056"/>
<circle cx="168.2" cy="31.0" r="5.50" stroke-width="3.39" stroke-opacity="0.037"/>
<circle cx="262.3" cy="62.4" r="5.49" stroke-width="3.29" stroke-opacity="0.056"/>
<circle cx="263.1" cy="61.8" r="5.49" stroke-width="3.29" stroke-opacity="0.056"/>
<circle cx="361.3" cy="115.0" r="5.23" stroke-width="2.91" stroke-opacity="0.036"/>
<circle cx="169.0" cy="30.4" r="5.50" stroke-width="3.39" stroke-opacity="0.038"/>
<circle cx="460.0" cy="188.6" r="5.02" stroke-width="2.63" stroke-opacity="0.015"/>
<circle cx="239.5" cy="53.0" r="5.50" stroke-width="3.32" stroke-opacity="0.056"/>
<circle cx="190.6" cy="38.7" r="5.50" stroke-width="3.37" stroke-opacity="0.056"/>
<circle cx="325.7" cy="94.8" r="5.31" stroke-width="3.02" stroke-opacity="0.047"/>
<circle cx="422.4" cy="159.8" r="5.10" stroke-width="2.74" stroke-opacity="0.021"/>
<circle cx="399.3" cy="140.9" r="5.15" stroke-width="2.80" stroke-opacity="0.025"/>
<circle cx="389.8" cy="133.9" r="5.17" stroke-width="2.83" stroke-opacity="0.028"/>
<circle cx="346.9" cy="106.9" r="5.26" stroke-width="2.95" stroke-opacity="0.040"/>
<circle cx="440.2" cy="171.8" r="5.06" stroke-width="2.69" stroke-opacity="0.018"/>
<circle cx="449.9" cy="179.4" r="5.04" stroke-width="2.66" stroke-opacity="0.017"/>
<circle cx="167.5" cy="30.0" r="5.50" stroke-width="3.39" stroke-opacity="0.035"/>
<circle cx="385.1" cy="130.3" r="5.18" stroke-width="2.84" stroke-opacity="0.029"/>
<circle cx="231.7" cy="50.7" r="5.50" stroke-width="3.33" stroke-opacity="0.056"/>
<circle cx="318.6" cy="90.6" r="5.33" stroke-width="3.05" stroke-opacity="0.050"/>
<circle cx="337.5" cy="101.2" r="5.28" stroke-width="2.98" stroke-opacity="0.043"/>
<circle cx="213.4" cy="44.5" r="5.50" stroke-width="3.35" stroke-opacity="0.056"/>
<circle cx="303.8" cy="82.9" r="5.37" stroke-width="3.11" stroke-opacity="0.055"/>
<circle cx="283.0" cy="71.6" r="5.43" stroke-width="3.20" stroke-opacity="0.056"/>
<circle cx="332.6" cy="98.6" r="5.29" stroke-width="2.99" stroke-opacity="0.045"/>
<circle cx="348.6" cy="108.5" r="5.26" stroke-width="2.95" stroke-opacity="0.040"/>
<circle cx="353.6" cy="111.5" r="5.25" stroke-width="2.93" stroke-opacity="0.038"/>
<circle cx="321.2" cy="92.4" r="5.33" stroke-width="3.04" stroke-opacity="0.049"/>
<circle cx="303.9" cy="83.2" r="5.37" stroke-width="3.11" stroke-opacity="0.055"/>
<circle cx="319.8" cy="90.5" r="5.33" stroke-width="3.04" stroke-opacity="0.049"/>
<circle cx="468.6" cy="195.8" r="5.00" stroke-width="2.60" stroke-opacity="0.014"/>
<circle cx="179.9" cy="31.8" r="5.50" stroke-width="3.38" stroke-opacity="0.056"/>
<circle cx="452.7" cy="182.1" r="5.04" stroke-width="2.65" stroke-opacity="0.016"/>
<circle cx="375.1" cy="123.4" r="5.20" stroke-width="2.87" stroke-opacity="0.032"/>
<circle cx="394.6" cy="137.3" r="5.16" stroke-width="2.82" stroke-opacity="0.027"/>
<circle cx="337.6" cy="102.2" r="5.28" stroke-width="2.98" stroke-opacity="0.043"/>
<circle cx="168.5" cy="28.5" r="5.50" stroke-width="3.39" stroke-opacity="0.037"/>
<circle cx="303.0" cy="83.0" r="5.38" stroke-width="3.12" stroke-opacity="0.055"/>
<circle cx="180.1" cy="36.2" r="5.50" stroke-width="3.38" stroke-opacity="0.056"/>
<circle cx="242.1" cy="52.3" r="5.50" stroke-width="3.32" stroke-opacity="0.056"/>
<circle cx="168.6" cy="31.8" r="5.50" stroke-width="3.39" stroke-opacity="0.038"/>
<circle cx="377.5" cy="125.6" r="5.20" stroke-width="2.86" stroke-opacity="0.031"/>
<circle cx="218.4" cy="45.6" r="5.50" stroke-width="3.34" stroke-opacity="0.056"/>
<circle cx="186.6" cy="33.7" r="5.50" stroke-width="3.37" stroke-opacity="0.056"/>
<circle cx="323.2" cy="93.5" r="5.32" stroke-width="3.03" stroke-opacity="0.048"/>
<circle cx="263.5" cy="62.0" r="5.49" stroke-width="3.28" stroke-opacity="0.056"/>
<circle cx="418.1" cy="156.6" r="5.11" stroke-width="2.75" stroke-opacity="0.022"/>
<circle cx="164.4" cy="28.0" r="5.50" stroke-width="3.40" stroke-opacity="0.029"/>
<circle cx="359.4" cy="115.2" r="5.24" stroke-width="2.92" stroke-opacity="0.037"/>
<circle cx="323.6" cy="93.5" r="5.32" stroke-width="3.03" stroke-opacity="0.048"/>
<circle cx="203.3" cy="41.1" r="5.50" stroke-width="3.36" stroke-opacity="0.056"/>
<circle cx="194.2" cy="40.6" r="5.50" stroke-width="3.37" stroke-opacity="0.056"/>
<circle cx="459.0" cy="187.0" r="5.02" stroke-width="2.63" stroke-opacity="0.015"/>
<circle cx="189.9" cy="39.4" r="5.50" stroke-width="3.37" stroke-opacity="0.056"/>
<circle cx="233.4" cy="49.5" r="5.50" stroke-width="3.33" stroke-opacity="0.056"/>
<circle cx="364.6" cy="117.9" r="5.23" stroke-width="2.90" stroke-opacity="0.035"/>
<circle cx="426.1" cy="162.3" r="5.09" stroke-width="2.73" stroke-opacity="0.021"/>
<circle cx="448.1" cy="178.2" r="5.05" stroke-width="2.66" stroke-opacity="0.017"/>
<circle cx="317.4" cy="90.6" r="5.34" stroke-width="3.05" stroke-opacity="0.050"/>
<circle cx="453.9" cy="183.9" r="5.03" stroke-width="2.65" stroke-opacity="0.016"/>
<circle cx="234.4" cy="52.3" r="5.50" stroke-width="3.33" stroke-opacity="0.056"/>
<circle cx="165.8" cy="27.1" r="5.50" stroke-width="3.39" stroke-opacity="0.032"/>
<circle cx="168.6" cy="29.4" r="5.50" stroke-width="3.39" stroke-opacity="0.038"/>
<circle cx="175.7" cy="30.8" r="5.50" stroke-width="3.38" stroke-opacity="0.051"/>
<circle cx="408.0" cy="147.9" r="5.13" stroke-width="2.78" stroke-opacity="0.024"/>
<circle cx="232.2" cy="51.7" r="5.50" stroke-width="3.33" stroke-opacity="0.056"/>
<circle cx="418.3" cy="155.4" r="5.11" stroke-width="2.75" stroke-opacity="0.022"/>
<circle cx="349.5" cy="108.9" r="5.26" stroke-width="2.94" stroke-opacity="0.039"/>
<circle cx="426.4" cy="162.8" r="5.09" stroke-width="2.72" stroke-opacity="0.021"/>
<circle cx="254.5" cy="58.3" r="5.50" stroke-width="3.31" stroke-opacity="0.056"/>
<circle cx="457.7" cy="186.1" r="5.03" stroke-width="2.64" stroke-opacity="0.016"/>
<circle cx="423.4" cy="160.3" r="5.10" stroke-width="2.73" stroke-opacity="0.021"/>
<circle cx="311.8" cy="87.7" r="5.35" stroke-width="3.08" stroke-opacity="0.052"/>
<circle cx="352.7" cy="110.4" r="5.25" stroke-width="2.94" stroke-opacity="0.038"/>
<circle cx="388.1" cy="132.1" r="5.18" stroke-width="2.83" stroke-opacity="0.029"/>
<circle cx="334.0" cy="98.9" r="5.29" stroke-width="2.99" stroke-opacity="0.045"/>
<circle cx="217.0" cy="46.9" r="5.50" stroke-width="3.34" stroke-opacity="0.056"/>
<circle cx="235.5" cy="50.5" r="5.50" stroke-width="3.32" stroke-opacity="0.056"/>
<circle cx="407.9" cy="148.7" r="5.13" stroke-width="2.78" stroke-opacity="0.024"/>
<circle cx="449.2" cy="180.1" r="5.04" stroke-width="2.66" stroke-opacity="0.017"/>
<circle cx="200.8" cy="39.8" r="5.50" stroke-width="3.36" stroke-opacity="0.056"/>
<circle cx="469.7" cy="196.5" r="5.00" stroke-width="2.60" stroke-opacity="0.014"/>
<circle cx="315.4" cy="89.0" r="5.34" stroke-width="3.06" stroke-opacity="0.051"/>
<circle cx="465.8" cy="193.2" r="5.01" stroke-width="2.61" stroke-opacity="0.014"/>
<circle cx="456.6" cy="185.1" r="5.03" stroke-width="2.64" stroke-opacity="0.016"/>
<circle cx="322.2" cy="91.9" r="5.32" stroke-width="3.03" stroke-opacity="0.049"/>
<circle cx="391.9" cy="135.4" r="5.17" stroke-width="2.82" stroke-opacity="0.027"/>
<circle cx="325.9" cy="94.3" r="5.31" stroke-width="3.02" stroke-opacity="0.047"/>
<circle cx="200.7" cy="42.3" r="5.50" stroke-width="3.36" stroke-opacity="0.056"/>
<circle cx="451.8" cy="180.9" r="5.04" stroke-width="2.65" stroke-opacity="0.017"/>
<circle cx="178.8" cy="33.2" r="5.50" stroke-width="3.38" stroke-opacity="0.056"/>
<circle cx="419.9" cy="157.9" r="5.11" stroke-width="2.74" stroke-opacity="0.022"/>
<circle cx="395.0" cy="138.8" r="5.16" stroke-width="2.81" stroke-opacity="0.027"/>
<circle cx="430.7" cy="165.4" r="5.08" stroke-width="2.71" stroke-opacity="0.020"/>
<circle cx="469.5" cy="195.7" r="5.00" stroke-width="2.60" stroke-opacity="0.014"/>
<circle cx="436.6" cy="169.6" r="5.07" stroke-width="2.70" stroke-opacity="0.019"/>
<circle cx="365.6" cy="118.8" r="5.22" stroke-width="2.90" stroke-opacity="0.035"/>
<circle cx="467.9" cy="195.4" r="5.00" stroke-width="2.61" stroke-opacity="0.014"/>
<circle cx="398.7" cy="140.4" r="5.15" stroke-width="2.80" stroke-opacity="0.026"/>
<circle cx="293.9" cy="77.4" r="5.40" stroke-width="3.15" stroke-opacity="0.056"/>
<circle cx="278.8" cy="69.5" r="5.45" stroke-width="3.22" stroke-opacity="0.056"/>
<circle cx="443.9" cy="174.4" r="5.06" stroke-width="2.67" stroke-opacity="0.018"/>
<circle cx="386.2" cy="131.4" r="5.18" stroke-width="2.84" stroke-opacity="0.029"/>
<circle cx="237.6" cy="50.4" r="5.50" stroke-width="3.32" stroke-opacity="0.056"/>
<circle cx="214.6" cy="46.4" r="5.50" stroke-width="3.35" stroke-opacity="0.056"/>
<circle cx="285.1" cy="73.1" r="5.43" stroke-width="3.19" stroke-opacity="0.056"/>
<circle cx="312.6" cy="87.8" r="5.35" stroke-width="3.07" stroke-opacity="0.052"/>
<circle cx="291.2" cy="75.6" r="5.41" stroke-width="3.17" stroke-opacity="0.056"/>
<circle cx="268.4" cy="64.3" r="5.48" stroke-width="3.26" stroke-opacity="0.056"/>
<circle cx="245.3" cy="55.0" r="5.50" stroke-width="3.31" stroke-opacity="0.056"/>
<circle cx="426.5" cy="161.8" r="5.09" stroke-width="2.72" stroke-opacity="0.021"/>
<circle cx="312.3" cy="87.1" r="5.35" stroke-width="3.08" stroke-opacity="0.052"/>
<circle cx="449.6" cy="180.4" r="5.04" stroke-width="2.66" stroke-opacity="0.017"/>
<circle cx="338.4" cy="102.5" r="5.28" stroke-width="2.98" stroke-opacity="0.043"/>
<circle cx="390.5" cy="135.0" r="5.17" stroke-width="2.83" stroke-opacity="0.028"/>
<circle cx="405.8" cy="146.0" r="5.14" stroke-width="2.78" stroke-opacity="0.024"/>
<circle cx="337.3" cy="102.1" r="5.28" stroke-width="2.98" stroke-opacity="0.043"/>
<circle cx="352.8" cy="110.9" r="5.25" stroke-width="2.93" stroke-opacity="0.038"/>
<circle cx="207.5" cy="40.3" r="5.50" stroke-width="3.35" stroke-opacity="0.056"/>
<circle cx="354.7" cy="112.4" r="5.25" stroke-width="2.93" stroke-opacity="0.038"/>
<circle cx="439.1" cy="171.4" r="5.07" stroke-width="2.69" stroke-opacity="0.019"/>
<circle cx="307.3" cy="85.3" r="5.36" stroke-width="3.10" stroke-opacity="0.054"/>
<circle cx="365.2" cy="117.4" r="5.22" stroke-width="2.90" stroke-opacity="0.035"/>
<circle cx="209.4" cy="40.6" r="5.50" stroke-width="3.35" stroke-opacity="0.056"/>
<circle cx="205.1" cy="41.9" r="5.50" stroke-width="3.35" stroke-opacity="0.056"/>
<circle cx="467.2" cy="194.7" r="5.01" stroke-width="2.61" stroke-opacity="0.014"/>
<circle cx="235.2" cy="49.5" r="5.50" stroke-width="3.32" stroke-opacity="0.056"/>
<circle cx="421.5" cy="159.2" r="5.10" stroke-width="2.74" stroke-opacity="0.022"/>
<circle cx="418.3" cy="156.6" r="5.11" stroke-width="2.75" stroke-opacity="0.022"/>
<circle cx="229.7" cy="50.8" r="5.50" stroke-width="3.33" stroke-opacity="0.056"/>
<circle cx="357.2" cy="113.4" r="5.24" stroke-width="2.92" stroke-opacity="0.037"/>
<circle cx="292.8" cy="77.0" r="5.41" stroke-width="3.16" stroke-opacity="0.056"/>
<circle cx="294.9" cy="78.4" r="5.40" stroke-width="3.15" stroke-opacity="0.056"/>
<circle cx="399.8" cy="141.9" r="5.15" stroke-width="2.80" stroke-opacity="0.025"/>
<circle cx="304.9" cy="83.2" r="5.37" stroke-width="3.11" stroke-opacity="0.054"/>
<circle cx="212.2" cy="42.4" r="5.50" stroke-width="3.35" stroke-opacity="0.056"/>
<circle cx="305.9" cy="84.3" r="5.37" stroke-width="3.10" stroke-opacity="0.054"/>
<circle cx="465.6" cy="193.5" r="5.01" stroke-width="2.61" stroke-opacity="0.014"/>
<circle cx="300.6" cy="81.0" r="5.38" stroke-width="3.13" stroke-opacity="0.056"/>
<circle cx="426.1" cy="162.2" r="5.09" stroke-width="2.73" stroke-opacity="0.021"/>
<circle cx="423.5" cy="160.6" r="5.10" stroke-width="2.73" stroke-opacity="0.021"/>
<circle cx="264.1" cy="62.8" r="5.49" stroke-width="3.28" stroke-opacity="0.056"/>
<circle cx="414.6" cy="153.5" r="5.12" stroke-width="2.76" stroke-opacity="0.023"/>
<circle cx="307.9" cy="85.3" r="5.36" stroke-width="3.09" stroke-opacity="0.053"/>
<circle cx="377.1" cy="124.5" r="5.20" stroke-width="2.87" stroke-opacity="0.032"/>
<circle cx="177.3" cy="32.8" r="5.50" stroke-width="3.38" stroke-opacity="0.055"/>
<circle cx="307.4" cy="85.3" r="5.36" stroke-width="3.10" stroke-opacity="0.054"/>
<circle cx="191.6" cy="37.6" r="5.50" stroke-width="3.37" stroke-opacity="0.056"/>
<circle cx="245.4" cy="53.8" r="5.50" stroke-width="3.31" stroke-opacity="0.056"/>
<circle cx="275.5" cy="67.8" r="5.46" stroke-width="3.23" stroke-opacity="0.056"/>
<circle cx="415.6" cy="154.3" r="5.12" stroke-width="2.76" stroke-opacity="0.023"/>
<circle cx="177.6" cy="32.6" r="5.50" stroke-width="3.38" stroke-opacity="0.055"/>
<circle cx="393.6" cy="137.6" r="5.16" stroke-width="2.82" stroke-opacity="0.027"/>
<circle cx="426.8" cy="162.8" r="5.09" stroke-width="2.72" stroke-opacity="0.021"/>
<circle cx="322.2" cy="92.0" r="5.32" stroke-width="3.03" stroke-opacity="0.049"/>
<circle cx="455.1" cy="184.2" r="5.03" stroke-width="2.64" stroke-opacity="0.016"/>
<circle cx="303.2" cy="82.4" r="5.38" stroke-width="3.11" stroke-opacity="0.055"/>
<circle cx="411.1" cy="150.9" r="5.13" stroke-width="2.77" stroke-opacity="0.023"/>
<circle cx="165.0" cy="29.3" r="5.50" stroke-width="3.40" stroke-opacity="0.030"/>
<circle cx="364.4" cy="117.2" r="5.23" stroke-width="2.90" stroke-opacity="0.035"/>
<circle cx="344.1" cy="105.1" r="5.27" stroke-width="2.96" stroke-opacity="0.041"/>
<circle cx="261.0" cy="60.8" r="5.50" stroke-width="3.30" stroke-opacity="0.056"/>
<circle cx="167.9" cy="28.6" r="5.50" stroke-width="3.39" stroke-opacity="0.036"/>
<circle cx="314.7" cy="88.3" r="5.34" stroke-width="3.07" stroke-opacity="0.051"/>
<circle cx="262.2" cy="63.2" r="5.49" stroke-width="3.29" stroke-opacity="0.056"/>
<circle cx="176.0" cy="30.5" r="5.50" stroke-width="3.38" stroke-opacity="0.052"/>
<circle cx="232.7" cy="50.4" r="5.50" stroke-width="3.33" stroke-opacity="0.056"/>
<circle cx="229.2" cy="50.1" r="5.50" stroke-width="3.33" stroke-opacity="0.056"/>
<circle cx="161.0" cy="26.8" r="5.50" stroke-width="3.40" stroke-opacity="0.023"/>
<circle cx="233.0" cy="50.1" r="5.50" stroke-width="3.33" stroke-opacity="0.056"/>
<circle cx="278.9" cy="70.0" r="5.45" stroke-width="3.22" stroke-opacity="0.056"/>
<circle cx="278.8" cy="69.7" r="5.45" stroke-width="3.22" stroke-opacity="0.056"/>
<circle cx="356.6" cy="112.4" r="5.24" stroke-width="2.92" stroke-opacity="0.037"/>
<circle cx="276.6" cy="69.1" r="5.45" stroke-width="3.23" stroke-opacity="0.056"/>
<circle cx="462.2" cy="191.0" r="5.02" stroke-width="2.62" stroke-opacity="0.015"/>
<circle cx="298.6" cy="80.3" r="5.39" stroke-width="3.13" stroke-opacity="0.056"/>
<circle cx="356.6" cy="113.5" r="5.24" stroke-width="2.92" stroke-opacity="0.037"/>
<circle cx="232.3" cy="48.9" r="5.50" stroke-width="3.33" stroke-opacity="0.056"/>
<circle cx="442.7" cy="174.6" r="5.06" stroke-width="2.68" stroke-opacity="0.018"/>
<circle cx="229.3" cy="49.0" r="5.50" stroke-width="3.33" stroke-opacity="0.056"/>
<circle cx="279.9" cy="70.5" r="5.44" stroke-width="3.21" stroke-opacity="0.056"/>
<circle cx="232.6" cy="51.8" r="5.50" stroke-width="3.33" stroke-opacity="0.056"/>
<circle cx="455.1" cy="184.0" r="5.03" stroke-width="2.64" stroke-opacity="0.016"/>
<circle cx="191.3" cy="39.5" r="5.50" stroke-width="3.37" stroke-opacity="0.056"/>
<circle cx="335.7" cy="100.5" r="5.29" stroke-width="2.98" stroke-opacity="0.044"/>
<circle cx="229.9" cy="50.7" r="5.50" stroke-width="3.33" stroke-opacity="0.056"/>
<circle cx="205.5" cy="43.6" r="5.50" stroke-width="3.35" stroke-opacity="0.056"/>
<circle cx="218.0" cy="45.6" r="5.50" stroke-width="3.34" stroke-opacity="0.056"/>
<circle cx="233.3" cy="49.2" r="5.50" stroke-width="3.33" stroke-opacity="0.056"/>
<circle cx="213.4" cy="43.2" r="5.50" stroke-width="3.35" stroke-opacity="0.056"/>
<circle cx="389.5" cy="134.0" r="5.17" stroke-width="2.83" stroke-opacity="0.028"/>
<circle cx="286.5" cy="73.2" r="5.42" stroke-width="3.19" stroke-opacity="0.056"/>
<circle cx="302.8" cy="81.6" r="5.38" stroke-width="3.12" stroke-opacity="0.055"/>
<circle cx="367.1" cy="119.7" r="5.22" stroke-width="2.89" stroke-opacity="0.034"/>
<circle cx="260.1" cy="60.8" r="5.50" stroke-width="3.30" stroke-opacity="0.056"/>
<circle cx="419.2" cy="156.3" r="5.11" stroke-width="2.75" stroke-opacity="0.022"/>
<circle cx="221.0" cy="48.1" r="5.50" stroke-width="3.34" stroke-opacity="0.056"/>
<circle cx="402.2" cy="144.3" r="5.15" stroke-width="2.79" stroke-opacity="0.025"/>
<circle cx="261.0" cy="62.8" r="5.50" stroke-width="3.30" stroke-opacity="0.056"/>
<circle cx="468.2" cy="195.3" r="5.00" stroke-width="2.61" stroke-opacity="0.014"/>
<circle cx="431.1" cy="165.5" r="5.08" stroke-width="2.71" stroke-opacity="0.020"/>
<circle cx="216.4" cy="43.0" r="5.50" stroke-width="3.34" stroke-opacity="0.056"/>
<circle cx="273.3" cy="66.9" r="5.46" stroke-width="3.24" stroke-opacity="0.056"/>
<circle cx="314.6" cy="88.6" r="5.34" stroke-width="3.07" stroke-opacity="0.051"/>
<circle cx="218.3" cy="45.7" r="5.50" stroke-width="3.34" stroke-opacity="0.056"/>
<circle cx="259.7" cy="61.6" r="5.50" stroke-width="3.30" stroke-opacity="0.056"/>
<circle cx="222.7" cy="49.0" r="5.50" stroke-width="3.34" stroke-opacity="0.056"/>
<circle cx="407.7" cy="148.2" r="5.13" stroke-width="2.78" stroke-opacity="0.024"/>
<circle cx="425.3" cy="160.8" r="5.10" stroke-width="2.73" stroke-opacity="0.021"/>
<circle cx="420.1" cy="158.1" r="5.11" stroke-width="2.74" stroke-opacity="0.022"/>
<circle cx="426.5" cy="162.4" r="5.09" stroke-width="2.72" stroke-opacity="0.021"/>
<circle cx="227.2" cy="49.5" r="5.50" stroke-width="3.33" stroke-opacity="0.056"/>
<circle cx="289.1" cy="74.8" r="5.42" stroke-width="3.18" stroke-opacity="0.056"/>
<circle cx="221.8" cy="47.5" r="5.50" stroke-width="3.34" stroke-opacity="0.056"/>
<circle cx="307.6" cy="84.1" r="5.36" stroke-width="3.10" stroke-opacity="0.053"/>
<circle cx="411.3" cy="149.8" r="5.13" stroke-width="2.77" stroke-opacity="0.023"/>
<circle cx="348.1" cy="107.3" r="5.26" stroke-width="2.95" stroke-opacity="0.040"/>
<circle cx="350.5" cy="109.9" r="5.26" stroke-width="2.94" stroke-opacity="0.039"/>
<circle cx="269.2" cy="65.4" r="5.47" stroke-width="3.26" stroke-opacity="0.056"/>
<circle cx="204.7" cy="41.6" r="5.50" stroke-width="3.36" stroke-opacity="0.056"/>
<circle cx="284.5" cy="73.3" r="5.43" stroke-width="3.19" stroke-opacity="0.056"/>
<circle cx="375.7" cy="124.0" r="5.20" stroke-width="2.87" stroke-opacity="0.032"/>
<circle cx="442.5" cy="173.8" r="5.06" stroke-width="2.68" stroke-opacity="0.018"/>
<circle cx="316.4" cy="89.7" r="5.34" stroke-width="3.06" stroke-opacity="0.051"/>
<circle cx="289.9" cy="76.0" r="5.41" stroke-width="3.17" stroke-opacity="0.056"/>
<circle cx="466.3" cy="193.5" r="5.01" stroke-width="2.61" stroke-opacity="0.014"/>
<circle cx="366.5" cy="118.4" r="5.22" stroke-width="2.90" stroke-opacity="0.035"/>
<circle cx="448.4" cy="178.3" r="5.05" stroke-width="2.66" stroke-opacity="0.017"/>
<circle cx="313.4" cy="88.1" r="5.35" stroke-width="3.07" stroke-opacity="0.052"/>
<circle cx="168.3" cy="29.2" r="5.50" stroke-width="3.39" stroke-opacity="0.037"/>
<circle cx="180.3" cy="33.2" r="5.50" stroke-width="3.38" stroke-opacity="0.056"/>
<circle cx="340.0" cy="103.1" r="5.28" stroke-width="2.97" stroke-opacity="0.043"/>
<circle cx="397.7" cy="139.9" r="5.15" stroke-width="2.81" stroke-opacity="0.026"/>
<circle cx="193.4" cy="39.4" r="5.50" stroke-width="3.37" stroke-opacity="0.056"/>
<circle cx="301.3" cy="82.1" r="5.38" stroke-width="3.12" stroke-opacity="0.056"/>
<circle cx="212.5" cy="41.8" r="5.50" stroke-width="3.35" stroke-opacity="0.056"/>
<circle cx="388.2" cy="132.8" r="5.18" stroke-width="2.83" stroke-opacity="0.028"/>
<circle cx="301.0" cy="81.6" r="5.38" stroke-width="3.12" stroke-opacity="0.056"/>
<circle cx="368.0" cy="119.9" r="5.22" stroke-width="2.89" stroke-opacity="0.034"/>
<circle cx="337.5" cy="101.4" r="5.28" stroke-width="2.98" stroke-opacity="0.043"/>
<circle cx="224.1" cy="47.3" r="5.50" stroke-width="3.34" stroke-opacity="0.056"/>
<circle cx="373.4" cy="122.0" r="5.21" stroke-width="2.88" stroke-opacity="0.033"/>
<circle cx="404.1" cy="145.3" r="5.14" stroke-width="2.79" stroke-opacity="0.025"/>
<circle cx="321.2" cy="91.6" r="5.33" stroke-width="3.04" stroke-opacity="0.049"/>
<circle cx="322.6" cy="92.5" r="5.32" stroke-width="3.03" stroke-opacity="0.048"/>
<circle cx="298.1" cy="80.2" r="5.39" stroke-width="3.14" stroke-opacity="0.056"/>
<circle cx="269.4" cy="66.3" r="5.47" stroke-width="3.26" stroke-opacity="0.056"/>
<circle cx="450.3" cy="181.1" r="5.04" stroke-width="2.66" stroke-opacity="0.017"/>
<circle cx="252.5" cy="56.9" r="5.50" stroke-width="3.31" stroke-opacity="0.056"/>
<circle cx="362.5" cy="116.5" r="5.23" stroke-width="2.91" stroke-opacity="0.036"/>
<circle cx="456.2" cy="185.8" r="5.03" stroke-width="2.64" stroke-opacity="0.016"/>
<circle cx="197.3" cy="37.1" r="5.50" stroke-width="3.36" stroke-opacity="0.056"/>
<circle cx="176.7" cy="32.0" r="5.50" stroke-width="3.38" stroke-opacity="0.053"/>
<circle cx="201.6" cy="40.2" r="5.50" stroke-width="3.36" stroke-opacity="0.056"/>
<circle cx="211.6" cy="45.6" r="5.50" stroke-width="3.35" stroke-opacity="0.056"/>
<circle cx="335.0" cy="100.4" r="5.29" stroke-width="2.99" stroke-opacity="0.044"/>
<circle cx="421.1" cy="158.9" r="5.10" stroke-width="2.74" stroke-opacity="0.022"/>
<circle cx="274.7" cy="67.6" r="5.46" stroke-width="3.24" stroke-opacity="0.056"/>
<circle cx="372.6" cy="121.8" r="5.21" stroke-width="2.88" stroke-opacity="0.033"/>
<circle cx="364.3" cy="116.7" r="5.23" stroke-width="2.90" stroke-opacity="0.035"/>
<circle cx="270.3" cy="66.3" r="5.47" stroke-width="3.26" stroke-opacity="0.056"/>
<circle cx="379.9" cy="126.9" r="5.19" stroke-width="2.86" stroke-opacity="0.031"/>
<circle cx="183.3" cy="32.8" r="5.50" stroke-width="3.38" stroke-opacity="0.056"/>
<circle cx="460.7" cy="189.4" r="5.02" stroke-width="2.63" stroke-opacity="0.015"/>
<circle cx="190.2" cy="39.3" r="5.50" stroke-width="3.37" stroke-opacity="0.056"/>
<circle cx="298.1" cy="79.5" r="5.39" stroke-width="3.14" stroke-opacity="0.056"/>
<circle cx="198.4" cy="37.4" r="5.50" stroke-width="3.36" stroke-opacity="0.056"/>
<circle cx="458.6" cy="187.2" r="5.02" stroke-width="2.63" stroke-opacity="0.016"/>
<circle cx="420.2" cy="157.5" r="5.11" stroke-width="2.74" stroke-opacity="0.022"/>
<circle cx="426.0" cy="161.8" r="5.09" stroke-width="2.73" stroke-opacity="0.021"/>
<circle cx="438.9" cy="170.8" r="5.07" stroke-width="2.69" stroke-opacity="0.019"/>
<circle cx="430.4" cy="164.6" r="5.08" stroke-width="2.71" stroke-opacity="0.020"/>
<circle cx="439.1" cy="171.0" r="5.07" stroke-width="2.69" stroke-opacity="0.019"/>
<circle cx="301.2" cy="81.3" r="5.38" stroke-width="3.12" stroke-opacity="0.056"/>
<circle cx="275.1" cy="67.8" r="5.46" stroke-width="3.24" stroke-opacity="0.056"/>
<circle cx="229.6" cy="48.6" r="5.50" stroke-width="3.33" stroke-opacity="0.056"/>
<circle cx="331.3" cy="98.3" r="5.30" stroke-width="3.00" stroke-opacity="0.045"/>
<circle cx="386.4" cy="131.7" r="5.18" stroke-width="2.84" stroke-opacity="0.029"/>
<circle cx="279.1" cy="69.7" r="5.45" stroke-width="3.22" stroke-opacity="0.056"/>
<circle cx="226.7" cy="48.1" r="5.50" stroke-width="3.33" stroke-opacity="0.056"/>
<circle cx="459.2" cy="187.3" r="5.02" stroke-width="2.63" stroke-opacity="0.015"/>
<circle cx="212.7" cy="45.0" r="5.50" stroke-width="3.35" stroke-opacity="0.056"/>
<circle cx="160.0" cy="25.8" r="5.50" stroke-width="3.40" stroke-opacity="0.021"/>
<circle cx="252.2" cy="57.5" r="5.50" stroke-width="3.31" stroke-opacity="0.056"/>
<circle cx="358.0" cy="113.8" r="5.24" stroke-width="2.92" stroke-opacity="0.037"/>
<circle cx="198.7" cy="39.3" r="5.50" stroke-width="3.36" stroke-opacity="0.056"/>
<circle cx="192.8" cy="35.2" r="5.50" stroke-width="3.37" stroke-opacity="0.056"/>
<circle cx="305.1" cy="84.0" r="5.37" stroke-width="3.11" stroke-opacity="0.054"/>
<circle cx="399.7" cy="142.0" r="5.15" stroke-width="2.80" stroke-opacity="0.025"/>
<circle cx="183.1" cy="35.0" r="5.50" stroke-width="3.38" stroke-opacity="0.056"/>
<circle cx="254.9" cy="59.1" r="5.50" stroke-width="3.31" stroke-opacity="0.056"/>
<circle cx="398.4" cy="140.1" r="5.15" stroke-width="2.80" stroke-opacity="0.026"/>
<circle cx="376.3" cy="123.5" r="5.20" stroke-width="2.87" stroke-opacity="0.032"/>
<circle cx="200.4" cy="39.7" r="5.50" stroke-width="3.36" stroke-opacity="0.056"/>
<circle cx="386.7" cy="132.1" r="5.18" stroke-width="2.84" stroke-opacity="0.029"/>
<circle cx="220.6" cy="47.2" r="5.50" stroke-width="3.34" stroke-opacity="0.056"/>
<circle cx="429.8" cy="164.8" r="5.09" stroke-width="2.71" stroke-opacity="0.020"/>
<circle cx="345.4" cy="106.6" r="5.27" stroke-width="2.96" stroke-opacity="0.041"/>
<circle cx="353.8" cy="111.3" r="5.25" stroke-width="2.93" stroke-opacity="0.038"/>
<circle cx="359.2" cy="114.6" r="5.24" stroke-width="2.92" stroke-opacity="0.037"/>
<circle cx="360.8" cy="114.6" r="5.23" stroke-width="2.91" stroke-opacity="0.036"/>
<circle cx="277.9" cy="69.5" r="5.45" stroke-width="3.22" stroke-opacity="0.056"/>
<circle cx="464.4" cy="192.0" r="5.01" stroke-width="2.62" stroke-opacity="0.015"/>
<circle cx="168.9" cy="28.2" r="5.50" stroke-width="3.39" stroke-opacity="0.038"/>
<circle cx="469.3" cy="196.6" r="5.00" stroke-width="2.60" stroke-opacity="0.014"/>
<circle cx="346.5" cy="106.3" r="5.26" stroke-width="2.95" stroke-opacity="0.040"/>
<circle cx="191.6" cy="39.2" r="5.50" stroke-width="3.37" stroke-opacity="0.056"/>
<circle cx="352.3" cy="111.0" r="5.25" stroke-width="2.94" stroke-opacity="0.039"/>
<circle cx="242.5" cy="54.8" r="5.50" stroke-width="3.32" stroke-opacity="0.056"/>
<circle cx="387.0" cy="131.7" r="5.18" stroke-width="2.84" stroke-opacity="0.029"/>
<circle cx="407.8" cy="147.3" r="5.13" stroke-width="2.78" stroke-opacity="0.024"/>
<circle cx="463.6" cy="190.9" r="5.01" stroke-width="2.62" stroke-opacity="0.015"/>
<circle cx="314.7" cy="88.8" r="5.34" stroke-width="3.07" stroke-opacity="0.051"/>
<circle cx="221.2" cy="48.0" r="5.50" stroke-width="3.34" stroke-opacity="0.056"/>
<circle cx="287.3" cy="74.2" r="5.42" stroke-width="3.18" stroke-opacity="0.056"/>
<circle cx="224.2" cy="48.1" r="5.50" stroke-width="3.34" stroke-opacity="0.056"/>
<circle cx="249.8" cy="56.8" r="5.50" stroke-width="3.31" stroke-opacity="0.056"/>
<circle cx="464.4" cy="192.4" r="5.01" stroke-width="2.62" stroke-opacity="0.015"/>
<circle cx="362.4" cy="116.2" r="5.23" stroke-width="2.91" stroke-opacity="0.036"/>
<circle cx="256.2" cy="58.5" r="5.50" stroke-width="3.30" stroke-opacity="0.056"/>
<circle cx="411.1" cy="151.1" r="5.13" stroke-width="2.77" stroke-opacity="0.023"/>
<circle cx="395.7" cy="138.9" r="5.16" stroke-width="2.81" stroke-opacity="0.026"/>
<circle cx="357.4" cy="113.9" r="5.24" stroke-width="2.92" stroke-opacity="0.037"/>
<circle cx="286.0" cy="74.0" r="5.43" stroke-width="3.19" stroke-opacity="0.056"/>
<circle cx="364.8" cy="118.0" r="5.23" stroke-width="2.90" stroke-opacity="0.035"/>
<circle cx="448.2" cy="177.9" r="5.05" stroke-width="2.66" stroke-opacity="0.017"/>
<circle cx="285.4" cy="73.6" r="5.43" stroke-width="3.19" stroke-opacity="0.056"/>
<circle cx="227.2" cy="48.4" r="5.50" stroke-width="3.33" stroke-opacity="0.056"/>
<circle cx="200.8" cy="42.5" r="5.50" stroke-width="3.36" stroke-opacity="0.056"/>
<circle cx="310.2" cy="86.7" r="5.36" stroke-width="3.08" stroke-opacity="0.053"/>
<circle cx="220.2" cy="44.4" r="5.50" stroke-width="3.34" stroke-opacity="0.056"/>
<circle cx="466.9" cy="193.7" r="5.01" stroke-width="2.61" stroke-opacity="0.014"/>
<circle cx="331.2" cy="97.3" r="5.30" stroke-width="3.00" stroke-opacity="0.046"/>
<circle cx="382.9" cy="128.3" r="5.19" stroke-width="2.85" stroke-opacity="0.030"/>
<circle cx="412.8" cy="151.1" r="5.12" stroke-width="2.76" stroke-opacity="0.023"/>
<circle cx="235.3" cy="52.1" r="5.50" stroke-width="3.32" stroke-opacity="0.056"/>
<circle cx="396.2" cy="138.3" r="5.16" stroke-width="2.81" stroke-opacity="0.026"/>
<circle cx="257.3" cy="59.0" r="5.50" stroke-width="3.30" stroke-opacity="0.056"/>
<circle cx="293.7" cy="77.4" r="5.40" stroke-width="3.16" stroke-opacity="0.056"/>
<circle cx="173.6" cy="33.9" r="5.50" stroke-width="3.39" stroke-opacity="0.047"/>
<circle cx="265.5" cy="63.5" r="5.48" stroke-width="3.28" stroke-opacity="0.056"/>
<circle cx="258.9" cy="61.8" r="5.50" stroke-width="3.30" stroke-opacity="0.056"/>
<circle cx="460.3" cy="188.8" r="5.02" stroke-width="2.63" stroke-opacity="0.015"/>
<circle cx="227.0" cy="48.9" r="5.50" stroke-width="3.33" stroke-opacity="0.056"/>
<circle cx="306.5" cy="83.6" r="5.37" stroke-width="3.10" stroke-opacity="0.054"/>
<circle cx="465.7" cy="193.2" r="5.01" stroke-width="2.61" stroke-opacity="0.014"/>
<circle cx="183.4" cy="33.1" r="5.50" stroke-width="3.38" stroke-opacity="0.056"/>
<circle cx="402.9" cy="144.5" r="5.14" stroke-width="2.79" stroke-opacity="0.025"/>
<circle cx="413.8" cy="151.8" r="5.12" stroke-width="2.76" stroke-opacity="0.023"/>
<circle cx="264.0" cy="63.6" r="5.49" stroke-width="3.28" stroke-opacity="0.056"/>
<circle cx="407.1" cy="146.7" r="5.13" stroke-width="2.78" stroke-opacity="0.024"/>
<circle cx="417.0" cy="155.1" r="5.11" stroke-width="2.75" stroke-opacity="0.022"/>
<circle cx="196.5" cy="40.7" r="5.50" stroke-width="3.36" stroke-opacity="0.056"/>
<circle cx="299.8" cy="80.8" r="5.39" stroke-width="3.13" stroke-opacity="0.056"/>
<circle cx="244.1" cy="53.1" r="5.50" stroke-width="3.32" stroke-opacity="0.056"/>
<circle cx="299.8" cy="81.0" r="5.39" stroke-width="3.13" stroke-opacity="0.056"/>
<circle cx="176.4" cy="34.8" r="5.50" stroke-width="3.38" stroke-opacity="0.053"/>
<circle cx="387.4" cy="131.5" r="5.18" stroke-width="2.84" stroke-opacity="0.029"/>
<circle cx="361.9" cy="116.6" r="5.23" stroke-width="2.91" stroke-opacity="0.036"/>
<circle cx="214.9" cy="44.3" r="5.50" stroke-width="3.35" stroke-opacity="0.056"/>
<circle cx="232.2" cy="51.2" r="5.50" stroke-width="3.33" stroke-opacity="0.056"/>
<circle cx="235.5" cy="50.5" r="5.50" stroke-width="3.32" stroke-opacity="0.056"/>
<circle cx="419.5" cy="157.4" r="5.11" stroke-width="2.74" stroke-opacity="0.022"/>
<circle cx="333.6" cy="99.2" r="5.29" stroke-width="2.99" stroke-opacity="0.045"/>
<circle cx="250.9" cy="56.5" r="5.50" stroke-width="3.31" stroke-opacity="0.056"/>
<circle cx="393.0" cy="136.6" r="5.17" stroke-width="2.82" stroke-opacity="0.027"/>
<circle cx="174.4" cy="33.0" r="5.50" stroke-width="3.39" stroke-opacity="0.049"/>
<circle cx="217.7" cy="46.8" r="5.50" stroke-width="3.34" stroke-opacity="0.056"/>
<circle cx="296.7" cy="79.0" r="5.40" stroke-width="3.14" stroke-opacity="0.056"/>
<circle cx="391.0" cy="135.3" r="5.17" stroke-width="2.83" stroke-opacity="0.028"/>
<circle cx="386.8" cy="132.5" r="5.18" stroke-width="2.84" stroke-opacity="0.029"/>
<circle cx="196.5" cy="36.7" r="5.50" stroke-width="3.36" stroke-opacity="0.056"/>
<circle cx="183.6" cy="34.1" r="5.50" stroke-width="3.38" stroke-opacity="0.056"/>
<circle cx="458.5" cy="187.0" r="5.02" stroke-width="2.63" stroke-opacity="0.016"/>
<circle cx="217.7" cy="44.3" r="5.50" stroke-width="3.34" stroke-opacity="0.056"/>
<circle cx="172.3" cy="31.7" r="5.50" stroke-width="3.39" stroke-opacity="0.045"/>
<circle cx="244.3" cy="52.7" r="5.50" stroke-width="3.32" stroke-opacity="0.056"/>
<circle cx="240.0" cy="51.2" r="5.50" stroke-width="3.32" stroke-opacity="0.056"/>
<circle cx="250.7" cy="57.6" r="5.50" stroke-width="3.31" stroke-opacity="0.056"/>
<circle cx="161.0" cy="25.5" r="5.50" stroke-width="3.40" stroke-opacity="0.023"/>
<circle cx="409.9" cy="150.3" r="5.13" stroke-width="2.77" stroke-opacity="0.024"/>
<circle cx="213.7" cy="44.1" r="5.50" stroke-width="3.35" stroke-opacity="0.056"/>
<circle cx="232.3" cy="49.2" r="5.50" stroke-width="3.33" stroke-opacity="0.056"/>
<circle cx="221.0" cy="48.3" r="5.50" stroke-width="3.34" stroke-opacity="0.056"/>
<circle cx="177.7" cy="35.0" r="5.50" stroke-width="3.38" stroke-opacity="0.055"/>
<circle cx="293.0" cy="76.8" r="5.41" stroke-width="3.16" stroke-opacity="0.056"/>
<circle cx="254.4" cy="57.5" r="5.50" stroke-width="3.31" stroke-opacity="0.056"/>
<circle cx="216.0" cy="43.0" r="5.50" stroke-width="3.34" stroke-opacity="0.056"/>
<circle cx="259.3" cy="61.4" r="5.50" stroke-width="3.30" stroke-opacity="0.056"/>
<circle cx="238.2" cy="50.6" r="5.50" stroke-width="3.32" stroke-opacity="0.056"/>
<circle cx="317.5" cy="90.7" r="5.34" stroke-width="3.05" stroke-opacity="0.050"/>
<circle cx="438.8" cy="172.0" r="5.07" stroke-width="2.69" stroke-opacity="0.019"/>
<circle cx="388.5" cy="132.9" r="5.17" stroke-width="2.83" stroke-opacity="0.028"/>
<circle cx="401.3" cy="143.4" r="5.15" stroke-width="2.80" stroke-opacity="0.025"/>
<circle cx="370.1" cy="120.6" r="5.21" stroke-width="2.89" stroke-opacity="0.034"/>
<circle cx="281.8" cy="71.0" r="5.44" stroke-width="3.21" stroke-opacity="0.056"/>
<circle cx="272.5" cy="67.0" r="5.46" stroke-width="3.25" stroke-opacity="0.056"/>
<circle cx="233.0" cy="50.3" r="5.50" stroke-width="3.33" stroke-opacity="0.056"/>
<circle cx="231.6" cy="50.7" r="5.50" stroke-width="3.33" stroke-opacity="0.056"/>
<circle cx="408.0" cy="148.6" r="5.13" stroke-width="2.78" stroke-opacity="0.024"/>
<circle cx="252.5" cy="57.3" r="5.50" stroke-width="3.31" stroke-opacity="0.056"/>
<circle cx="347.1" cy="106.5" r="5.26" stroke-width="2.95" stroke-opacity="0.040"/>
<circle cx="298.6" cy="80.0" r="5.39" stroke-width="3.13" stroke-opacity="0.056"/>
<circle cx="258.6" cy="59.6" r="5.50" stroke-width="3.30" stroke-opacity="0.056"/>
<circle cx="447.3" cy="177.9" r="5.05" stroke-width="2.66" stroke-opacity="0.017"/>
<circle cx="379.0" cy="126.7" r="5.19" stroke-width="2.86" stroke-opacity="0.031"/>
<circle cx="287.1" cy="74.2" r="5.42" stroke-width="3.18" stroke-opacity="0.056"/>
<circle cx="254.8" cy="59.6" r="5.50" stroke-width="3.31" stroke-opacity="0.056"/>
<circle cx="272.2" cy="67.4" r="5.47" stroke-width="3.25" stroke-opacity="0.056"/>
<circle cx="336.5" cy="101.3" r="5.29" stroke-width="2.98" stroke-opacity="0.044"/>
<circle cx="454.8" cy="183.8" r="5.03" stroke-width="2.64" stroke-opacity="0.016"/>
<circle cx="181.1" cy="33.4" r="5.50" stroke-width="3.38" stroke-opacity="0.056"/>
<circle cx="343.7" cy="105.2" r="5.27" stroke-width="2.96" stroke-opacity="0.041"/>
<circle cx="302.5" cy="82.1" r="5.38" stroke-width="3.12" stroke-opacity="0.055"/>
<circle cx="379.6" cy="125.8" r="5.19" stroke-width="2.86" stroke-opacity="0.031"/>
<circle cx="470.4" cy="196.5" r="5.00" stroke-width="2.60" stroke-opacity="0.014"/>
<circle cx="192.9" cy="35.9" r="5.50" stroke-width="3.37" stroke-opacity="0.056"/>
<circle cx="281.6" cy="71.6" r="5.44" stroke-width="3.21" stroke-opacity="0.056"/>
<circle cx="194.4" cy="39.1" r="5.50" stroke-width="3.37" stroke-opacity="0.056"/>
<circle cx="199.8" cy="42.1" r="5.50" stroke-width="3.36" stroke-opacity="0.056"/>
<circle cx="295.0" cy="78.8" r="5.40" stroke-width="3.15" stroke-opacity="0.056"/>
<circle cx="195.0" cy="36.6" r="5.50" stroke-width="3.37" stroke-opacity="0.056"/>
<circle cx="208.9" cy="41.7" r="5.50" stroke-width="3.35" stroke-opacity="0.056"/>
<circle cx="411.4" cy="150.0" r="5.13" stroke-width="2.77" stroke-opacity="0.023"/>
<circle cx="168.0" cy="30.3" r="5.50" stroke-width="3.39" stroke-opacity="0.036"/>
<circle cx="278.7" cy="69.9" r="5.45" stroke-width="3.22" stroke-opacity="0.056"/>
<circle cx="385.5" cy="131.2" r="5.18" stroke-width="2.84" stroke-opacity="0.029"/>
<circle cx="307.0" cy="84.1" r="5.37" stroke-width="3.10" stroke-opacity="0.054"/>
<circle cx="275.6" cy="68.7" r="5.46" stroke-width="3.23" stroke-opacity="0.056"/>
<circle cx="187.8" cy="36.2" r="5.50" stroke-width="3.37" stroke-opacity="0.056"/>
<circle cx="225.9" cy="48.1" r="5.50" stroke-width="3.33" stroke-opacity="0.056"/>
<circle cx="277.5" cy="69.4" r="5.45" stroke-width="3.22" stroke-opacity="0.056"/>
<circle cx="207.6" cy="41.8" r="5.50" stroke-width="3.35" stroke-opacity="0.056"/>
<circle cx="269.1" cy="64.8" r="5.47" stroke-width="3.26" stroke-opacity="0.056"/>
<circle cx="369.2" cy="120.7" r="5.22" stroke-width="2.89" stroke-opacity="0.034"/>
<circle cx="320.2" cy="91.4" r="5.33" stroke-width="3.04" stroke-opacity="0.049"/>
<circle cx="283.6" cy="71.5" r="5.43" stroke-width="3.20" stroke-opacity="0.056"/>
<circle cx="314.5" cy="89.2" r="5.34" stroke-width="3.07" stroke-opacity="0.051"/>
<circle cx="333.5" cy="99.0" r="5.29" stroke-width="2.99" stroke-opacity="0.045"/>
<circle cx="235.4" cy="51.9" r="5.50" stroke-width="3.32" stroke-opacity="0.056"/>
<circle cx="337.2" cy="101.1" r="5.28" stroke-width="2.98" stroke-opacity="0.044"/>
<circle cx="470.1" cy="197.1" r="5.00" stroke-width="2.60" stroke-opacity="0.014"/>
<circle cx="390.0" cy="133.5" r="5.17" stroke-width="2.83" stroke-opacity="0.028"/>
<circle cx="245.6" cy="55.8" r="5.50" stroke-width="3.31" stroke-opacity="0.056"/>
<circle cx="302.8" cy="82.1" r="5.38" stroke-width="3.12" stroke-opacity="0.055"/>
<circle cx="373.3" cy="122.2" r="5.21" stroke-width="2.88" stroke-opacity="0.033"/>
<circle cx="436.5" cy="169.9" r="5.07" stroke-width="2.70" stroke-opacity="0.019"/>
<circle cx="468.5" cy="195.1" r="5.00" stroke-width="2.60" stroke-opacity="0.014"/>
<circle cx="218.8" cy="44.9" r="5.50" stroke-width="3.34" stroke-opacity="0.056"/>
<circle cx="205.3" cy="41.2" r="5.50" stroke-width="3.35" stroke-opacity="0.056"/>
<circle cx="310.7" cy="86.4" r="5.36" stroke-width="3.08" stroke-opacity="0.052"/>
<circle cx="314.5" cy="88.5" r="5.34" stroke-width="3.07" stroke-opacity="0.051"/>
<circle cx="397.3" cy="139.8" r="5.16" stroke-width="2.81" stroke-opacity="0.026"/>
<circle cx="336.6" cy="100.4" r="5.29" stroke-width="2.98" stroke-opacity="0.044"/>
<circle cx="263.2" cy="62.6" r="5.49" stroke-width="3.29" stroke-opacity="0.056"/>
<circle cx="346.6" cy="106.9" r="5.26" stroke-width="2.95" stroke-opacity="0.040"/>
<circle cx="320.0" cy="91.9" r="5.33" stroke-width="3.04" stroke-opacity="0.049"/>
<circle cx="180.7" cy="32.8" r="5.50" stroke-width="3.38" stroke-opacity="0.056"/>
<circle cx="350.2" cy="108.5" r="5.26" stroke-width="2.94" stroke-opacity="0.039"/>
<circle cx="369.9" cy="121.1" r="5.21" stroke-width="2.89" stroke-opacity="0.034"/>
<circle cx="272.8" cy="66.4" r="5.46" stroke-width="3.24" stroke-opacity="0.056"/>
<circle cx="306.2" cy="83.6" r="5.37" stroke-width="3.10" stroke-opacity="0.054"/>
<circle cx="449.9" cy="180.1" r="5.04" stroke-width="2.66" stroke-opacity="0.017"/>
<circle cx="330.9" cy="98.3" r="5.30" stroke-width="3.00" stroke-opacity="0.046"/>
<circle cx="451.1" cy="180.3" r="5.04" stroke-width="2.65" stroke-opacity="0.017"/>
<circle cx="334.9" cy="99.6" r="5.29" stroke-width="2.99" stroke-opacity="0.044"/>
<circle cx="190.3" cy="37.8" r="5.50" stroke-width="3.37" stroke-opacity="0.056"/>
<circle cx="197.2" cy="38.6" r="5.50" stroke-width="3.36" stroke-opacity="0.056"/>
<circle cx="454.7" cy="184.7" r="5.03" stroke-width="2.64" stroke-opacity="0.016"/>
<circle cx="191.3" cy="38.7" r="5.50" stroke-width="3.37" stroke-opacity="0.056"/>
<circle cx="397.6" cy="140.8" r="5.16" stroke-width="2.81" stroke-opacity="0.026"/>
<circle cx="431.0" cy="165.2" r="5.08" stroke-width="2.71" stroke-opacity="0.020"/>
<circle cx="177.7" cy="35.3" r="5.50" stroke-width="3.38" stroke-opacity="0.055"/>
<circle cx="393.9" cy="136.7" r="5.16" stroke-width="2.82" stroke-opacity="0.027"/>
<circle cx="193.0" cy="40.2" r="5.50" stroke-width="3.37" stroke-opacity="0.056"/>
<circle cx="246.6" cy="55.4" r="5.50" stroke-width="3.31" stroke-opacity="0.056"/>
<circle cx="210.6" cy="43.6" r="5.50" stroke-width="3.35" stroke-opacity="0.056"/>
<circle cx="323.9" cy="92.8" r="5.32" stroke-width="3.03" stroke-opacity="0.048"/>
<circle cx="334.5" cy="99.2" r="5.29" stroke-width="2.99" stroke-opacity="0.044"/>
<circle cx="177.2" cy="32.8" r="5.50" stroke-width="3.38" stroke-opacity="0.055"/>
<circle cx="260.9" cy="61.6" r="5.50" stroke-width="3.30" stroke-opacity="0.056"/>
<circle cx="342.2" cy="104.3" r="5.27" stroke-width="2.97" stroke-opacity="0.042"/>
<circle cx="341.5" cy="103.6" r="5.28" stroke-width="2.97" stroke-opacity="0.042"/>
<circle cx="280.9" cy="71.4" r="5.44" stroke-width="3.21" stroke-opacity="0.056"/>
<circle cx="207.8" cy="41.3" r="5.50" stroke-width="3.35" stroke-opacity="0.056"/>
<circle cx="399.7" cy="142.1" r="5.15" stroke-width="2.80" stroke-opacity="0.025"/>
<circle cx="377.0" cy="124.6" r="5.20" stroke-width="2.87" stroke-opacity="0.032"/>
<circle cx="390.6" cy="135.2" r="5.17" stroke-width="2.83" stroke-opacity="0.028"/>
<circle cx="181.2" cy="36.8" r="5.50" stroke-width="3.38" stroke-opacity="0.056"/>
<circle cx="163.5" cy="28.8" r="5.50" stroke-width="3.40" stroke-opacity="0.028"/>
<circle cx="182.1" cy="36.8" r="5.50" stroke-width="3.38" stroke-opacity="0.056"/>
<circle cx="344.7" cy="105.9" r="5.27" stroke-width="2.96" stroke-opacity="0.041"/>
<circle cx="387.9" cy="133.3" r="5.18" stroke-width="2.83" stroke-opacity="0.029"/>
<circle cx="387.8" cy="132.7" r="5.18" stroke-width="2.83" stroke-opacity="0.029"/>
<circle cx="371.3" cy="121.9" r="5.21" stroke-width="2.88" stroke-opacity="0.033"/>
<circle cx="453.3" cy="182.6" r="5.04" stroke-width="2.65" stroke-opacity="0.016"/>
<circle cx="163.9" cy="28.4" r="5.50" stroke-width="3.40" stroke-opacity="0.028"/>
<circle cx="217.7" cy="46.5" r="5.50" stroke-width="3.34" stroke-opacity="0.056"/>
<circle cx="390.2" cy="134.1" r="5.17" stroke-width="2.83" stroke-opacity="0.028"/>
<circle cx="382.5" cy="128.4" r="5.19" stroke-width="2.85" stroke-opacity="0.030"/>
<circle cx="167.1" cy="30.2" r="5.50" stroke-width="3.39" stroke-opacity="0.035"/>
<circle cx="337.0" cy="100.8" r="5.29" stroke-width="2.98" stroke-opacity="0.044"/>
<circle cx="250.8" cy="57.7" r="5.50" stroke-width="3.31" stroke-opacity="0.056"/>
<circle cx="309.4" cy="85.5" r="5.36" stroke-width="3.09" stroke-opacity="0.053"/>
<circle cx="185.1" cy="35.8" r="5.50" stroke-width="3.37" stroke-opacity="0.056"/>
<circle cx="292.5" cy="76.2" r="5.41" stroke-width="3.16" stroke-opacity="0.056"/>
<circle cx="415.8" cy="154.7" r="5.12" stroke-width="2.75" stroke-opacity="0.023"/>
<circle cx="400.8" cy="141.9" r="5.15" stroke-width="2.80" stroke-opacity="0.025"/>
<circle cx="283.5" cy="71.9" r="5.43" stroke-width="3.20" stroke-opacity="0.056"/>
<circle cx="185.7" cy="33.0" r="5.50" stroke-width="3.37" stroke-opacity="0.056"/>
<circle cx="319.4" cy="90.9" r="5.33" stroke-width="3.05" stroke-opacity="0.049"/>
<circle cx="204.0" cy="42.3" r="5.50" stroke-width="3.36" stroke-opacity="0.056"/>
<circle cx="239.0" cy="52.3" r="5.50" stroke-width="3.32" stroke-opacity="0.056"/>
<circle cx="292.9" cy="76.4" r="5.41" stroke-width="3.16" stroke-opacity="0.056"/>
<circle cx="430.2" cy="164.9" r="5.09" stroke-width="2.71" stroke-opacity="0.020"/>
<circle cx="320.2" cy="91.6" r="5.33" stroke-width="3.04" stroke-opacity="0.049"/>
<circle cx="260.9" cy="62.3" r="5.50" stroke-width="3.30" stroke-opacity="0.056"/>
<circle cx="262.3" cy="62.2" r="5.49" stroke-width="3.29" stroke-opacity="0.056"/>
<circle cx="371.9" cy="121.6" r="5.21" stroke-width="2.88" stroke-opacity="0.033"/>
<circle cx="165.2" cy="27.2" r="5.50" stroke-width="3.39" stroke-opacity="0.031"/>
<circle cx="204.3" cy="42.7" r="5.50" stroke-width="3.36" stroke-opacity="0.056"/>
<circle cx="279.0" cy="69.7" r="5.45" stroke-width="3.22" stroke-opacity="0.056"/>
<circle cx="289.8" cy="76.0" r="5.41" stroke-width="3.17" stroke-opacity="0.056"/>
<circle cx="166.6" cy="28.2" r="5.50" stroke-width="3.39" stroke-opacity="0.034"/>
<circle cx="257.2" cy="59.3" r="5.50" stroke-width="3.30" stroke-opacity="0.056"/>
<circle cx="284.6" cy="73.1" r="5.43" stroke-width="3.19" stroke-opacity="0.056"/>
<circle cx="290.1" cy="75.1" r="5.41" stroke-width="3.17" stroke-opacity="0.056"/>
<circle cx="247.9" cy="55.1" r="5.50" stroke-width="3.31" stroke-opacity="0.056"/>
<circle cx="164.5" cy="27.8" r="5.50" stroke-width="3.40" stroke-opacity="0.030"/>
<circle cx="183.0" cy="32.4" r="5.50" stroke-width="3.38" stroke-opacity="0.056"/>
<circle cx="326.8" cy="96.0" r="5.31" stroke-width="3.01" stroke-opacity="0.047"/>
<circle cx="176.1" cy="30.6" r="5.50" stroke-width="3.38" stroke-opacity="0.052"/>
<circle cx="352.4" cy="111.1" r="5.25" stroke-width="2.94" stroke-opacity="0.039"/>
<circle cx="313.4" cy="87.9" r="5.35" stroke-width="3.07" stroke-opacity="0.052"/>
<circle cx="455.4" cy="185.2" r="5.03" stroke-width="2.64" stroke-opacity="0.016"/>
<circle cx="292.0" cy="76.5" r="5.41" stroke-width="3.16" stroke-opacity="0.056"/>
<circle cx="173.1" cy="29.4" r="5.50" stroke-width="3.39" stroke-opacity="0.046"/>
<circle cx="222.1" cy="48.2" r="5.50" stroke-width="3.34" stroke-opacity="0.056"/>
<circle cx="406.4" cy="146.2" r="5.14" stroke-width="2.78" stroke-opacity="0.024"/>
<circle cx="452.5" cy="182.6" r="5.04" stroke-width="2.65" stroke-opacity="0.017"/>
<circle cx="249.8" cy="55.2" r="5.50" stroke-width="3.31" stroke-opacity="0.056"/>
<circle cx="293.3" cy="76.9" r="5.40" stroke-width="3.16" stroke-opacity="0.056"/>
<circle cx="241.8" cy="54.2" r="5.50" stroke-width="3.32" stroke-opacity="0.056"/>
<circle cx="353.9" cy="110.7" r="5.25" stroke-width="2.93" stroke-opacity="0.038"/>
<circle cx="391.2" cy="135.5" r="5.17" stroke-width="2.83" stroke-opacity="0.028"/>
<circle cx="311.1" cy="86.6" r="5.35" stroke-width="3.08" stroke-opacity="0.052"/>
<circle cx="351.0" cy="110.3" r="5.26" stroke-width="2.94" stroke-opacity="0.039"/>
<circle cx="233.4" cy="49.3" r="5.50" stroke-width="3.33" stroke-opacity="0.056"/>
<circle cx="413.9" cy="153.3" r="5.12" stroke-width="2.76" stroke-opacity="0.023"/>
<circle cx="320.7" cy="91.7" r="5.33" stroke-width="3.04" stroke-opacity="0.049"/>
<circle cx="211.7" cy="41.7" r="5.50" stroke-width="3.35" stroke-opacity="0.056"/>
<circle cx="387.1" cy="131.3" r="5.18" stroke-width="2.84" stroke-opacity="0.029"/>
<circle cx="204.6" cy="41.0" r="5.50" stroke-width="3.36" stroke-opacity="0.056"/>
<circle cx="432.8" cy="166.4" r="5.08" stroke-width="2.71" stroke-opacity="0.020"/>
<circle cx="194.2" cy="37.7" r="5.50" stroke-width="3.37" stroke-opacity="0.056"/>
<circle cx="247.2" cy="54.8" r="5.50" stroke-width="3.31" stroke-opacity="0.056"/>
<circle cx="172.6" cy="31.5" r="5.50" stroke-width="3.39" stroke-opacity="0.045"/>
<circle cx="176.1" cy="32.5" r="5.50" stroke-width="3.38" stroke-opacity="0.052"/>
<circle cx="227.6" cy="47.0" r="5.50" stroke-width="3.33" stroke-opacity="0.056"/>
<circle cx="353.2" cy="110.4" r="5.25" stroke-width="2.93" stroke-opacity="0.038"/>
<circle cx="320.9" cy="92.3" r="5.33" stroke-width="3.04" stroke-opacity="0.049"/>
<circle cx="275.5" cy="67.8" r="5.46" stroke-width="3.23" stroke-opacity="0.056"/>
<circle cx="199.4" cy="39.1" r="5.50" stroke-width="3.36" stroke-opacity="0.056"/>
<circle cx="163.9" cy="27.9" r="5.50" stroke-width="3.40" stroke-opacity="0.028"/>
<circle cx="244.5" cy="55.3" r="5.50" stroke-width="3.32" stroke-opacity="0.056"/>
<circle cx="220.5" cy="48.2" r="5.50" stroke-width="3.34" stroke-opacity="0.056"/>
<circle cx="316.4" cy="89.2" r="5.34" stroke-width="3.06" stroke-opacity="0.050"/>
<circle cx="428.8" cy="164.4" r="5.09" stroke-width="2.72" stroke-opacity="0.020"/>
<circle cx="419.4" cy="157.2" r="5.11" stroke-width="2.74" stroke-opacity="0.022"/>
<circle cx="160.8" cy="26.8" r="5.50" stroke-width="3.40" stroke-opacity="0.022"/>
<circle cx="464.4" cy="192.1" r="5.01" stroke-width="2.62" stroke-opacity="0.015"/>
<circle cx="402.0" cy="143.0" r="5.15" stroke-width="2.79" stroke-opacity="0.025"/>
<circle cx="254.7" cy="59.1" r="5.50" stroke-width="3.31" stroke-opacity="0.056"/>
<circle cx="245.2" cy="55.8" r="5.50" stroke-width="3.31" stroke-opacity="0.056"/>
<circle cx="409.5" cy="149.3" r="5.13" stroke-width="2.77" stroke-opacity="0.024"/>
<circle cx="415.8" cy="154.0" r="5.12" stroke-width="2.75" stroke-opacity="0.023"/>
<circle cx="222.3" cy="48.8" r="5.50" stroke-width="3.34" stroke-opacity="0.056"/>
<circle cx="363.9" cy="116.5" r="5.23" stroke-width="2.90" stroke-opacity="0.035"/>
<circle cx="245.1" cy="54.1" r="5.50" stroke-width="3.31" stroke-opacity="0.056"/>
<circle cx="201.5" cy="42.7" r="5.50" stroke-width="3.36" stroke-opacity="0.056"/>
<circle cx="358.5" cy="114.1" r="5.24" stroke-width="2.92" stroke-opacity="0.037"/>
<circle cx="373.3" cy="122.1" r="5.21" stroke-width="2.88" stroke-opacity="0.033"/>
<circle cx="362.1" cy="115.6" r="5.23" stroke-width="2.91" stroke-opacity="0.036"/>
<circle cx="223.7" cy="48.9" r="5.50" stroke-width="3.34" stroke-opacity="0.056"/>
<circle cx="434.3" cy="168.4" r="5.08" stroke-width="2.70" stroke-opacity="0.019"/>
<circle cx="301.9" cy="82.0" r="5.38" stroke-width="3.12" stroke-opacity="0.055"/>
<circle cx="425.5" cy="161.2" r="5.10" stroke-width="2.73" stroke-opacity="0.021"/>
<circle cx="207.0" cy="44.1" r="5.50" stroke-width="3.35" stroke-opacity="0.056"/>
<circle cx="238.3" cy="52.9" r="5.50" stroke-width="3.32" stroke-opacity="0.056"/>
<circle cx="193.0" cy="37.7" r="5.50" stroke-width="3.37" stroke-opacity="0.056"/>
<circle cx="399.0" cy="141.9" r="5.15" stroke-width="2.80" stroke-opacity="0.025"/>
<circle cx="396.7" cy="140.1" r="5.16" stroke-width="2.81" stroke-opacity="0.026"/>
<circle cx="195.3" cy="40.0" r="5.50" stroke-width="3.36" stroke-opacity="0.056"/>
<circle cx="246.1" cy="53.7" r="5.50" stroke-width="3.31" stroke-opacity="0.056"/>
<circle cx="290.3" cy="75.6" r="5.41" stroke-width="3.17" stroke-opacity="0.056"/>
<circle cx="430.1" cy="165.6" r="5.09" stroke-width="2.71" stroke-opacity="0.020"/>
<circle cx="251.9" cy="57.1" r="5.50" stroke-width="3.31" stroke-opacity="0.056"/>
<circle cx="319.3" cy="90.9" r="5.33" stroke-width="3.05" stroke-opacity="0.050"/>
<circle cx="313.7" cy="88.3" r="5.35" stroke-width="3.07" stroke-opacity="0.051"/>
<circle cx="290.4" cy="76.6" r="5.41" stroke-width="3.17" stroke-opacity="0.056"/>
<circle cx="308.4" cy="85.6" r="5.36" stroke-width="3.09" stroke-opacity="0.053"/>
<circle cx="240.6" cy="51.7" r="5.50" stroke-width="3.32" stroke-opacity="0.056"/>
<circle cx="306.3" cy="84.4" r="5.37" stroke-width="3.10" stroke-opacity="0.054"/>
<circle cx="340.3" cy="102.6" r="5.28" stroke-width="2.97" stroke-opacity="0.042"/>
<circle cx="436.3" cy="170.0" r="5.07" stroke-width="2.70" stroke-opacity="0.019"/>
<circle cx="452.0" cy="181.8" r="5.04" stroke-width="2.65" stroke-opacity="0.017"/>
<circle cx="372.9" cy="122.6" r="5.21" stroke-width="2.88" stroke-opacity="0.033"/>
<circle cx="204.4" cy="39.2" r="5.50" stroke-width="3.36" stroke-opacity="0.056"/>
<circle cx="224.7" cy="48.9" r="5.50" stroke-width="3.34" stroke-opacity="0.056"/>
<circle cx="161.4" cy="28.9" r="5.50" stroke-width="3.40" stroke-opacity="0.023"/>
<circle cx="335.9" cy="100.1" r="5.29" stroke-width="2.98" stroke-opacity="0.044"/>
<circle cx="435.9" cy="169.0" r="5.07" stroke-width="2.70" stroke-opacity="0.019"/>
<circle cx="211.0" cy="42.2" r="5.50" stroke-width="3.35" stroke-opacity="0.056"/>
<circle cx="283.0" cy="71.9" r="5.43" stroke-width="3.20" stroke-opacity="0.056"/>
<circle cx="187.0" cy="33.2" r="5.50" stroke-width="3.37" stroke-opacity="0.056"/>
<circle cx="222.6" cy="48.3" r="5.50" stroke-width="3.34" stroke-opacity="0.056"/>
<circle cx="166.2" cy="29.1" r="5.50" stroke-width="3.39" stroke-opacity="0.033"/>
<circle cx="458.5" cy="186.5" r="5.02" stroke-width="2.63" stroke-opacity="0.016"/>
<circle cx="448.7" cy="178.7" r="5.05" stroke-width="2.66" stroke-opacity="0.017"/>
<circle cx="368.4" cy="120.1" r="5.22" stroke-width="2.89" stroke-opacity="0.034"/>
<circle cx="470.0" cy="196.4" r="5.00" stroke-width="2.60" stroke-opacity="0.014"/>
<circle cx="200.0" cy="37.7" r="5.50" stroke-width="3.36" stroke-opacity="0.056"/>
<circle cx="463.7" cy="191.7" r="5.01" stroke-width="2.62" stroke-opacity="0.015"/>
<circle cx="441.1" cy="172.3" r="5.06" stroke-width="2.68" stroke-opacity="0.018"/>
<circle cx="460.4" cy="189.3" r="5.02" stroke-width="2.63" stroke-opacity="0.015"/>
<circle cx="341.5" cy="104.3" r="5.28" stroke-width="2.97" stroke-opacity="0.042"/>
<circle cx="330.3" cy="98.1" r="5.30" stroke-width="3.00" stroke-opacity="0.046"/>
<circle cx="423.2" cy="159.0" r="5.10" stroke-width="2.73" stroke-opacity="0.021"/>
<circle cx="233.6" cy="49.2" r="5.50" stroke-width="3.33" stroke-opacity="0.056"/>
<circle cx="272.8" cy="66.5" r="5.46" stroke-width="3.24" stroke-opacity="0.056"/>
<circle cx="283.5" cy="72.2" r="5.43" stroke-width="3.20" stroke-opacity="0.056"/>
<circle cx="221.9" cy="47.9" r="5.50" stroke-width="3.34" stroke-opacity="0.056"/>
<circle cx="467.1" cy="193.8" r="5.01" stroke-width="2.61" stroke-opacity="0.014"/>
<circle cx="299.1" cy="80.9" r="5.39" stroke-width="3.13" stroke-opacity="0.056"/>
<circle cx="269.9" cy="66.5" r="5.47" stroke-width="3.26" stroke-opacity="0.056"/>
<circle cx="300.3" cy="81.2" r="5.38" stroke-width="3.13" stroke-opacity="0.056"/>
<circle cx="213.5" cy="45.8" r="5.50" stroke-width="3.35" stroke-opacity="0.056"/>
<circle cx="413.6" cy="151.8" r="5.12" stroke-width="2.76" stroke-opacity="0.023"/>
<circle cx="198.8" cy="39.9" r="5.50" stroke-width="3.36" stroke-opacity="0.056"/>
<circle cx="396.3" cy="139.3" r="5.16" stroke-width="2.81" stroke-opacity="0.026"/>
<circle cx="304.6" cy="83.3" r="5.37" stroke-width="3.11" stroke-opacity="0.054"/>
<circle cx="465.8" cy="193.5" r="5.01" stroke-width="2.61" stroke-opacity="0.014"/>
<circle cx="387.9" cy="133.1" r="5.18" stroke-width="2.83" stroke-opacity="0.029"/>
<circle cx="220.9" cy="45.0" r="5.50" stroke-width="3.34" stroke-opacity="0.056"/>
<circle cx="379.4" cy="126.0" r="5.19" stroke-width="2.86" stroke-opacity="0.031"/>
<circle cx="395.4" cy="137.7" r="5.16" stroke-width="2.81" stroke-opacity="0.026"/>
<circle cx="395.6" cy="138.1" r="5.16" stroke-width="2.81" stroke-opacity="0.026"/>
<circle cx="228.1" cy="49.1" r="5.50" stroke-width="3.33" stroke-opacity="0.056"/>
<circle cx="271.1" cy="67.3" r="5.47" stroke-width="3.25" stroke-opacity="0.056"/>
<circle cx="436.7" cy="169.4" r="5.07" stroke-width="2.70" stroke-opacity="0.019"/>
<circle cx="391.5" cy="134.7" r="5.17" stroke-width="2.82" stroke-opacity="0.028"/>
<circle cx="352.2" cy="110.1" r="5.25" stroke-width="2.94" stroke-opacity="0.039"/>
<circle cx="460.0" cy="188.8" r="5.02" stroke-width="2.63" stroke-opacity="0.015"/>
<circle cx="414.2" cy="153.2" r="5.12" stroke-width="2.76" stroke-opacity="0.023"/>
<circle cx="312.7" cy="87.3" r="5.35" stroke-width="3.07" stroke-opacity="0.052"/>
<circle cx="286.2" cy="73.3" r="5.43" stroke-width="3.19" stroke-opacity="0.056"/>
<circle cx="190.5" cy="38.4" r="5.50" stroke-width="3.37" stroke-opacity="0.056"/>
<circle cx="329.9" cy="96.6" r="5.30" stroke-width="3.00" stroke-opacity="0.046"/>
<circle cx="225.9" cy="47.6" r="5.50" stroke-width="3.33" stroke-opacity="0.056"/>
<circle cx="420.1" cy="157.1" r="5.11" stroke-width="2.74" stroke-opacity="0.022"/>
<circle cx="165.3" cy="26.9" r="5.50" stroke-width="3.39" stroke-opacity="0.031"/>
<circle cx="307.0" cy="85.0" r="5.37" stroke-width="3.10" stroke-opacity="0.054"/>
<circle cx="279.6" cy="70.6" r="5.44" stroke-width="3.22" stroke-opacity="0.056"/>
<circle cx="328.1" cy="96.1" r="5.31" stroke-width="3.01" stroke-opacity="0.047"/>
<circle cx="267.7" cy="63.9" r="5.48" stroke-width="3.27" stroke-opacity="0.056"/>
<circle cx="308.1" cy="85.1" r="5.36" stroke-width="3.09" stroke-opacity="0.053"/>
<circle cx="236.5" cy="50.2" r="5.50" stroke-width="3.32" stroke-opacity="0.056"/>
<circle cx="190.8" cy="37.9" r="5.50" stroke-width="3.37" stroke-opacity="0.056"/>
<circle cx="331.1" cy="97.7" r="5.30" stroke-width="3.00" stroke-opacity="0.046"/>
<circle cx="376.5" cy="124.1" r="5.20" stroke-width="2.87" stroke-opacity="0.032"/>
<circle cx="417.7" cy="155.6" r="5.11" stroke-width="2.75" stroke-opacity="0.022"/>
<circle cx="330.1" cy="96.6" r="5.30" stroke-width="3.00" stroke-opacity="0.046"/>
<circle cx="337.8" cy="101.3" r="5.28" stroke-width="2.98" stroke-opacity="0.043"/>
<circle cx="366.8" cy="118.3" r="5.22" stroke-width="2.89" stroke-opacity="0.035"/>
<circle cx="193.1" cy="38.2" r="5.50" stroke-width="3.37" stroke-opacity="0.056"/>
<circle cx="233.3" cy="51.5" r="5.50" stroke-width="3.33" stroke-opacity="0.056"/>
<circle cx="281.1" cy="71.4" r="5.44" stroke-width="3.21" stroke-opacity="0.056"/>
<circle cx="370.2" cy="120.6" r="5.21" stroke-width="2.89" stroke-opacity="0.034"/>
<circle cx="309.1" cy="86.1" r="5.36" stroke-width="3.09" stroke-opacity="0.053"/>
<circle cx="215.6" cy="45.6" r="5.50" stroke-width="3.34" stroke-opacity="0.056"/>
<circle cx="300.4" cy="80.7" r="5.38" stroke-width="3.13" stroke-opacity="0.056"/>
<circle cx="160.2" cy="29.0" r="5.50" stroke-width="3.40" stroke-opacity="0.021"/>
<circle cx="230.8" cy="50.0" r="5.50" stroke-width="3.33" stroke-opacity="0.056"/>
<circle cx="174.8" cy="33.1" r="5.50" stroke-width="3.39" stroke-opacity="0.050"/>
<circle cx="406.0" cy="145.8" r="5.14" stroke-width="2.78" stroke-opacity="0.024"/>
<circle cx="301.9" cy="82.0" r="5.38" stroke-width="3.12" stroke-opacity="0.055"/>
<circle cx="458.6" cy="187.8" r="5.02" stroke-width="2.63" stroke-opacity="0.016"/>
<circle cx="203.9" cy="39.2" r="5.50" stroke-width="3.36" stroke-opacity="0.056"/>
<circle cx="178.0" cy="35.3" r="5.50" stroke-width="3.38" stroke-opacity="0.056"/>
<circle cx="261.1" cy="61.2" r="5.50" stroke-width="3.30" stroke-opacity="0.056"/>
<circle cx="311.4" cy="87.6" r="5.35" stroke-width="3.08" stroke-opacity="0.052"/>
<circle cx="281.4" cy="70.8" r="5.44" stroke-width="3.21" stroke-opacity="0.056"/>
<circle cx="341.3" cy="103.6" r="5.28" stroke-width="2.97" stroke-opacity="0.042"/>
<circle cx="434.7" cy="168.9" r="5.08" stroke-width="2.70" stroke-opacity="0.019"/>
<circle cx="289.5" cy="75.7" r="5.42" stroke-width="3.17" stroke-opacity="0.056"/>
<circle cx="350.4" cy="109.0" r="5.26" stroke-width="2.94" stroke-opacity="0.039"/>
<circle cx="446.6" cy="177.4" r="5.05" stroke-width="2.67" stroke-opacity="0.017"/>
<circle cx="271.5" cy="66.8" r="5.47" stroke-width="3.25" stroke-opacity="0.056"/>
<circle cx="348.7" cy="108.0" r="5.26" stroke-width="2.95" stroke-opacity="0.040"/>
<circle cx="457.7" cy="187.2" r="5.03" stroke-width="2.64" stroke-opacity="0.016"/>
<circle cx="164.3" cy="28.3" r="5.50" stroke-width="3.40" stroke-opacity="0.029"/>
<circle cx="341.0" cy="103.2" r="5.28" stroke-width="2.97" stroke-opacity="0.042"/>
<circle cx="404.8" cy="145.9" r="5.14" stroke-width="2.79" stroke-opacity="0.024"/>
<circle cx="318.0" cy="90.8" r="5.33" stroke-width="3.05" stroke-opacity="0.050"/>
<circle cx="317.7" cy="89.6" r="5.34" stroke-width="3.05" stroke-opacity="0.050"/>
<circle cx="464.6" cy="192.3" r="5.01" stroke-width="2.62" stroke-opacity="0.015"/>
<circle cx="171.0" cy="31.7" r="5.50" stroke-width="3.39" stroke-opacity="0.042"/>
<circle cx="193.8" cy="38.0" r="5.50" stroke-width="3.37" stroke-opacity="0.056"/>
<circle cx="444.4" cy="175.6" r="5.05" stroke-width="2.67" stroke-opacity="0.018"/>
<circle cx="318.0" cy="90.9" r="5.33" stroke-width="3.05" stroke-opacity="0.050"/>
<circle cx="416.2" cy="153.9" r="5.12" stroke-width="2.75" stroke-opacity="0.022"/>
<circle cx="222.9" cy="46.1" r="5.50" stroke-width="3.34" stroke-opacity="0.056"/>
<circle cx="218.3" cy="44.0" r="5.50" stroke-width="3.34" stroke-opacity="0.056"/>
<circle cx="406.7" cy="147.4" r="5.14" stroke-width="2.78" stroke-opacity="0.024"/>
<circle cx="163.2" cy="26.3" r="5.50" stroke-width="3.40" stroke-opacity="0.027"/>
<circle cx="449.1" cy="179.4" r="5.04" stroke-width="2.66" stroke-opacity="0.017"/>
<circle cx="353.0" cy="110.1" r="5.25" stroke-width="2.93" stroke-opacity="0.038"/>
<circle cx="195.3" cy="39.9" r="5.50" stroke-width="3.36" stroke-opacity="0.056"/>
<circle cx="314.6" cy="88.5" r="5.34" stroke-width="3.07" stroke-opacity="0.051"/>
<circle cx="377.0" cy="124.3" r="5.20" stroke-width="2.87" stroke-opacity="0.032"/>
<circle cx="197.5" cy="37.7" r="5.50" stroke-width="3.36" stroke-opacity="0.056"/>
<circle cx="232.6" cy="48.7" r="5.50" stroke-width="3.33" stroke-opacity="0.056"/>
<circle cx="260.5" cy="61.0" r="5.50" stroke-width="3.30" stroke-opacity="0.056"/>
<circle cx="415.5" cy="153.8" r="5.12" stroke-width="2.76" stroke-opacity="0.023"/>
<circle cx="257.6" cy="61.2" r="5.50" stroke-width="3.30" stroke-opacity="0.056"/>
<circle cx="446.9" cy="177.4" r="5.05" stroke-width="2.67" stroke-opacity="0.017"/>
<circle cx="379.2" cy="125.5" r="5.19" stroke-width="2.86" stroke-opacity="0.031"/>
<circle cx="316.1" cy="88.7" r="5.34" stroke-width="3.06" stroke-opacity="0.051"/>
<circle cx="165.4" cy="28.4" r="5.50" stroke-width="3.39" stroke-opacity="0.031"/>
<circle cx="161.1" cy="26.2" r="5.50" stroke-width="3.40" stroke-opacity="0.023"/>
<circle cx="297.8" cy="79.4" r="5.39" stroke-width="3.14" stroke-opacity="0.056"/>
<circle cx="194.9" cy="39.2" r="5.50" stroke-width="3.37" stroke-opacity="0.056"/>
<circle cx="197.1" cy="38.2" r="5.50" stroke-width="3.36" stroke-opacity="0.056"/>
<circle cx="218.8" cy="46.4" r="5.50" stroke-width="3.34" stroke-opacity="0.056"/>
<circle cx="233.7" cy="51.3" r="5.50" stroke-width="3.33" stroke-opacity="0.056"/>
<circle cx="448.1" cy="179.2" r="5.05" stroke-width="2.66" stroke-opacity="0.017"/>
<circle cx="314.4" cy="89.2" r="5.34" stroke-width="3.07" stroke-opacity="0.051"/>
<circle cx="283.3" cy="71.7" r="5.43" stroke-width="3.20" stroke-opacity="0.056"/>
<circle cx="238.2" cy="52.3" r="5.50" stroke-width="3.32" stroke-opacity="0.056"/>
<circle cx="299.5" cy="80.6" r="5.39" stroke-width="3.13" stroke-opacity="0.056"/>
<circle cx="235.6" cy="51.5" r="5.50" stroke-width="3.32" stroke-opacity="0.056"/>
<circle cx="276.8" cy="68.6" r="5.45" stroke-width="3.23" stroke-opacity="0.056"/>
<circle cx="186.5" cy="37.5" r="5.50" stroke-width="3.37" stroke-opacity="0.056"/>
<circle cx="331.5" cy="98.7" r="5.30" stroke-width="3.00" stroke-opacity="0.045"/>
<circle cx="233.6" cy="49.8" r="5.50" stroke-width="3.33" stroke-opacity="0.056"/>
<circle cx="317.2" cy="90.6" r="5.34" stroke-width="3.05" stroke-opacity="0.050"/>
<circle cx="303.1" cy="83.0" r="5.38" stroke-width="3.12" stroke-opacity="0.055"/>
<circle cx="283.6" cy="72.8" r="5.43" stroke-width="3.20" stroke-opacity="0.056"/>
<circle cx="258.0" cy="60.7" r="5.50" stroke-width="3.30" stroke-opacity="0.056"/>
<circle cx="450.5" cy="180.7" r="5.04" stroke-width="2.66" stroke-opacity="0.017"/>
<circle cx="230.8" cy="50.7" r="5.50" stroke-width="3.33" stroke-opacity="0.056"/>
<circle cx="401.5" cy="143.6" r="5.15" stroke-width="2.80" stroke-opacity="0.025"/>
<circle cx="396.0" cy="138.2" r="5.16" stroke-width="2.81" stroke-opacity="0.026"/>
<circle cx="248.9" cy="56.1" r="5.50" stroke-width="3.31" stroke-opacity="0.056"/>
<circle cx="286.6" cy="74.6" r="5.42" stroke-width="3.19" stroke-opacity="0.056"/>
<circle cx="213.2" cy="42.2" r="5.50" stroke-width="3.35" stroke-opacity="0.056"/>
<circle cx="444.5" cy="175.4" r="5.05" stroke-width="2.67" stroke-opacity="0.018"/>
<circle cx="225.9" cy="48.9" r="5.50" stroke-width="3.33" stroke-opacity="0.056"/>
<circle cx="410.5" cy="150.4" r="5.13" stroke-width="2.77" stroke-opacity="0.023"/>
<circle cx="204.2" cy="43.1" r="5.50" stroke-width="3.36" stroke-opacity="0.056"/>
<circle cx="401.8" cy="144.0" r="5.15" stroke-width="2.79" stroke-opacity="0.025"/>
<circle cx="378.6" cy="125.2" r="5.20" stroke-width="2.86" stroke-opacity="0.031"/>
<circle cx="433.4" cy="167.9" r="5.08" stroke-width="2.70" stroke-opacity="0.020"/>
<circle cx="295.1" cy="77.9" r="5.40" stroke-width="3.15" stroke-opacity="0.056"/>
<circle cx="358.5" cy="114.0" r="5.24" stroke-width="2.92" stroke-opacity="0.037"/>
<circle cx="311.6" cy="86.5" r="5.35" stroke-width="3.08" stroke-opacity="0.052"/>
<circle cx="403.3" cy="144.9" r="5.14" stroke-width="2.79" stroke-opacity="0.025"/>
<circle cx="308.6" cy="84.7" r="5.36" stroke-width="3.09" stroke-opacity="0.053"/>
<circle cx="384.4" cy="130.4" r="5.18" stroke-width="2.84" stroke-opacity="0.030"/>
<circle cx="204.0" cy="42.5" r="5.50" stroke-width="3.36" stroke-opacity="0.056"/>
<circle cx="450.8" cy="180.3" r="5.04" stroke-width="2.65" stroke-opacity="0.017"/>
<circle cx="356.2" cy="112.4" r="5.24" stroke-width="2.93" stroke-opacity="0.037"/>
<circle cx="396.7" cy="139.8" r="5.16" stroke-width="2.81" stroke-opacity="0.026"/>
<circle cx="304.4" cy="83.7" r="5.37" stroke-width="3.11" stroke-opacity="0.055"/>
<circle cx="205.8" cy="41.5" r="5.50" stroke-width="3.35" stroke-opacity="0.056"/>
<circle cx="363.0" cy="117.0" r="5.23" stroke-width="2.91" stroke-opacity="0.036"/>
<circle cx="362.8" cy="116.4" r="5.23" stroke-width="2.91" stroke-opacity="0.036"/>
<circle cx="363.5" cy="117.2" r="5.23" stroke-width="2.90" stroke-opacity="0.035"/>
<circle cx="329.7" cy="96.7" r="5.30" stroke-width="3.00" stroke-opacity="0.046"/>
<circle cx="459.7" cy="187.4" r="5.02" stroke-width="2.63" stroke-opacity="0.015"/>
<circle cx="284.2" cy="72.1" r="5.43" stroke-width="3.20" stroke-opacity="0.056"/>
<circle cx="323.1" cy="93.8" r="5.32" stroke-width="3.03" stroke-opacity="0.048"/>
<circle cx="377.8" cy="124.6" r="5.20" stroke-width="2.86" stroke-opacity="0.031"/>
<circle cx="176.8" cy="33.9" r="5.50" stroke-width="3.38" stroke-opacity="0.054"/>
<circle cx="422.1" cy="158.2" r="5.10" stroke-width="2.74" stroke-opacity="0.021"/>
<circle cx="173.8" cy="30.4" r="5.50" stroke-width="3.39" stroke-opacity="0.048"/>
<circle cx="460.1" cy="188.6" r="5.02" stroke-width="2.63" stroke-opacity="0.015"/>
<circle cx="394.2" cy="137.3" r="5.16" stroke-width="2.82" stroke-opacity="0.027"/>
<circle cx="352.0" cy="110.4" r="5.25" stroke-width="2.94" stroke-opacity="0.039"/>
<circle cx="262.0" cy="63.0" r="5.49" stroke-width="3.29" stroke-opacity="0.056"/>
<circle cx="187.2" cy="36.3" r="5.50" stroke-width="3.37" stroke-opacity="0.056"/>
<circle cx="386.0" cy="131.8" r="5.18" stroke-width="2.84" stroke-opacity="0.029"/>
<circle cx="353.4" cy="110.3" r="5.25" stroke-width="2.93" stroke-opacity="0.038"/>
<circle cx="362.6" cy="116.0" r="5.23" stroke-width="2.91" stroke-opacity="0.036"/>
<circle cx="257.3" cy="61.2" r="5.50" stroke-width="3.30" stroke-opacity="0.056"/>
<circle cx="395.6" cy="138.3" r="5.16" stroke-width="2.81" stroke-opacity="0.026"/>
<circle cx="288.9" cy="75.4" r="5.42" stroke-width="3.18" stroke-opacity="0.056"/>
<circle cx="246.2" cy="56.0" r="5.50" stroke-width="3.31" stroke-opacity="0.056"/>
<circle cx="453.9" cy="183.6" r="5.03" stroke-width="2.65" stroke-opacity="0.016"/>
<circle cx="313.9" cy="88.1" r="5.35" stroke-width="3.07" stroke-opacity="0.051"/>
<circle cx="425.9" cy="162.5" r="5.09" stroke-width="2.73" stroke-opacity="0.021"/>
<circle cx="450.6" cy="180.9" r="5.04" stroke-width="2.66" stroke-opacity="0.017"/>
<circle cx="160.4" cy="26.9" r="5.50" stroke-width="3.40" stroke-opacity="0.022"/>
<circle cx="223.2" cy="48.7" r="5.50" stroke-width="3.34" stroke-opacity="0.056"/>
<circle cx="302.4" cy="82.4" r="5.38" stroke-width="3.12" stroke-opacity="0.055"/>
<circle cx="160.6" cy="26.7" r="5.50" stroke-width="3.40" stroke-opacity="0.022"/>
<circle cx="294.1" cy="77.6" r="5.40" stroke-width="3.15" stroke-opacity="0.056"/>
<circle cx="460.8" cy="188.7" r="5.02" stroke-width="2.63" stroke-opacity="0.015"/>
<circle cx="208.6" cy="43.7" r="5.50" stroke-width="3.35" stroke-opacity="0.056"/>
<circle cx="344.1" cy="105.0" r="5.27" stroke-width="2.96" stroke-opacity="0.041"/>
<circle cx="462.3" cy="190.2" r="5.02" stroke-width="2.62" stroke-opacity="0.015"/>
<circle cx="161.1" cy="25.4" r="5.50" stroke-width="3.40" stroke-opacity="0.023"/>
<circle cx="284.9" cy="72.4" r="5.43" stroke-width="3.19" stroke-opacity="0.056"/>
<circle cx="185.6" cy="33.2" r="5.50" stroke-width="3.37" stroke-opacity="0.056"/>
<circle cx="350.8" cy="109.1" r="5.26" stroke-width="2.94" stroke-opacity="0.039"/>
<circle cx="339.0" cy="102.0" r="5.28" stroke-width="2.97" stroke-opacity="0.043"/>
<circle cx="176.4" cy="34.6" r="5.50" stroke-width="3.38" stroke-opacity="0.053"/>
<circle cx="167.4" cy="28.2" r="5.50" stroke-width="3.39" stroke-opacity="0.035"/>
<circle cx="284.1" cy="72.8" r="5.43" stroke-width="3.20" stroke-opacity="0.056"/>
<circle cx="267.5" cy="63.7" r="5.48" stroke-width="3.27" stroke-opacity="0.056"/>
<circle cx="209.2" cy="44.0" r="5.50" stroke-width="3.35" stroke-opacity="0.056"/>
<circle cx="349.3" cy="108.1" r="5.26" stroke-width="2.94" stroke-opacity="0.039"/>
<circle cx="423.1" cy="159.2" r="5.10" stroke-width="2.73" stroke-opacity="0.021"/>
<circle cx="408.5" cy="148.4" r="5.13" stroke-width="2.78" stroke-opacity="0.024"/>
<circle cx="313.7" cy="87.9" r="5.35" stroke-width="3.07" stroke-opacity="0.051"/>
<circle cx="348.8" cy="108.5" r="5.26" stroke-width="2.95" stroke-opacity="0.040"/>
<circle cx="253.8" cy="59.5" r="5.50" stroke-width="3.31" stroke-opacity="0.056"/>
<circle cx="398.4" cy="140.7" r="5.15" stroke-width="2.80" stroke-opacity="0.026"/>
<circle cx="441.6" cy="172.8" r="5.06" stroke-width="2.68" stroke-opacity="0.018"/>
<circle cx="430.3" cy="165.4" r="5.09" stroke-width="2.71" stroke-opacity="0.020"/>
<circle cx="333.6" cy="98.5" r="5.29" stroke-width="2.99" stroke-opacity="0.045"/>
<circle cx="282.9" cy="71.6" r="5.43" stroke-width="3.20" stroke-opacity="0.056"/>
<circle cx="337.6" cy="101.5" r="5.28" stroke-width="2.98" stroke-opacity="0.043"/>
<circle cx="184.9" cy="36.9" r="5.50" stroke-width="3.38" stroke-opacity="0.056"/>
<circle cx="372.5" cy="121.9" r="5.21" stroke-width="2.88" stroke-opacity="0.033"/>
<circle cx="422.7" cy="159.4" r="5.10" stroke-width="2.74" stroke-opacity="0.021"/>
<circle cx="221.7" cy="45.0" r="5.50" stroke-width="3.34" stroke-opacity="0.056"/>
<circle cx="445.1" cy="176.3" r="5.05" stroke-width="2.67" stroke-opacity="0.018"/>
<circle cx="370.8" cy="121.5" r="5.21" stroke-width="2.88" stroke-opacity="0.033"/>
<circle cx="275.4" cy="68.0" r="5.46" stroke-width="3.23" stroke-opacity="0.056"/>
<circle cx="306.7" cy="83.9" r="5.37" stroke-width="3.10" stroke-opacity="0.054"/>
<circle cx="321.5" cy="91.9" r="5.32" stroke-width="3.04" stroke-opacity="0.049"/>
<circle cx="163.8" cy="26.7" r="5.50" stroke-width="3.40" stroke-opacity="0.028"/>
<circle cx="458.2" cy="187.0" r="5.03" stroke-width="2.63" stroke-opacity="0.016"/>
<circle cx="395.4" cy="137.7" r="5.16" stroke-width="2.81" stroke-opacity="0.026"/>
<circle cx="254.0" cy="58.9" r="5.50" stroke-width="3.31" stroke-opacity="0.056"/>
<circle cx="228.2" cy="49.0" r="5.50" stroke-width="3.33" stroke-opacity="0.056"/>
<circle cx="164.7" cy="28.5" r="5.50" stroke-width="3.40" stroke-opacity="0.030"/>
<circle cx="224.8" cy="46.3" r="5.50" stroke-width="3.34" stroke-opacity="0.056"/>
<circle cx="428.2" cy="163.1" r="5.09" stroke-width="2.72" stroke-opacity="0.020"/>
<circle cx="218.5" cy="45.9" r="5.50" stroke-width="3.34" stroke-opacity="0.056"/>
<circle cx="335.5" cy="100.0" r="5.29" stroke-width="2.98" stroke-opacity="0.044"/>
<circle cx="323.9" cy="94.3" r="5.32" stroke-width="3.03" stroke-opacity="0.048"/>
<circle cx="193.2" cy="35.9" r="5.50" stroke-width="3.37" stroke-opacity="0.056"/>
<circle cx="179.5" cy="33.8" r="5.50" stroke-width="3.38" stroke-opacity="0.056"/>
<circle cx="230.5" cy="51.1" r="5.50" stroke-width="3.33" stroke-opacity="0.056"/>
<circle cx="446.8" cy="177.9" r="5.05" stroke-width="2.67" stroke-opacity="0.017"/>
<circle cx="274.9" cy="68.1" r="5.46" stroke-width="3.24" stroke-opacity="0.056"/>
<circle cx="217.9" cy="46.9" r="5.50" stroke-width="3.34" stroke-opacity="0.056"/>
<circle cx="396.8" cy="139.3" r="5.16" stroke-width="2.81" stroke-opacity="0.026"/>
<circle cx="192.8" cy="38.4" r="5.50" stroke-width="3.37" stroke-opacity="0.056"/>
<circle cx="431.2" cy="166.4" r="5.08" stroke-width="2.71" stroke-opacity="0.020"/>
<circle cx="366.3" cy="118.3" r="5.22" stroke-width="2.90" stroke-opacity="0.035"/>
<circle cx="470.6" cy="197.5" r="5.00" stroke-width="2.60" stroke-opacity="0.014"/>
<circle cx="392.0" cy="135.4" r="5.17" stroke-width="2.82" stroke-opacity="0.027"/>
<circle cx="467.2" cy="194.4" r="5.01" stroke-width="2.61" stroke-opacity="0.014"/>
<circle cx="459.2" cy="187.0" r="5.02" stroke-width="2.63" stroke-opacity="0.015"/>
<circle cx="338.8" cy="102.4" r="5.28" stroke-width="2.97" stroke-opacity="0.043"/>
<circle cx="448.2" cy="179.3" r="5.05" stroke-width="2.66" stroke-opacity="0.017"/>
<circle cx="370.2" cy="120.5" r="5.21" stroke-width="2.89" stroke-opacity="0.034"/>
<circle cx="371.1" cy="120.8" r="5.21" stroke-width="2.88" stroke-opacity="0.033"/>
<circle cx="380.1" cy="126.6" r="5.19" stroke-width="2.86" stroke-opacity="0.031"/>
<circle cx="263.9" cy="63.3" r="5.49" stroke-width="3.28" stroke-opacity="0.056"/>
<circle cx="336.7" cy="100.5" r="5.29" stroke-width="2.98" stroke-opacity="0.044"/>
<circle cx="460.7" cy="188.5" r="5.02" stroke-width="2.63" stroke-opacity="0.015"/>
<circle cx="420.8" cy="158.5" r="5.11" stroke-width="2.74" stroke-opacity="0.022"/>
<circle cx="323.3" cy="93.9" r="5.32" stroke-width="3.03" stroke-opacity="0.048"/>
<circle cx="460.4" cy="187.9" r="5.02" stroke-width="2.63" stroke-opacity="0.015"/>
<circle cx="313.0" cy="88.0" r="5.35" stroke-width="3.07" stroke-opacity="0.052"/>
<circle cx="464.7" cy="192.7" r="5.01" stroke-width="2.62" stroke-opacity="0.015"/>
<circle cx="469.6" cy="196.3" r="5.00" stroke-width="2.60" stroke-opacity="0.014"/>
<circle cx="378.0" cy="124.8" r="5.20" stroke-width="2.86" stroke-opacity="0.031"/>
<circle cx="290.7" cy="75.5" r="5.41" stroke-width="3.17" stroke-opacity="0.056"/>
<circle cx="456.9" cy="186.2" r="5.03" stroke-width="2.64" stroke-opacity="0.016"/>
<circle cx="443.2" cy="174.4" r="5.06" stroke-width="2.68" stroke-opacity="0.018"/>
<circle cx="396.6" cy="138.8" r="5.16" stroke-width="2.81" stroke-opacity="0.026"/>
<circle cx="331.2" cy="98.1" r="5.30" stroke-width="3.00" stroke-opacity="0.046"/>
<circle cx="356.2" cy="113.1" r="5.24" stroke-width="2.93" stroke-opacity="0.037"/>
<circle cx="236.0" cy="52.3" r="5.50" stroke-width="3.32" stroke-opacity="0.056"/>
<circle cx="330.3" cy="97.1" r="5.30" stroke-width="3.00" stroke-opacity="0.046"/>
<circle cx="426.6" cy="161.8" r="5.09" stroke-width="2.72" stroke-opacity="0.021"/>
<circle cx="256.1" cy="58.9" r="5.50" stroke-width="3.30" stroke-opacity="0.056"/>
<circle cx="360.9" cy="114.7" r="5.23" stroke-width="2.91" stroke-opacity="0.036"/>
<circle cx="424.4" cy="160.3" r="5.10" stroke-width="2.73" stroke-opacity="0.021"/>
<circle cx="217.1" cy="43.9" r="5.50" stroke-width="3.34" stroke-opacity="0.056"/>
<circle cx="443.3" cy="175.0" r="5.06" stroke-width="2.68" stroke-opacity="0.018"/>
<circle cx="330.3" cy="97.3" r="5.30" stroke-width="3.00" stroke-opacity="0.046"/>
<circle cx="453.1" cy="182.0" r="5.04" stroke-width="2.65" stroke-opacity="0.016"/>
<circle cx="318.7" cy="91.1" r="5.33" stroke-width="3.05" stroke-opacity="0.050"/>
<circle cx="453.5" cy="183.2" r="5.04" stroke-width="2.65" stroke-opacity="0.016"/>
<circle cx="366.8" cy="119.3" r="5.22" stroke-width="2.89" stroke-opacity="0.034"/>
<circle cx="432.8" cy="166.7" r="5.08" stroke-width="2.71" stroke-opacity="0.020"/>
<circle cx="261.6" cy="61.6" r="5.50" stroke-width="3.29" stroke-opacity="0.056"/>
<circle cx="469.3" cy="195.4" r="5.00" stroke-width="2.60" stroke-opacity="0.014"/>
<circle cx="345.2" cy="105.9" r="5.27" stroke-width="2.96" stroke-opacity="0.041"/>
<circle cx="392.5" cy="136.6" r="5.17" stroke-width="2.82" stroke-opacity="0.027"/>
<circle cx="201.2" cy="40.9" r="5.50" stroke-width="3.36" stroke-opacity="0.056"/>
<circle cx="188.6" cy="33.7" r="5.50" stroke-width="3.37" stroke-opacity="0.056"/>
<circle cx="170.4" cy="32.7" r="5.50" stroke-width="3.39" stroke-opacity="0.041"/>
<circle cx="211.6" cy="45.5" r="5.50" stroke-width="3.35" stroke-opacity="0.056"/>
<circle cx="316.5" cy="89.1" r="5.34" stroke-width="3.06" stroke-opacity="0.050"/>
<circle cx="441.2" cy="173.2" r="5.06" stroke-width="2.68" stroke-opacity="0.018"/>
<circle cx="232.9" cy="49.6" r="5.50" stroke-width="3.33" stroke-opacity="0.056"/>
<circle cx="203.9" cy="42.3" r="5.50" stroke-width="3.36" stroke-opacity="0.056"/>
<circle cx="358.0" cy="114.2" r="5.24" stroke-width="2.92" stroke-opacity="0.037"/>
<circle cx="221.4" cy="47.9" r="5.50" stroke-width="3.34" stroke-opacity="0.056"/>
<circle cx="432.3" cy="165.8" r="5.08" stroke-width="2.71" stroke-opacity="0.020"/>
<circle cx="304.1" cy="83.6" r="5.37" stroke-width="3.11" stroke-opacity="0.055"/>
<circle cx="164.1" cy="26.8" r="5.50" stroke-width="3.40" stroke-opacity="0.029"/>
<circle cx="441.3" cy="173.2" r="5.06" stroke-width="2.68" stroke-opacity="0.018"/>
<circle cx="276.8" cy="69.8" r="5.45" stroke-width="3.23" stroke-opacity="0.056"/>
<circle cx="215.8" cy="45.8" r="5.50" stroke-width="3.34" stroke-opacity="0.056"/>
<circle cx="338.9" cy="102.5" r="5.28" stroke-width="2.97" stroke-opacity="0.043"/>
<circle cx="432.9" cy="167.6" r="5.08" stroke-width="2.71" stroke-opacity="0.020"/>
<circle cx="421.6" cy="158.6" r="5.10" stroke-width="2.74" stroke-opacity="0.022"/>
<circle cx="251.2" cy="56.2" r="5.50" stroke-width="3.31" stroke-opacity="0.056"/>
<circle cx="168.6" cy="29.8" r="5.50" stroke-width="3.39" stroke-opacity="0.037"/>
<circle cx="449.2" cy="179.1" r="5.04" stroke-width="2.66" stroke-opacity="0.017"/>
<circle cx="168.6" cy="31.3" r="5.50" stroke-width="3.39" stroke-opacity="0.038"/>
<circle cx="339.9" cy="102.4" r="5.28" stroke-width="2.97" stroke-opacity="0.043"/>
<circle cx="272.4" cy="66.7" r="5.46" stroke-width="3.25" stroke-opacity="0.056"/>
<circle cx="402.3" cy="142.9" r="5.15" stroke-width="2.79" stroke-opacity="0.025"/>
<circle cx="238.3" cy="52.5" r="5.50" stroke-width="3.32" stroke-opacity="0.056"/>
<circle cx="323.0" cy="92.7" r="5.32" stroke-width="3.03" stroke-opacity="0.048"/>
<circle cx="341.0" cy="103.9" r="5.28" stroke-width="2.97" stroke-opacity="0.042"/>
<circle cx="375.9" cy="123.6" r="5.20" stroke-width="2.87" stroke-opacity="0.032"/>
<circle cx="412.9" cy="151.1" r="5.12" stroke-width="2.76" stroke-opacity="0.023"/>
<circle cx="309.8" cy="85.7" r="5.36" stroke-width="3.09" stroke-opacity="0.053"/>
<circle cx="331.6" cy="98.8" r="5.30" stroke-width="3.00" stroke-opacity="0.045"/>
<circle cx="465.5" cy="192.8" r="5.01" stroke-width="2.61" stroke-opacity="0.014"/>
<circle cx="368.3" cy="120.0" r="5.22" stroke-width="2.89" stroke-opacity="0.034"/>
<circle cx="365.4" cy="117.3" r="5.3" stroke-width="3.4" stroke-opacity="0.100"/>
<circle cx="373.5" cy="122.8" r="5.3" stroke-width="3.4" stroke-opacity="0.097"/>
<circle cx="380.7" cy="126.8" r="5.3" stroke-width="3.4" stroke-opacity="0.095"/>
<circle cx="387.1" cy="131.2" r="5.3" stroke-width="3.4" stroke-opacity="0.092"/>
<circle cx="394.7" cy="136.5" r="5.3" stroke-width="3.4" stroke-opacity="0.089"/>
<circle cx="401.0" cy="142.5" r="5.3" stroke-width="3.4" stroke-opacity="0.087"/>
<circle cx="407.7" cy="147.2" r="5.3" stroke-width="3.4" stroke-opacity="0.085"/>
<circle cx="414.0" cy="153.1" r="5.3" stroke-width="3.4" stroke-opacity="0.082"/>
<circle cx="420.6" cy="158.1" r="5.3" stroke-width="3.4" stroke-opacity="0.080"/>
<circle cx="427.3" cy="163.2" r="5.3" stroke-width="3.4" stroke-opacity="0.077"/>
<circle cx="434.9" cy="168.3" r="5.3" stroke-width="3.4" stroke-opacity="0.074"/>
<circle cx="441.7" cy="172.9" r="5.3" stroke-width="3.4" stroke-opacity="0.072"/>
<circle cx="448.1" cy="178.5" r="5.3" stroke-width="3.4" stroke-opacity="0.070"/>
<circle cx="455.4" cy="183.9" r="5.3" stroke-width="3.4" stroke-opacity="0.067"/>
<circle cx="461.4" cy="190.0" r="5.3" stroke-width="3.4" stroke-opacity="0.065"/>
<circle cx="468.0" cy="195.2" r="5.3" stroke-width="3.4" stroke-opacity="0.062"/>
</g>
<g fill="none" stroke="#6c64b9" stroke-width="3.3">
<circle cx="491.0" cy="211.5" r="5.1"/>
<circle cx="495.0" cy="219.5" r="5.1"/>
<circle cx="499.0" cy="218.0" r="5.1"/>
<circle cx="503.0" cy="226.0" r="5.1"/>
<circle cx="507.0" cy="225.5" r="5.1"/>
<circle cx="511.0" cy="236.0" r="5.1"/>
<circle cx="515.0" cy="233.5" r="5.1"/>
<circle cx="518.0" cy="238.5" r="5.1"/>
<circle cx="479.5" cy="204.2" r="5.1"/>
<circle cx="489.5" cy="213.5" r="5.1"/>
<circle cx="492.0" cy="215.5" r="5.1"/>
<circle cx="494.5" cy="217.3" r="5.1"/>
<circle cx="497.5" cy="219.0" r="5.1"/>
<circle cx="500.4" cy="221.3" r="5.1"/>
<circle cx="506.5" cy="228.5" r="5.1"/>
<circle cx="508.5" cy="230.5" r="5.1"/>
<circle cx="511.0" cy="233.0" r="5.1"/>
<circle cx="514.2" cy="236.5" r="5.1"/>
<circle cx="527.3" cy="250.5" r="5.1"/>
<circle cx="541.5" cy="265.0" r="5.1"/>
<circle cx="543.3" cy="266.6" r="5.1"/>
<circle cx="547.5" cy="271.0" r="5.1"/>
<circle cx="552.1" cy="276.0" r="5.1"/>
<circle cx="555.5" cy="280.0" r="5.1"/>
<circle cx="559.3" cy="283.8" r="5.1"/>
<circle cx="565.4" cy="292.6" r="5.1"/>
<circle cx="572.1" cy="299.3" r="5.1"/>
<circle cx="578.7" cy="307.6" r="5.1"/>
<circle cx="584.3" cy="314.2" r="5.1"/>
<circle cx="596.6" cy="330.9" r="5.1"/>
<circle cx="598.8" cy="332.6" r="5.1"/>
<circle cx="606.6" cy="344.9" r="5.1"/>
<circle cx="611.0" cy="349.3" r="5.1"/>
<circle cx="616.6" cy="357.7" r="5.1"/>
<circle cx="634.5" cy="382.6" r="5.1"/>
<circle cx="636.0" cy="384.5" r="5.1"/>
<circle cx="637.6" cy="387.4" r="5.1"/>
<circle cx="652.8" cy="411.1" r="5.1"/>
<circle cx="656.6" cy="416.8" r="5.1"/>
<circle cx="661.1" cy="422.5" r="5.1"/>
<circle cx="665.5" cy="429.4" r="5.1"/>
<circle cx="677.5" cy="448.4" r="5.1"/>
<circle cx="680.7" cy="451.6" r="5.1"/>
<circle cx="692.0" cy="475.6" r="5.1"/>
<circle cx="693.0" cy="477.0" r="5.1"/>
<circle cx="709.3" cy="506.4" r="5.1"/>
<circle cx="397.0" cy="6.5" r="5.1"/>
<circle cx="401.5" cy="6.5" r="5.1"/>
<circle cx="406.1" cy="6.5" r="5.1"/>
<circle cx="410.6" cy="6.5" r="5.1"/>
<circle cx="415.1" cy="6.5" r="5.1"/>
<circle cx="419.6" cy="6.5" r="5.1"/>
<circle cx="424.2" cy="6.5" r="5.1"/>
<circle cx="428.7" cy="6.5" r="5.1"/>
<circle cx="433.2" cy="6.5" r="5.1"/>
<circle cx="437.8" cy="6.5" r="5.1"/>
<circle cx="442.3" cy="6.5" r="5.1"/>
<circle cx="446.8" cy="6.5" r="5.1"/>
<circle cx="451.4" cy="6.5" r="5.1"/>
<circle cx="455.9" cy="6.5" r="5.1"/>
<circle cx="460.4" cy="6.5" r="5.1"/>
<circle cx="464.9" cy="6.5" r="5.1"/>
<circle cx="469.5" cy="6.5" r="5.1"/>
<circle cx="474.0" cy="6.5" r="5.1"/>
</g>
<g fill="none" stroke="#0f976c" stroke-width="3">
<circle cx="152.0" cy="6.5" r="5.3"/>
<circle cx="154.0" cy="6.5" r="5.3"/>
<circle cx="156.0" cy="6.5" r="5.3"/>
<circle cx="158.0" cy="6.5" r="5.3"/>
<circle cx="160.0" cy="6.5" r="5.3"/>
<circle cx="162.0" cy="6.5" r="5.3"/>
<circle cx="164.0" cy="6.5" r="5.3"/>
<circle cx="166.0" cy="6.5" r="5.3"/>
<circle cx="168.0" cy="6.5" r="5.3"/>
<circle cx="170.0" cy="6.5" r="5.3"/>
<circle cx="172.0" cy="6.5" r="5.3"/>
<circle cx="174.0" cy="6.5" r="5.3"/>
<circle cx="176.0" cy="6.5" r="5.3"/>
<circle cx="178.0" cy="6.5" r="5.3"/>
<circle cx="180.0" cy="6.5" r="5.3"/>
<circle cx="182.0" cy="6.5" r="5.3"/>
<circle cx="184.0" cy="6.5" r="5.3"/>
<circle cx="186.0" cy="6.5" r="5.3"/>
<circle cx="188.0" cy="6.5" r="5.3"/>
<circle cx="190.0" cy="6.5" r="5.3"/>
<circle cx="192.0" cy="6.5" r="5.3"/>
<circle cx="194.0" cy="6.5" r="5.3"/>
<circle cx="196.0" cy="6.5" r="5.3"/>
<circle cx="198.0" cy="6.5" r="5.3"/>
<circle cx="200.0" cy="6.5" r="5.3"/>
<circle cx="202.0" cy="6.5" r="5.3"/>
<circle cx="204.0" cy="6.5" r="5.3"/>
<circle cx="206.0" cy="6.5" r="5.3"/>
<circle cx="208.0" cy="6.5" r="5.3"/>
<circle cx="210.0" cy="6.5" r="5.3"/>
<circle cx="212.0" cy="6.5" r="5.3"/>
<circle cx="214.0" cy="6.5" r="5.3"/>
<circle cx="216.0" cy="6.5" r="5.3"/>
<circle cx="218.0" cy="6.5" r="5.3"/>
<circle cx="220.0" cy="6.5" r="5.3"/>
<circle cx="222.0" cy="6.5" r="5.3"/>
<circle cx="224.0" cy="6.5" r="5.3"/>
<circle cx="226.0" cy="6.5" r="5.3"/>
<circle cx="228.0" cy="6.5" r="5.3"/>
<circle cx="230.0" cy="6.5" r="5.3"/>
<circle cx="232.0" cy="6.5" r="5.3"/>
<circle cx="234.0" cy="6.5" r="5.3"/>
<circle cx="236.0" cy="6.5" r="5.3"/>
<circle cx="238.0" cy="6.5" r="5.3"/>
<circle cx="240.0" cy="6.5" r="5.3"/>
<circle cx="242.0" cy="6.5" r="5.3"/>
<circle cx="244.0" cy="6.5" r="5.3"/>
<circle cx="246.0" cy="6.5" r="5.3"/>
<circle cx="248.0" cy="6.5" r="5.3"/>
<circle cx="250.0" cy="6.5" r="5.3"/>
<circle cx="252.0" cy="6.5" r="5.3"/>
<circle cx="254.0" cy="6.5" r="5.3"/>
<circle cx="256.0" cy="6.5" r="5.3"/>
<circle cx="258.0" cy="6.5" r="5.3"/>
<circle cx="260.0" cy="6.5" r="5.3"/>
<circle cx="262.0" cy="6.5" r="5.3"/>
<circle cx="264.0" cy="6.5" r="5.3"/>
<circle cx="266.0" cy="6.5" r="5.3"/>
<circle cx="268.0" cy="6.5" r="5.3"/>
<circle cx="270.0" cy="6.5" r="5.3"/>
<circle cx="272.0" cy="6.5" r="5.3"/>
<circle cx="274.0" cy="6.5" r="5.3"/>
<circle cx="276.0" cy="6.5" r="5.3"/>
<circle cx="278.0" cy="6.5" r="5.3"/>
<circle cx="280.0" cy="6.5" r="5.3"/>
<circle cx="282.0" cy="6.5" r="5.3"/>
<circle cx="284.0" cy="6.5" r="5.3"/>
<circle cx="286.0" cy="6.5" r="5.3"/>
<circle cx="288.0" cy="6.5" r="5.3"/>
<circle cx="290.0" cy="6.5" r="5.3"/>
<circle cx="292.0" cy="6.5" r="5.3"/>
<circle cx="294.0" cy="6.5" r="5.3"/>
<circle cx="296.0" cy="6.5" r="5.3"/>
<circle cx="298.0" cy="6.5" r="5.3"/>
<circle cx="300.0" cy="6.5" r="5.3"/>
<circle cx="302.0" cy="6.5" r="5.3"/>
<circle cx="304.0" cy="6.5" r="5.3"/>
<circle cx="306.0" cy="6.5" r="5.3"/>
<circle cx="308.0" cy="6.5" r="5.3"/>
<circle cx="310.0" cy="6.5" r="5.3"/>
<circle cx="312.0" cy="6.5" r="5.3"/>
<circle cx="314.0" cy="6.5" r="5.3"/>
<circle cx="316.0" cy="6.5" r="5.3"/>
<circle cx="318.0" cy="6.5" r="5.3"/>
<circle cx="320.0" cy="6.5" r="5.3"/>
<circle cx="322.0" cy="6.5" r="5.3"/>
<circle cx="324.0" cy="6.5" r="5.3"/>
<circle cx="326.0" cy="6.5" r="5.3"/>
<circle cx="328.0" cy="6.5" r="5.3"/>
<circle cx="330.0" cy="6.5" r="5.3"/>
<circle cx="332.0" cy="6.5" r="5.3"/>
<circle cx="334.0" cy="6.5" r="5.3"/>
<circle cx="336.0" cy="6.5" r="5.3"/>
<circle cx="338.0" cy="6.5" r="5.3"/>
<circle cx="340.0" cy="6.5" r="5.3"/>
<circle cx="342.0" cy="6.5" r="5.3"/>
<circle cx="344.0" cy="6.5" r="5.3"/>
<circle cx="346.0" cy="6.5" r="5.3"/>
<circle cx="348.0" cy="6.5" r="5.3"/>
<circle cx="350.0" cy="6.5" r="5.3"/>
<circle cx="352.0" cy="6.5" r="5.3"/>
<circle cx="354.0" cy="6.5" r="5.3"/>
<circle cx="356.0" cy="6.5" r="5.3"/>
<circle cx="358.0" cy="6.5" r="5.3"/>
<circle cx="360.0" cy="6.5" r="5.3"/>
<circle cx="362.0" cy="6.5" r="5.3"/>
<circle cx="364.0" cy="6.5" r="5.3"/>
<circle cx="366.0" cy="6.5" r="5.3"/>
<circle cx="368.0" cy="6.5" r="5.3"/>
<circle cx="370.0" cy="6.5" r="5.3"/>
<circle cx="372.0" cy="6.5" r="5.3"/>
<circle cx="374.0" cy="6.5" r="5.3"/>
<circle cx="376.0" cy="6.5" r="5.3"/>
<circle cx="378.0" cy="6.5" r="5.3"/>
<circle cx="380.0" cy="6.5" r="5.3"/>
<circle cx="382.0" cy="6.5" r="5.3"/>
<circle cx="384.0" cy="6.5" r="5.3"/>
<circle cx="386.0" cy="6.5" r="5.3"/>
<circle cx="388.0" cy="6.5" r="5.3"/>
<circle cx="399.0" cy="6.5" r="5.3"/>
<circle cx="442.0" cy="6.5" r="5.3"/>
<circle cx="476.0" cy="6.5" r="5.3"/>
<circle cx="512.0" cy="6.5" r="5.3"/>
<circle cx="196.1" cy="83.3" r="5.3"/>
<circle cx="220.7" cy="59.5" r="5.3"/>
<circle cx="234.2" cy="57.9" r="5.3"/>
<circle cx="246.1" cy="71.4" r="5.3"/>
<circle cx="251.7" cy="50.8" r="5.3"/>
<circle cx="248.5" cy="54.8" r="5.3"/>
<circle cx="257.3" cy="65.1" r="5.3"/>
<circle cx="276.3" cy="59.5" r="5.3"/>
<circle cx="287.4" cy="69.0" r="5.3"/>
<circle cx="253.3" cy="85.7" r="5.3"/>
<circle cx="245.3" cy="94.4" r="5.3"/>
<circle cx="272.3" cy="82.5" r="5.3"/>
<circle cx="271.5" cy="87.3" r="5.3"/>
<circle cx="280.3" cy="92.9" r="5.3"/>
<circle cx="195.8" cy="28.8" r="5.3"/>
<circle cx="206.4" cy="32.6" r="5.3"/>
<circle cx="207.6" cy="18.6" r="5.3"/>
<circle cx="216.1" cy="21.2" r="5.3"/>
<circle cx="217.5" cy="22.9" r="5.3"/>
<circle cx="224.3" cy="17.0" r="5.3"/>
<circle cx="232.8" cy="20.3" r="5.3"/>
<circle cx="231.9" cy="29.7" r="5.3"/>
<circle cx="240.4" cy="17.8" r="5.3"/>
<circle cx="243.8" cy="28.0" r="5.3"/>
<circle cx="250.6" cy="28.8" r="5.3"/>
<circle cx="263.3" cy="23.7" r="5.3"/>
<circle cx="262.0" cy="33.0" r="5.3"/>
<circle cx="272.6" cy="36.4" r="5.3"/>
<circle cx="276.0" cy="39.0" r="5.3"/>
<circle cx="280.2" cy="20.3" r="5.3"/>
<circle cx="287.0" cy="20.3" r="5.3"/>
<circle cx="285.3" cy="30.5" r="5.3"/>
<circle cx="252.3" cy="47.5" r="5.3"/>
<circle cx="261.8" cy="118.4" r="5.3"/>
<circle cx="275.7" cy="124.9" r="5.3"/>
<circle cx="276.2" cy="137.6" r="5.3"/>
<circle cx="257.2" cy="141.9" r="5.3"/>
<circle cx="236.7" cy="153.8" r="5.3"/>
<circle cx="310.1" cy="106.5" r="5.3"/>
<circle cx="330.1" cy="122.2" r="5.3"/>
<circle cx="312.7" cy="133.5" r="5.3"/>
<circle cx="333.4" cy="137.6" r="5.3"/>
<circle cx="317.5" cy="164.7" r="5.3"/>
<circle cx="317.0" cy="170.5" r="5.3"/>
<circle cx="252.2" cy="224.2" r="5.3"/>
<circle cx="337.7" cy="102.7" r="5.3"/>
<circle cx="254.2" cy="347.6" r="5.3"/>
<circle cx="312.0" cy="22.5" r="5.3"/>
<circle cx="313.5" cy="25.0" r="5.3"/>
<circle cx="326.3" cy="16.7" r="5.3"/>
<circle cx="337.4" cy="16.7" r="5.3"/>
<circle cx="337.4" cy="30.2" r="5.3"/>
<circle cx="340.6" cy="36.5" r="5.3"/>
<circle cx="348.5" cy="31.7" r="5.3"/>
<circle cx="351.7" cy="39.7" r="5.3"/>
<circle cx="331.0" cy="39.7" r="5.3"/>
<circle cx="306.4" cy="44.4" r="5.3"/>
<circle cx="318.3" cy="47.6" r="5.3"/>
<circle cx="316.0" cy="52.4" r="5.3"/>
<circle cx="318.3" cy="59.5" r="5.3"/>
<circle cx="332.6" cy="61.1" r="5.3"/>
<circle cx="343.7" cy="66.7" r="5.3"/>
<circle cx="334.2" cy="69.8" r="5.3"/>
<circle cx="289.0" cy="69.8" r="5.3"/>
<circle cx="285.0" cy="92.0" r="5.3"/>
<circle cx="369.9" cy="27.8" r="5.3"/>
<circle cx="398.5" cy="23.8" r="5.3"/>
<circle cx="383.4" cy="50.8" r="5.3"/>
<circle cx="366.7" cy="55.6" r="5.3"/>
<circle cx="358.8" cy="59.5" r="5.3"/>
<circle cx="367.5" cy="63.5" r="5.3"/>
<circle cx="375.5" cy="72.2" r="5.3"/>
<circle cx="372.3" cy="80.2" r="5.3"/>
<circle cx="396.1" cy="66.7" r="5.3"/>
<circle cx="396.9" cy="77.0" r="5.3"/>
<circle cx="412.0" cy="50.8" r="5.3"/>
<circle cx="427.1" cy="39.7" r="5.3"/>
<circle cx="426.3" cy="49.2" r="5.3"/>
<circle cx="419.9" cy="73.8" r="5.3"/>
<circle cx="432.6" cy="71.4" r="5.3"/>
<circle cx="358.0" cy="93.7" r="5.3"/>
<circle cx="369.1" cy="93.7" r="5.3"/>
<circle cx="396.1" cy="95.2" r="5.3"/>
<circle cx="386.6" cy="97.6" r="5.3"/>
<circle cx="429.4" cy="96.8" r="5.3"/>
<circle cx="440.3" cy="59.5" r="5.3"/>
<circle cx="434.8" cy="62.7" r="5.3"/>
<circle cx="434.0" cy="95.2" r="5.3"/>
<circle cx="462.5" cy="92.0" r="5.3"/>
<circle cx="507.0" cy="102.0" r="5.3"/>
<circle cx="339.8" cy="102.7" r="5.3"/>
<circle cx="352.5" cy="103.5" r="5.3"/>
<circle cx="358.0" cy="112.2" r="5.3"/>
<circle cx="362.8" cy="111.4" r="5.3"/>
<circle cx="358.8" cy="93.2" r="5.3"/>
<circle cx="368.3" cy="94.8" r="5.3"/>
<circle cx="374.7" cy="140.0" r="5.3"/>
<circle cx="388.2" cy="144.8" r="5.3"/>
<circle cx="386.6" cy="150.3" r="5.3"/>
<circle cx="385.8" cy="119.4" r="5.3"/>
<circle cx="389.0" cy="105.9" r="5.3"/>
<circle cx="388.2" cy="99.5" r="5.3"/>
<circle cx="412.0" cy="123.3" r="5.3"/>
<circle cx="433.4" cy="107.5" r="5.3"/>
<circle cx="400.9" cy="167.8" r="5.3"/>
<circle cx="406.4" cy="166.2" r="5.3"/>
<circle cx="397.7" cy="180.5" r="5.3"/>
<circle cx="394.5" cy="186.8" r="5.3"/>
<circle cx="425.5" cy="187.6" r="5.3"/>
<circle cx="351.7" cy="165.4" r="5.3"/>
<circle cx="362.8" cy="171.0" r="5.3"/>
<circle cx="457.0" cy="121.7" r="5.3"/>
<circle cx="491.1" cy="116.2" r="5.3"/>
<circle cx="449.8" cy="187.5" r="5.3"/>
<circle cx="352.5" cy="207.8" r="5.3"/>
<circle cx="356.4" cy="265.7" r="5.3"/>
<circle cx="379.4" cy="244.3" r="5.3"/>
<circle cx="385.8" cy="248.3" r="5.3"/>
<circle cx="398.5" cy="266.5" r="5.3"/>
<circle cx="416.7" cy="262.5" r="5.3"/>
<circle cx="428.7" cy="269.7" r="5.3"/>
<circle cx="410.4" cy="276.5" r="5.3"/>
<circle cx="404.0" cy="209.4" r="5.3"/>
<circle cx="422.3" cy="211.7" r="5.3"/>
<circle cx="429.4" cy="205.4" r="5.3"/>
<circle cx="436.3" cy="195.1" r="5.3"/>
<circle cx="430.8" cy="205.4" r="5.3"/>
<circle cx="465.7" cy="207.0" r="5.3"/>
<circle cx="456.2" cy="214.9" r="5.3"/>
<circle cx="439.5" cy="226.0" r="5.3"/>
<circle cx="473.7" cy="195.1" r="5.3"/>
<circle cx="470.5" cy="199.0" r="5.3"/>
<circle cx="509.4" cy="252.2" r="5.3"/>
<circle cx="494.3" cy="270.5" r="5.3"/>
<circle cx="448.3" cy="275.8" r="5.3"/>
<circle cx="497.0" cy="297.0" r="5.3"/>
<circle cx="505.9" cy="309.7" r="5.3"/>
<circle cx="545.9" cy="293.8" r="5.3"/>
<circle cx="454.6" cy="332.7" r="5.3"/>
<circle cx="494.3" cy="339.0" r="5.3"/>
<circle cx="514.1" cy="339.0" r="5.3"/>
<circle cx="527.6" cy="350.2" r="5.3"/>
<circle cx="557.8" cy="335.1" r="5.3"/>
<circle cx="559.4" cy="346.2" r="5.3"/>
<circle cx="469.7" cy="360.0" r="5.3"/>
<circle cx="494.7" cy="367.2" r="5.3"/>
<circle cx="379.8" cy="297.0" r="5.3"/>
<circle cx="424.7" cy="302.5" r="5.3"/>
<circle cx="491.1" cy="385.1" r="5.3"/>
<circle cx="543.0" cy="393.3" r="5.3"/>
<circle cx="552.2" cy="383.0" r="5.3"/>
<circle cx="577.8" cy="376.7" r="5.3"/>
<circle cx="579.0" cy="392.0" r="5.3"/>
<circle cx="597.8" cy="390.2" r="5.3"/>
<circle cx="606.8" cy="396.5" r="5.3"/>
<circle cx="611.0" cy="375.4" r="5.3"/>
<circle cx="637.5" cy="390.2" r="5.3"/>
<circle cx="652.5" cy="388.6" r="5.3"/>
<circle cx="664.9" cy="404.4" r="5.3"/>
<circle cx="677.1" cy="406.8" r="5.3"/>
<circle cx="692.5" cy="412.7" r="5.3"/>
<circle cx="550.6" cy="455.6" r="5.3"/>
<circle cx="566.4" cy="498.4" r="5.3"/>
<circle cx="598.1" cy="470.5" r="5.3"/>
<circle cx="616.7" cy="474.4" r="5.3"/>
<circle cx="655.7" cy="490.5" r="5.3"/>
<circle cx="665.3" cy="486.1" r="5.3"/>
<circle cx="679.9" cy="502.3" r="5.3"/>
<circle cx="692.0" cy="509.4" r="5.3"/>
<circle cx="714.2" cy="476.4" r="5.3"/>
<circle cx="765.2" cy="490.3" r="5.3"/>
<circle cx="772.0" cy="499.2" r="5.3"/>
<circle cx="780.4" cy="508.9" r="5.3"/>
<circle cx="584.6" cy="254.6" r="5.3"/>
<circle cx="596.6" cy="310.9" r="5.3"/>
<circle cx="611.3" cy="334.4" r="5.3"/>
<circle cx="636.6" cy="328.3" r="5.3"/>
<circle cx="339.0" cy="31.7" r="5.3"/>
<circle cx="345.3" cy="36.5" r="5.3"/>
<circle cx="335.8" cy="33.3" r="5.3"/>
<circle cx="312.8" cy="26.2" r="5.3"/>
<circle cx="219.5" cy="15.5" r="5.3"/>
<circle cx="227.0" cy="18.5" r="5.3"/>
<circle cx="236.0" cy="15.0" r="5.3"/>
<circle cx="245.0" cy="18.5" r="5.3"/>
<circle cx="248.0" cy="14.5" r="5.3"/>
</g>
</g>
<line x1="250.7" y1="6.5" x2="250.7" y2="509.0" stroke="#b2b2b2" stroke-width="1" stroke-dasharray="2.6,3.5"/>
<line x1="362.0" y1="6.5" x2="362.0" y2="509.0" stroke="#b2b2b2" stroke-width="1" stroke-dasharray="2.6,3.5"/>
<line x1="473.3" y1="6.5" x2="473.3" y2="509.0" stroke="#b2b2b2" stroke-width="1" stroke-dasharray="2.6,3.5"/>
<line x1="584.6" y1="6.5" x2="584.6" y2="509.0" stroke="#b2b2b2" stroke-width="1" stroke-dasharray="2.6,3.5"/>
<line x1="695.9" y1="6.5" x2="695.9" y2="509.0" stroke="#b2b2b2" stroke-width="1" stroke-dasharray="2.6,3.5"/>
<line x1="807.2" y1="6.5" x2="807.2" y2="509.0" stroke="#b2b2b2" stroke-width="1" stroke-dasharray="2.6,3.5"/>
<line x1="139.4" y1="495.8" x2="918.6" y2="495.8" stroke="#b2b2b2" stroke-width="1" stroke-dasharray="2.6,3.5"/>
<line x1="139.4" y1="425.9" x2="918.6" y2="425.9" stroke="#b2b2b2" stroke-width="1" stroke-dasharray="2.6,3.5"/>
<line x1="139.4" y1="356.0" x2="918.6" y2="356.0" stroke="#b2b2b2" stroke-width="1" stroke-dasharray="2.6,3.5"/>
<line x1="139.4" y1="286.1" x2="918.6" y2="286.1" stroke="#b2b2b2" stroke-width="1" stroke-dasharray="2.6,3.5"/>
<line x1="139.4" y1="216.2" x2="918.6" y2="216.2" stroke="#b2b2b2" stroke-width="1" stroke-dasharray="2.6,3.5"/>
<line x1="139.4" y1="146.3" x2="918.6" y2="146.3" stroke="#b2b2b2" stroke-width="1" stroke-dasharray="2.6,3.5"/>
<line x1="139.4" y1="76.4" x2="918.6" y2="76.4" stroke="#b2b2b2" stroke-width="1" stroke-dasharray="2.6,3.5"/>
<path d="M139.4,509.0 V6.5 H918.6 V509.0" fill="none" stroke="#9a9a9a" stroke-width="1.2"/>
<path d="M139.4,509.0 V6.5 H918.6 V509.0" fill="none" stroke="#000" stroke-width="1.5" stroke-dasharray="3.4,2.8"/>
<line x1="138.6" y1="509.0" x2="919.4" y2="509.0" stroke="#000" stroke-width="1.6"/>
<line x1="139.4" y1="509.0" x2="139.4" y2="523.7" stroke="#000" stroke-width="1.6"/>
<text transform="translate(139.4,565.5) scale(1,1.04)" text-anchor="middle" font-size="38.5">0</text>
<line x1="250.7" y1="509.0" x2="250.7" y2="523.7" stroke="#000" stroke-width="1.6"/>
<text transform="translate(250.7,565.5) scale(1,1.04)" text-anchor="middle" font-size="38.5">5</text>
<line x1="362.0" y1="509.0" x2="362.0" y2="523.7" stroke="#000" stroke-width="1.6"/>
<text transform="translate(362.0,565.5) scale(1,1.04)" text-anchor="middle" font-size="38.5">10</text>
<line x1="473.3" y1="509.0" x2="473.3" y2="523.7" stroke="#000" stroke-width="1.6"/>
<text transform="translate(473.3,565.5) scale(1,1.04)" text-anchor="middle" font-size="38.5">15</text>
<line x1="584.6" y1="509.0" x2="584.6" y2="523.7" stroke="#000" stroke-width="1.6"/>
<text transform="translate(584.6,565.5) scale(1,1.04)" text-anchor="middle" font-size="38.5">20</text>
<line x1="695.9" y1="509.0" x2="695.9" y2="523.7" stroke="#000" stroke-width="1.6"/>
<text transform="translate(695.9,565.5) scale(1,1.04)" text-anchor="middle" font-size="38.5">25</text>
<line x1="807.2" y1="509.0" x2="807.2" y2="523.7" stroke="#000" stroke-width="1.6"/>
<text transform="translate(807.2,565.5) scale(1,1.04)" text-anchor="middle" font-size="38.5">30</text>
<line x1="918.5" y1="509.0" x2="918.5" y2="523.7" stroke="#000" stroke-width="1.6"/>
<text transform="translate(918.5,565.5) scale(1,1.04)" text-anchor="middle" font-size="38.5">35</text>
<line x1="123.2" y1="495.8" x2="139.4" y2="495.8" stroke="#000" stroke-width="1.6"/>
<line x1="123.2" y1="425.9" x2="139.4" y2="425.9" stroke="#000" stroke-width="1.6"/>
<line x1="123.2" y1="356.0" x2="139.4" y2="356.0" stroke="#000" stroke-width="1.6"/>
<line x1="123.2" y1="286.1" x2="139.4" y2="286.1" stroke="#000" stroke-width="1.6"/>
<line x1="123.2" y1="216.2" x2="139.4" y2="216.2" stroke="#000" stroke-width="1.6"/>
<line x1="123.2" y1="146.3" x2="139.4" y2="146.3" stroke="#000" stroke-width="1.6"/>
<line x1="123.2" y1="76.4" x2="139.4" y2="76.4" stroke="#000" stroke-width="1.6"/>
<line x1="123.2" y1="6.5" x2="139.4" y2="6.5" stroke="#000" stroke-width="1.6"/>
<text transform="translate(103.2,495.8) rotate(-90) scale(1,1.04)" text-anchor="middle" font-size="38.5">30</text>
<text transform="translate(103.2,356.0) rotate(-90) scale(1,1.04)" text-anchor="middle" font-size="38.5">50</text>
<text transform="translate(103.2,216.2) rotate(-90) scale(1,1.04)" text-anchor="middle" font-size="38.5">70</text>
<text transform="translate(103.2,76.4) rotate(-90) scale(1,1.04)" text-anchor="middle" font-size="38.5">90</text>
<g transform="translate(452,619.3)"><text transform="scale(1,1.03)" font-size="39.5"><tspan>T</tspan><tspan x="23" y="6.3" font-size="27.5">surf</tspan><tspan x="88" y="0">[°C]</tspan></text></g>
<g transform="translate(33.5,346) rotate(-90)"><text transform="scale(1,1.03)" font-size="39.5"><tspan>RH</tspan><tspan x="56" y="6.3" font-size="27.5">surf</tspan><tspan x="119.5" y="0">[%]</tspan></text></g>
<circle cx="188.5" cy="360.4" r="8.6" fill="none" stroke="#1b9e77" stroke-width="1.8"/>
<text x="224" y="371.5" font-size="38.5">RH<tspan x="278.5" dy="7.3" font-size="27.2">bulk</tspan></text>
<circle cx="188.5" cy="406.6" r="8.6" fill="none" stroke="#d95f02" stroke-width="1.8"/>
<text x="224" y="417.7" font-size="38.5">RH<tspan x="278.5" dy="7.3" font-size="27.2">meas</tspan></text>
<circle cx="188.5" cy="452.9" r="8.6" fill="none" stroke="#7570b3" stroke-width="1.8"/>
<text x="224" y="464.0" font-size="38.5">RH<tspan x="278.5" dy="7.3" font-size="27.2">mod</tspan></text>
</svg>
</body></html>
